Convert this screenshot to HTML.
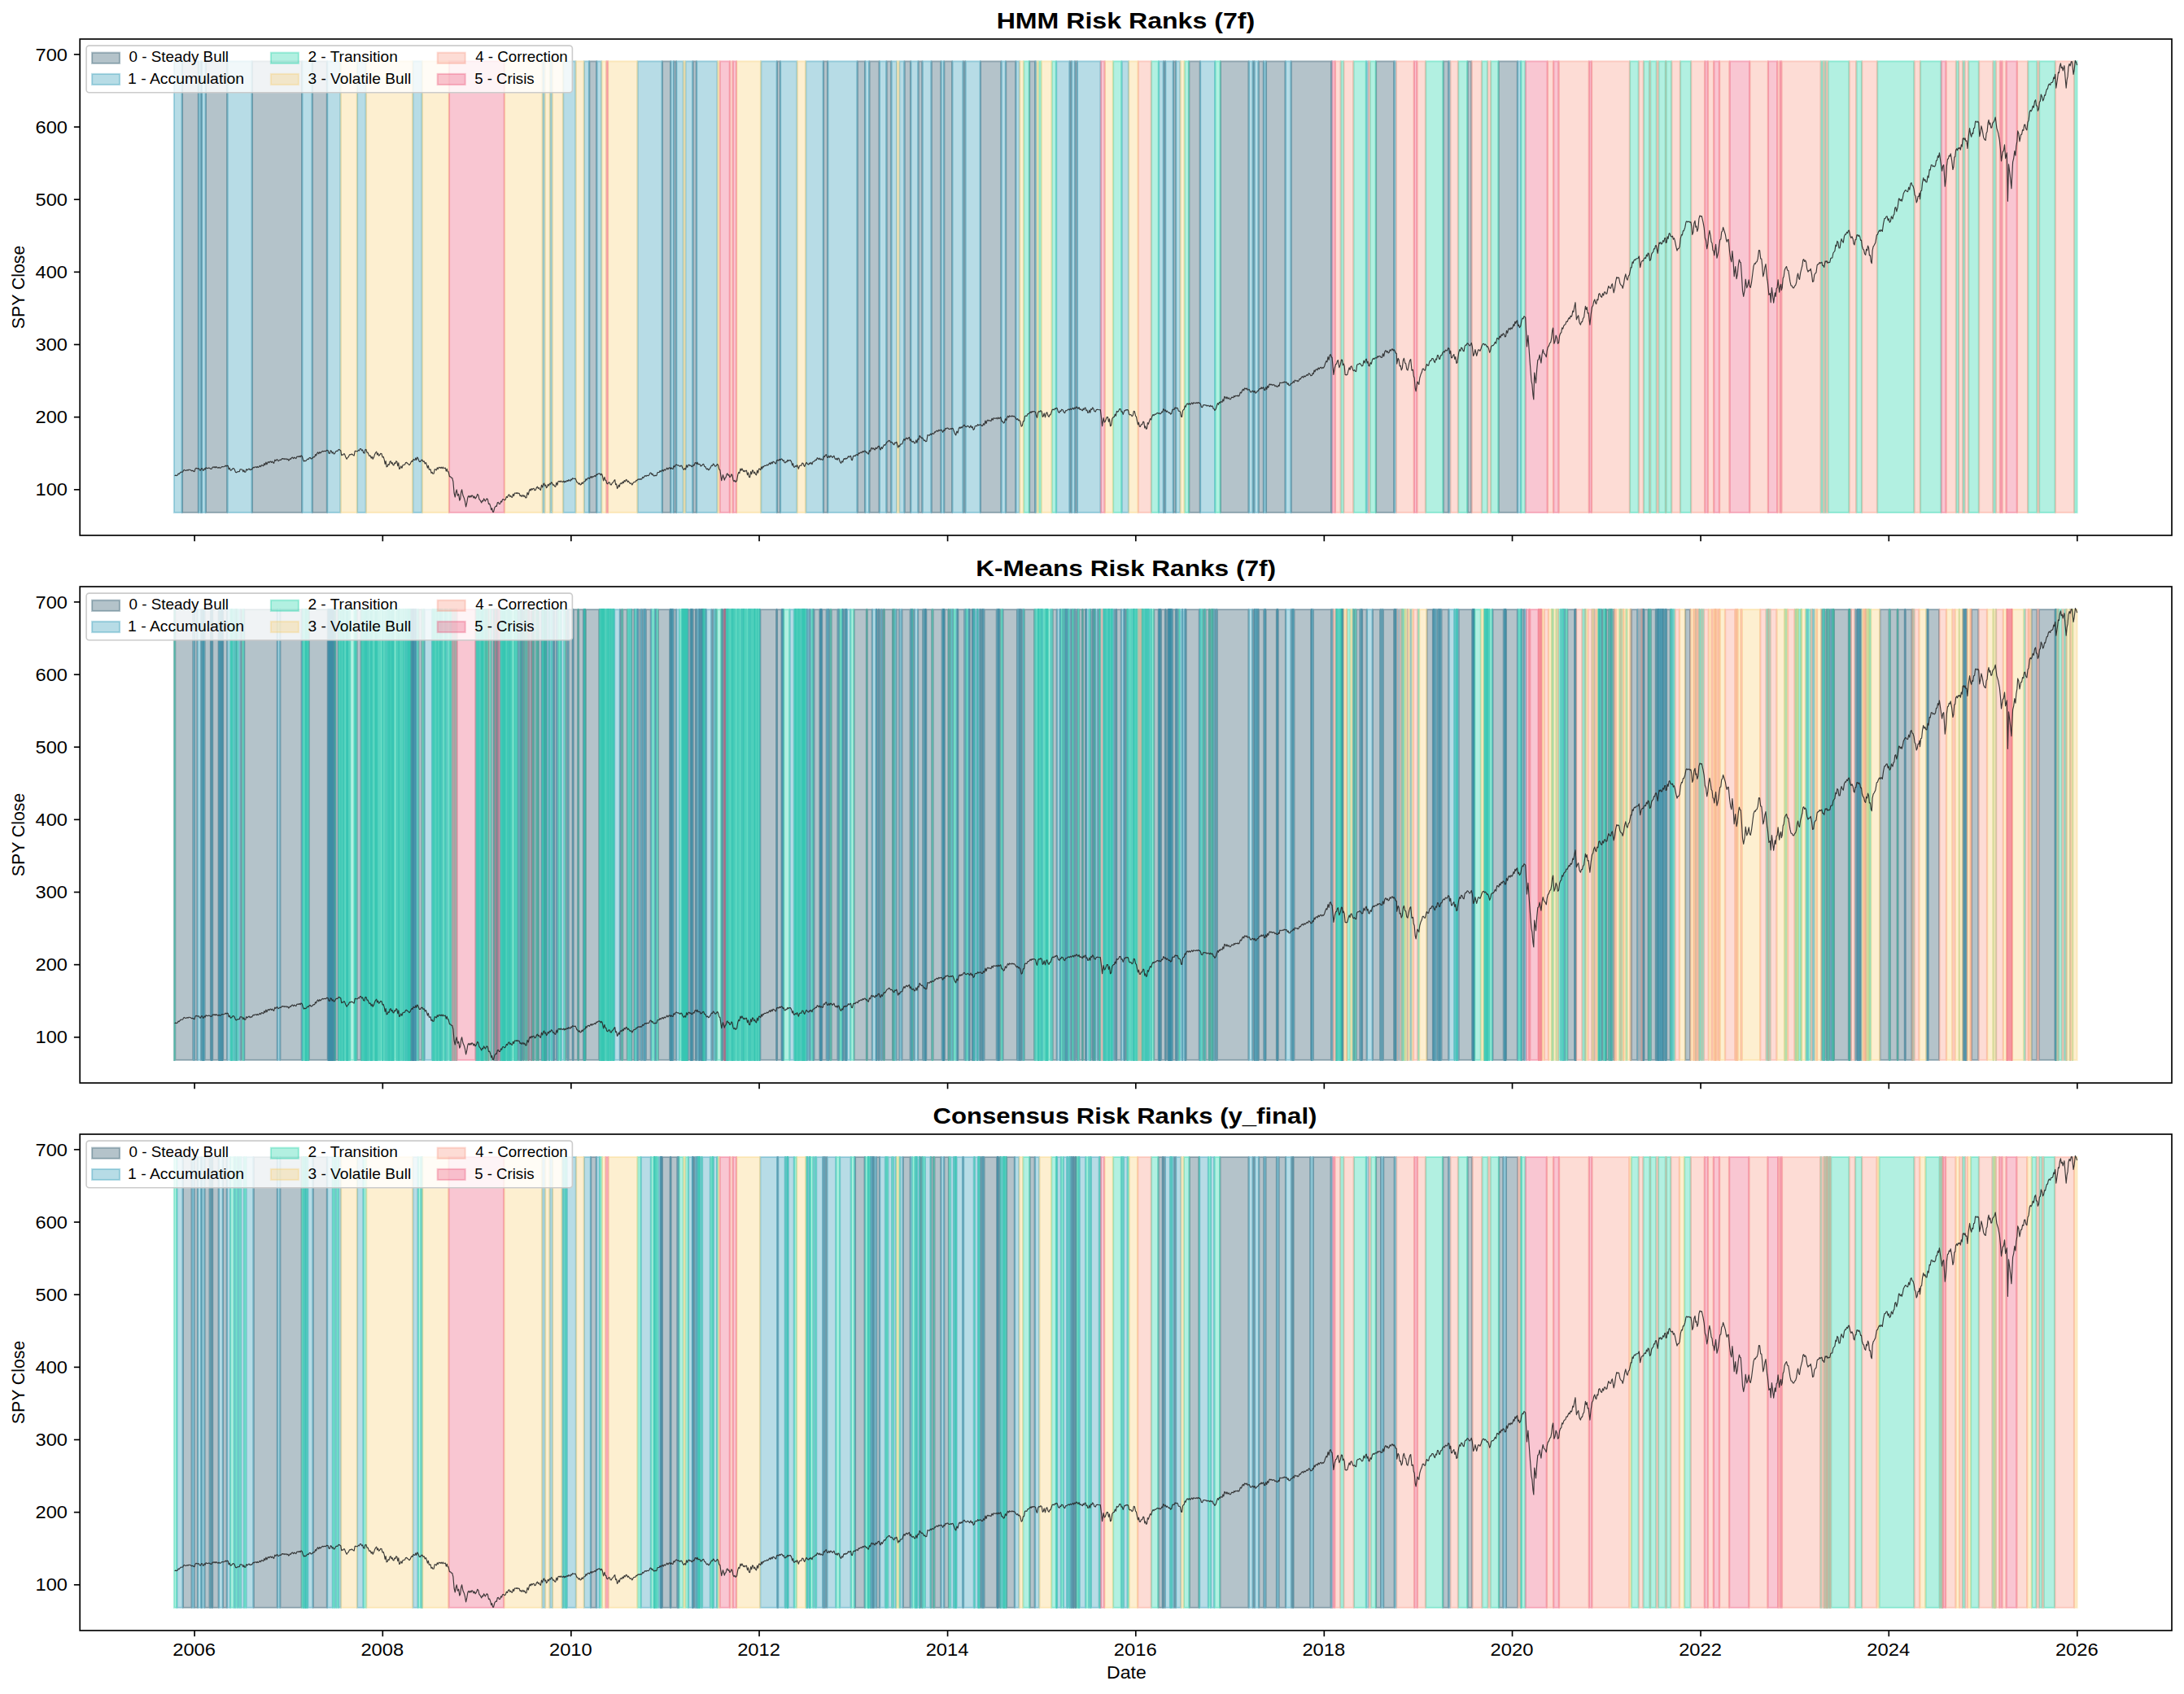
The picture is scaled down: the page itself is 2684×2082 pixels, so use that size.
<!DOCTYPE html><html><head><meta charset="utf-8"><style>html,body{margin:0;padding:0;background:#fff;width:2684px;height:2082px;overflow:hidden}svg{display:block}text{font-family:"Liberation Sans",sans-serif;fill:#000}.b0 rect{y:75.30px;height:554.70px}.b1 rect{y:749.00px;height:553.90px}.b2 rect{y:1422.00px;height:553.90px}.rS{fill:rgb(5,55,78);fill-opacity:0.300;stroke:rgb(5,55,78);stroke-opacity:0.300;stroke-width:2.08px}.rA{fill:rgb(15,138,172);fill-opacity:0.300;stroke:rgb(15,138,172);stroke-opacity:0.300;stroke-width:2.08px}.rT{fill:rgb(0,205,155);fill-opacity:0.300;stroke:rgb(0,205,155);stroke-opacity:0.300;stroke-width:2.08px}.rV{fill:rgb(248,202,98);fill-opacity:0.300;stroke:rgb(248,202,98);stroke-opacity:0.300;stroke-width:2.08px}.rR{fill:rgb(248,140,116);fill-opacity:0.300;stroke:rgb(248,140,116);stroke-opacity:0.300;stroke-width:2.08px}.rC{fill:rgb(235,65,105);fill-opacity:0.300;stroke:rgb(235,65,105);stroke-opacity:0.300;stroke-width:2.08px}</style></head><body>
<svg width="2684" height="2082" viewBox="0 0 2684 2082">
<rect width="2684" height="2082" fill="#fff"/>
<g class="b0">
<g class="rS">
<rect x="224.01" width="19.76"/><rect x="246.98" width="0.92"/><rect x="252.95" width="26.19"/><rect x="309.93" width="61.11"/><rect x="383.90" width="17.92"/><rect x="724.37" width="8.73"/><rect x="813.97" width="10.11"/><rect x="828.21" width="2.76"/><rect x="851.64" width="4.14"/><rect x="955.02" width="3.68"/><rect x="1012.00" width="5.05"/><rect x="1053.81" width="9.19"/><rect x="1068.51" width="11.95"/><rect x="1089.65" width="5.51"/><rect x="1111.70" width="7.35"/><rect x="1128.70" width="4.59"/><rect x="1144.79" width="11.49"/><rect x="1160.41" width="9.65"/><rect x="1183.84" width="2.30"/><rect x="1204.98" width="25.27"/><rect x="1236.22" width="11.95"/><rect x="1265.17" width="6.89"/><rect x="1314.79" width="1.84"/><rect x="1321.22" width="2.30"/><rect x="1430.12" width="1.84"/><rect x="1442.06" width="2.76"/><rect x="1461.36" width="13.32"/><rect x="1499.96" width="34.46"/><rect x="1539.93" width="1.38"/><rect x="1546.82" width="5.97"/><rect x="1556.01" width="23.43"/><rect x="1586.80" width="49.16"/><rect x="1691.09" width="22.05"/><rect x="1773.80" width="6.43"/><rect x="1803.66" width="4.59"/><rect x="1841.80" width="22.97"/>
</g>
<g class="rA">
<rect x="213.90" width="9.65"/><rect x="244.22" width="2.30"/><rect x="248.36" width="4.14"/><rect x="279.60" width="29.87"/><rect x="371.50" width="11.95"/><rect x="402.28" width="16.08"/><rect x="439.04" width="10.57"/><rect x="507.50" width="11.03"/><rect x="666.94" width="2.30"/><rect x="676.13" width="2.30"/><rect x="692.21" width="15.16"/><rect x="717.94" width="5.97"/><rect x="733.56" width="5.51"/><rect x="783.64" width="29.87"/><rect x="824.54" width="3.22"/><rect x="831.43" width="8.27"/><rect x="842.45" width="8.73"/><rect x="856.24" width="25.27"/><rect x="935.27" width="19.30"/><rect x="959.16" width="20.22"/><rect x="990.40" width="21.14"/><rect x="1017.51" width="35.84"/><rect x="1063.46" width="4.59"/><rect x="1080.92" width="8.27"/><rect x="1095.62" width="6.43"/><rect x="1105.27" width="5.97"/><rect x="1119.51" width="8.73"/><rect x="1133.76" width="10.57"/><rect x="1156.73" width="3.22"/><rect x="1170.52" width="12.87"/><rect x="1186.60" width="17.92"/><rect x="1230.71" width="5.05"/><rect x="1248.63" width="4.14"/><rect x="1272.52" width="1.38"/><rect x="1298.25" width="16.08"/><rect x="1317.09" width="3.68"/><rect x="1323.98" width="28.49"/><rect x="1378.66" width="8.27"/><rect x="1424.14" width="5.51"/><rect x="1432.41" width="9.19"/><rect x="1445.28" width="5.05"/><rect x="1475.14" width="17.92"/><rect x="1534.87" width="4.59"/><rect x="1541.77" width="4.59"/><rect x="1553.25" width="2.30"/><rect x="1579.90" width="6.43"/><rect x="1636.42" width="0.46"/><rect x="1679.15" width="2.30"/><rect x="1713.61" width="1.84"/><rect x="1780.69" width="1.38"/><rect x="1865.23" width="3.68"/>
</g>
<g class="rT">
<rect x="1258.27" width="6.43"/><rect x="1276.65" width="2.76"/><rect x="1292.73" width="5.05"/><rect x="1368.09" width="10.11"/><rect x="1414.95" width="8.73"/><rect x="1455.85" width="5.05"/><rect x="1493.52" width="5.97"/><rect x="1647.90" width="3.22"/><rect x="1663.53" width="15.16"/><rect x="1683.74" width="6.89"/><rect x="1752.20" width="21.14"/><rect x="1792.18" width="11.03"/><rect x="1821.12" width="6.89"/><rect x="1832.15" width="9.19"/><rect x="1869.37" width="5.05"/><rect x="2003.07" width="10.57"/><rect x="2020.07" width="6.89"/><rect x="2028.35" width="7.35"/><rect x="2038.45" width="8.27"/><rect x="2047.64" width="6.43"/><rect x="2065.10" width="12.87"/><rect x="2237.86" width="2.30"/><rect x="2242.46" width="1.38"/><rect x="2246.59" width="25.73"/><rect x="2281.51" width="6.43"/><rect x="2307.24" width="45.03"/><rect x="2360.08" width="25.27"/><rect x="2404.19" width="2.76"/><rect x="2412.46" width="1.84"/><rect x="2419.35" width="12.41"/><rect x="2449.68" width="2.76"/><rect x="2492.41" width="11.03"/><rect x="2506.19" width="19.30"/><rect x="2549.38" width="3.22"/>
</g>
<g class="rV">
<rect x="418.82" width="19.76"/><rect x="450.07" width="56.97"/><rect x="518.99" width="32.62"/><rect x="620.07" width="46.41"/><rect x="669.69" width="5.97"/><rect x="678.88" width="12.87"/><rect x="707.83" width="9.65"/><rect x="739.53" width="5.51"/><rect x="747.34" width="35.84"/><rect x="840.16" width="1.84"/><rect x="881.97" width="2.30"/><rect x="905.40" width="29.41"/><rect x="979.84" width="10.11"/><rect x="1102.51" width="2.30"/><rect x="1253.22" width="4.59"/><rect x="1274.36" width="1.84"/><rect x="1279.87" width="12.41"/><rect x="1357.98" width="9.65"/><rect x="1387.39" width="11.03"/><rect x="1450.79" width="4.59"/>
</g>
<g class="rR">
<rect x="897.13" width="3.22"/><rect x="1398.87" width="15.62"/><rect x="1641.01" width="6.43"/><rect x="1651.58" width="11.49"/><rect x="1681.91" width="1.38"/><rect x="1715.91" width="21.60"/><rect x="1741.64" width="10.11"/><rect x="1782.53" width="9.19"/><rect x="1808.72" width="11.95"/><rect x="1828.48" width="3.22"/><rect x="1901.99" width="6.89"/><rect x="1915.78" width="36.76"/><rect x="1956.21" width="46.41"/><rect x="2014.10" width="5.51"/><rect x="2027.43" width="0.46"/><rect x="2036.16" width="1.84"/><rect x="2047.18" width="0.01"/><rect x="2054.54" width="10.11"/><rect x="2078.43" width="16.54"/><rect x="2099.10" width="6.89"/><rect x="2113.35" width="11.95"/><rect x="2150.56" width="22.05"/><rect x="2184.56" width="2.76"/><rect x="2189.62" width="47.78"/><rect x="2240.62" width="1.38"/><rect x="2244.30" width="1.84"/><rect x="2272.78" width="8.27"/><rect x="2288.41" width="18.38"/><rect x="2352.73" width="6.89"/><rect x="2391.79" width="11.95"/><rect x="2407.41" width="4.59"/><rect x="2414.76" width="4.14"/><rect x="2432.22" width="17.00"/><rect x="2452.90" width="5.05"/><rect x="2460.71" width="4.59"/><rect x="2479.08" width="12.87"/><rect x="2503.90" width="1.84"/><rect x="2525.95" width="22.97"/>
</g>
<g class="rC">
<rect x="552.07" width="67.54"/><rect x="745.51" width="1.38"/><rect x="884.73" width="11.95"/><rect x="900.81" width="4.14"/><rect x="1352.93" width="4.59"/><rect x="1637.34" width="3.22"/><rect x="1737.96" width="3.22"/><rect x="1874.88" width="26.65"/><rect x="1909.34" width="5.97"/><rect x="1952.99" width="2.76"/><rect x="2095.43" width="3.22"/><rect x="2106.46" width="6.43"/><rect x="2125.75" width="24.35"/><rect x="2173.08" width="11.03"/><rect x="2187.78" width="1.38"/><rect x="2385.81" width="5.51"/><rect x="2458.41" width="1.84"/><rect x="2465.76" width="12.87"/>
</g>
</g>
<polyline points="214.6,584.8 215.8,584.1 217.0,584.6 218.2,584.0 219.1,582.1 220.1,582.7 221.0,581.5 222.3,580.1 223.7,580.2 224.6,580.0 225.6,577.9 226.5,577.4 227.8,578.4 229.2,578.1 230.1,577.6 231.1,578.2 232.0,577.2 232.9,577.2 234.7,578.1 235.8,578.8 236.8,578.3 237.9,579.3 239.0,579.6 240.0,576.1 241.1,575.3 242.2,575.9 243.4,575.8 244.4,575.8 245.3,577.8 246.4,578.1 247.5,575.8 248.4,575.6 249.4,578.1 250.3,578.1 251.2,575.8 252.2,577.1 253.1,574.6 254.0,575.3 255.2,575.6 256.4,575.0 257.6,575.3 258.8,576.2 259.9,576.5 261.0,574.5 262.2,573.8 263.1,574.7 264.0,573.7 265.0,574.8 265.9,573.6 266.8,574.4 268.0,575.2 269.2,574.3 270.4,575.3 271.3,575.0 272.3,573.8 273.2,573.5 274.5,573.8 275.9,573.5 277.0,572.1 278.0,573.2 279.1,572.1 280.2,572.5 281.2,576.8 282.2,575.2 283.3,578.1 284.6,577.6 286.0,575.8 287.1,575.5 288.3,577.2 289.5,580.4 290.6,580.8 292.0,579.7 293.3,579.5 294.2,579.6 295.2,576.7 296.1,576.7 297.9,577.2 298.8,579.7 299.8,577.9 300.7,580.2 301.8,580.1 302.9,576.5 304.1,578.0 305.2,576.5 306.2,576.1 307.3,577.7 308.3,576.7 309.4,577.2 311.2,574.4 312.3,574.8 313.3,573.9 314.4,574.0 315.3,574.6 316.2,573.4 317.2,574.5 318.1,574.0 319.2,572.3 320.4,573.7 321.5,571.6 322.6,572.1 323.7,572.7 324.7,569.7 325.8,571.3 326.9,568.1 327.9,570.8 329.0,568.5 329.9,567.5 330.9,568.7 331.8,567.2 332.7,567.1 333.6,568.5 334.6,567.2 335.5,568.5 336.6,569.4 337.8,565.1 338.9,566.5 340.0,564.8 340.9,564.7 341.9,566.6 342.8,566.2 344.0,565.1 345.2,565.5 346.4,563.9 347.3,563.6 348.2,564.1 349.2,563.7 350.1,564.6 351.0,563.9 351.9,563.8 352.8,564.9 353.8,564.1 354.7,566.1 355.6,565.3 356.5,563.9 357.5,564.3 358.4,562.5 359.5,562.0 360.6,563.6 361.8,562.1 362.9,563.0 363.8,563.6 364.8,561.2 365.7,561.1 366.8,561.5 367.9,560.5 369.0,561.7 370.1,559.9 371.2,560.7 372.4,564.7 373.5,567.1 374.6,566.2 375.6,566.6 376.7,565.7 377.9,564.0 379.1,564.6 380.3,562.5 381.2,562.4 382.2,563.9 383.4,563.7 384.6,562.1 385.8,561.6 386.7,561.6 387.6,558.6 388.6,559.8 389.5,557.5 390.6,555.8 391.7,557.7 392.8,555.5 393.9,556.9 395.0,555.6 396.2,554.3 397.4,555.0 398.6,554.3 400.0,554.7 401.8,553.3 403.0,553.5 404.1,557.0 405.2,557.4 406.2,553.7 407.3,554.2 408.2,557.0 409.2,555.7 410.1,557.9 411.3,557.6 412.5,554.9 413.7,554.2 414.8,554.5 415.8,552.7 416.9,552.4 417.9,553.4 418.8,553.8 419.7,559.7 420.6,558.8 421.5,559.2 422.5,557.7 423.4,557.9 424.8,561.7 426.1,564.3 427.2,562.2 428.2,561.7 429.3,559.3 430.2,558.5 431.2,559.0 432.1,557.9 433.2,558.5 434.3,559.7 435.2,560.0 436.2,554.4 437.1,554.2 438.2,554.7 439.4,554.7 440.4,553.2 441.4,553.9 442.5,551.5 443.5,551.5 444.6,553.8 445.6,552.9 446.7,556.5 447.8,557.1 448.8,552.7 449.9,552.4 451.0,556.1 452.0,556.0 453.1,558.8 454.1,560.6 455.1,559.9 456.2,563.1 457.2,561.2 458.2,564.3 459.3,562.3 460.4,558.8 461.5,556.5 462.7,555.1 463.6,558.9 464.6,557.1 465.5,560.2 466.6,559.3 467.8,557.4 468.9,557.5 470.1,562.0 471.2,561.4 472.3,565.2 473.2,570.3 474.1,566.6 475.1,573.8 476.0,573.5 477.0,570.7 478.1,571.4 479.1,567.4 480.1,566.6 481.0,569.8 482.0,568.4 482.9,571.2 483.9,572.0 484.9,568.9 485.9,569.7 486.9,566.7 487.9,567.5 488.8,572.7 489.8,568.9 490.7,576.4 491.6,575.8 492.8,572.9 493.9,575.2 495.1,571.6 496.2,571.2 497.4,571.2 498.6,568.6 499.8,568.4 500.9,569.8 501.9,570.2 503.0,571.6 504.1,570.4 505.3,567.5 506.2,566.3 507.1,567.4 508.1,564.4 509.0,565.2 509.9,565.5 510.8,562.9 511.8,565.3 512.7,562.0 513.6,562.9 515.4,567.5 516.6,567.4 517.8,565.4 519.0,565.2 520.1,567.5 521.2,566.8 522.3,570.0 523.4,568.5 524.5,571.6 525.4,575.1 526.4,572.3 527.3,577.1 528.2,577.1 529.1,576.8 530.0,581.5 531.0,580.3 531.9,582.2 533.1,582.1 534.3,576.7 535.5,577.1 536.4,577.8 537.3,574.8 538.3,576.4 539.2,574.4 540.1,574.4 541.2,575.4 542.2,574.2 543.3,575.7 544.4,574.0 545.4,575.7 546.5,575.3 547.4,575.1 548.3,579.1 549.3,576.4 550.2,579.7 551.1,579.9 552.5,585.8 553.6,585.9 554.6,587.1 555.7,587.2 556.9,591.9 558.1,606.0 559.3,611.0 560.2,605.3 561.2,601.8 562.4,609.2 563.6,607.2 564.8,615.1 565.7,613.2 566.7,604.6 567.6,601.8 569.0,609.1 570.3,611.9 571.5,616.3 572.6,622.9 573.8,617.7 574.9,611.0 575.9,609.4 576.9,611.3 577.9,609.3 578.9,611.0 579.9,608.8 580.9,609.2 582.0,612.0 583.0,610.0 584.1,612.8 585.5,610.9 586.8,607.3 587.9,608.6 588.9,613.5 590.0,614.7 591.8,617.9 592.7,615.3 593.7,616.0 594.6,612.8 596.4,616.0 598.2,612.8 599.4,613.8 600.5,619.5 601.6,619.0 602.8,622.5 603.7,626.7 604.6,624.6 605.6,629.1 606.5,629.3 607.9,623.8 609.2,622.0 610.3,622.4 611.3,617.8 612.4,617.4 613.5,619.5 614.7,619.2 615.6,616.0 616.6,617.0 617.5,613.8 618.9,613.6 620.2,614.7 621.3,613.9 622.4,610.4 623.5,611.5 624.6,608.6 625.7,607.8 626.6,610.3 627.6,609.4 628.5,611.0 629.5,611.3 630.5,607.3 631.5,609.4 632.5,606.0 633.5,606.0 634.4,606.5 635.4,605.5 636.3,606.7 637.2,606.0 638.2,606.5 639.2,609.6 640.3,608.6 641.3,610.5 642.7,608.3 643.8,610.3 644.8,609.2 645.9,611.9 647.0,611.7 648.1,605.4 649.3,608.0 650.4,603.2 651.3,601.2 652.2,603.0 653.2,600.5 654.1,602.0 655.0,600.5 656.1,600.3 657.1,602.7 658.2,602.3 659.4,599.2 660.5,598.2 661.4,600.3 662.4,599.3 663.3,601.4 664.4,602.3 665.5,596.2 666.7,598.9 667.8,595.0 668.7,594.0 669.6,597.2 670.6,596.0 671.5,599.6 672.4,598.6 673.4,595.3 674.4,597.0 675.5,594.3 676.5,595.2 677.5,592.7 678.5,593.4 679.5,596.1 680.6,595.9 681.6,597.7 682.7,598.3 683.8,593.0 684.9,596.2 686.0,591.7 687.1,591.3 688.2,592.3 689.4,591.0 690.5,592.3 691.6,592.2 692.5,591.1 693.4,592.9 694.4,591.3 695.3,592.5 696.2,591.3 697.1,590.5 698.0,591.5 699.0,589.6 699.9,590.4 700.8,591.2 701.7,589.0 702.7,589.8 703.6,587.7 704.5,588.1 705.9,588.5 707.2,588.1 709.0,592.7 710.0,592.9 711.1,595.1 712.2,593.8 713.2,595.9 714.2,595.5 715.2,593.0 716.2,594.5 717.2,592.2 718.2,591.8 719.1,591.7 720.0,588.7 721.0,590.1 721.9,588.1 723.1,587.3 724.3,588.3 725.5,586.7 726.4,585.5 727.3,587.3 728.3,585.6 729.2,586.1 730.1,585.4 731.0,584.5 731.9,585.6 732.9,583.1 733.8,583.6 734.7,582.6 736.0,581.9 737.4,582.2 738.3,584.0 739.3,582.3 740.2,584.0 741.6,590.9 742.9,586.3 743.8,590.1 744.8,590.5 745.7,594.1 746.9,594.8 748.1,592.7 749.3,593.1 750.2,595.7 751.2,595.9 752.4,593.4 753.6,592.8 754.8,590.4 755.7,589.7 756.6,595.6 757.6,594.8 758.5,600.4 759.4,599.1 760.3,596.1 761.2,598.3 762.2,594.4 763.1,593.6 764.1,594.7 765.2,592.1 766.2,593.7 767.3,590.5 768.3,591.9 769.4,589.4 770.4,590.0 771.3,592.4 772.3,591.2 773.2,592.7 774.4,594.3 775.6,593.8 776.8,595.9 778.6,592.7 780.0,592.4 780.9,592.3 781.9,590.3 782.8,590.6 783.7,589.2 784.7,588.9 785.7,589.4 786.7,588.5 787.7,589.3 788.7,588.8 789.8,586.3 790.8,587.3 791.9,585.5 793.0,584.5 794.1,585.4 795.2,584.2 796.3,584.7 797.4,584.2 799.2,581.0 800.1,581.2 801.0,583.2 802.0,582.3 802.9,584.6 803.9,585.1 805.0,584.1 806.0,584.8 807.0,584.2 808.1,580.6 809.3,580.5 810.2,580.4 811.1,578.5 812.1,579.9 813.0,578.7 814.1,577.5 815.2,579.1 816.3,576.9 817.4,578.0 818.5,576.8 819.7,575.2 820.9,576.9 822.1,575.0 823.0,574.7 824.0,576.4 824.9,574.9 825.8,575.9 826.9,576.5 828.0,572.7 829.1,574.0 830.2,571.4 831.3,570.9 832.5,571.9 833.7,571.8 834.9,572.7 835.8,573.3 836.8,572.1 837.7,572.3 839.0,575.5 840.4,577.3 841.5,575.5 842.6,577.1 843.7,571.6 844.8,574.4 845.9,571.4 846.9,571.2 847.9,572.6 849.0,571.9 850.0,573.6 851.0,573.2 852.0,571.4 853.0,572.1 854.1,568.9 855.1,568.6 856.0,570.3 857.0,568.2 857.9,570.8 858.8,570.4 860.0,570.5 861.2,573.0 862.4,572.3 863.5,570.8 864.7,570.4 865.8,573.4 866.8,573.6 867.9,575.9 868.8,576.9 869.8,575.9 870.7,577.7 871.6,577.3 873.4,574.1 874.5,572.0 875.5,572.5 876.6,570.0 877.8,571.3 878.9,573.2 880.2,572.5 881.6,570.4 882.7,572.1 883.8,576.8 884.9,577.8 886.7,590.6 888.5,583.7 890.3,590.1 891.2,587.3 892.1,586.7 893.1,582.6 894.0,581.9 894.9,584.2 895.9,583.6 896.8,586.5 897.9,585.8 899.0,582.8 900.0,584.1 900.9,589.7 902.0,591.7 903.0,590.3 904.1,592.4 905.5,590.9 906.8,583.3 907.8,580.4 908.8,581.7 909.9,576.0 910.9,578.3 911.9,575.9 913.7,579.6 914.6,578.3 915.5,579.8 916.5,578.3 917.4,578.2 918.5,583.7 919.5,580.9 920.6,586.5 921.6,586.6 922.7,579.6 923.7,582.7 924.7,577.8 925.6,578.4 926.5,581.7 927.5,580.2 928.4,582.8 929.5,583.8 930.6,578.1 931.6,581.2 932.7,576.0 933.8,576.4 934.7,577.6 935.7,573.8 936.6,576.1 937.5,573.3 938.4,573.9 939.4,572.3 940.3,572.3 941.4,572.5 942.5,571.0 943.7,572.0 944.8,570.4 945.9,568.9 946.9,570.6 948.0,568.0 949.1,569.8 950.1,567.2 951.2,567.7 952.4,569.1 953.5,570.0 954.6,565.9 955.8,565.4 956.9,566.1 958.0,564.4 959.1,565.5 960.2,563.9 961.3,564.5 962.2,566.4 963.2,565.7 964.1,568.6 965.1,568.8 966.1,567.2 967.0,567.8 968.0,565.3 969.0,566.7 970.0,565.6 971.4,565.6 972.7,567.9 973.6,572.0 974.5,569.6 975.5,574.0 976.4,574.3 977.5,572.5 978.5,573.7 979.6,571.6 981.4,576.2 982.5,572.5 983.7,572.0 984.8,572.2 985.8,569.1 986.9,569.3 987.8,571.9 988.8,573.4 990.0,570.2 991.1,568.4 992.5,570.4 993.8,571.1 994.7,569.0 995.7,570.0 996.6,568.4 997.9,570.7 999.0,567.6 1000.2,567.0 1001.2,566.6 1002.2,565.1 1003.3,565.5 1004.3,562.7 1005.3,563.3 1006.3,564.7 1007.3,563.1 1008.3,565.0 1009.3,564.0 1010.3,565.2 1011.3,565.1 1012.3,560.8 1013.4,561.4 1014.4,559.2 1015.5,558.7 1016.5,561.9 1017.6,562.4 1018.7,560.2 1019.7,562.2 1020.8,560.1 1022.0,560.9 1023.1,562.4 1024.9,560.1 1026.1,563.6 1027.2,564.7 1028.1,563.3 1029.1,565.2 1030.0,563.0 1030.9,563.3 1032.2,567.3 1033.6,569.3 1034.7,566.8 1035.7,568.0 1036.8,564.2 1037.7,563.5 1038.6,564.5 1039.6,563.1 1040.5,563.9 1041.4,562.9 1042.5,560.7 1043.5,561.8 1044.6,560.6 1045.5,560.4 1046.5,565.3 1047.4,565.6 1048.6,560.7 1049.7,560.1 1050.9,560.6 1052.1,558.8 1053.3,558.8 1054.2,559.6 1055.2,556.8 1056.1,557.4 1057.0,556.5 1058.1,555.8 1059.1,556.6 1060.2,554.5 1061.3,555.6 1062.3,554.1 1063.4,554.2 1064.3,556.1 1065.3,555.6 1066.2,557.4 1067.3,558.1 1068.5,553.7 1069.6,554.7 1070.7,551.0 1071.6,550.3 1072.6,552.0 1073.5,550.9 1074.4,552.3 1075.3,552.9 1076.2,550.2 1077.2,551.5 1078.1,550.5 1079.2,548.6 1080.3,548.2 1081.2,551.6 1082.2,552.8 1083.3,549.5 1084.3,551.4 1085.4,548.7 1086.6,546.6 1087.8,547.2 1089.0,545.0 1090.1,543.0 1091.1,543.0 1092.2,541.4 1093.3,541.6 1094.4,543.7 1095.5,543.2 1096.6,543.9 1097.7,545.9 1098.8,546.7 1099.8,543.9 1100.9,544.5 1101.9,543.2 1103.7,550.1 1104.6,547.8 1105.6,548.7 1106.5,546.0 1107.4,545.9 1108.8,545.6 1110.1,541.4 1111.0,539.6 1112.0,541.3 1112.9,539.5 1114.1,538.2 1115.3,539.7 1116.5,538.2 1117.4,537.4 1118.3,541.5 1119.3,539.8 1120.2,542.3 1121.3,543.2 1122.5,542.3 1123.7,544.8 1124.8,544.6 1125.9,540.9 1126.9,544.1 1128.0,539.4 1129.1,540.1 1130.1,535.3 1131.2,536.8 1132.4,538.4 1133.6,538.0 1134.8,540.0 1135.7,541.6 1136.7,541.1 1137.6,542.7 1138.8,542.5 1140.0,534.6 1141.2,534.9 1142.3,535.1 1143.4,533.2 1144.5,534.4 1145.6,532.6 1146.7,533.1 1147.6,533.2 1148.6,530.9 1149.5,531.3 1150.4,529.9 1151.5,529.2 1152.6,530.4 1153.7,528.3 1154.8,529.2 1155.9,528.5 1157.2,528.4 1158.6,531.3 1160.0,528.4 1160.9,529.3 1161.8,526.4 1162.8,527.1 1163.7,526.1 1164.9,526.1 1166.1,527.4 1167.3,527.5 1168.2,526.7 1169.2,527.3 1170.1,526.3 1171.0,526.5 1172.8,531.1 1173.8,533.7 1174.7,534.8 1175.9,530.0 1177.1,532.1 1178.3,526.5 1179.2,525.1 1180.1,526.5 1181.1,524.7 1182.0,525.9 1182.9,524.7 1184.1,522.8 1185.2,522.4 1186.3,524.2 1187.5,524.7 1189.3,523.3 1190.4,524.1 1191.6,525.6 1193.0,522.9 1194.1,525.7 1195.1,524.3 1196.2,528.4 1197.3,527.4 1198.3,523.7 1199.4,523.3 1200.6,523.8 1201.7,521.6 1202.8,522.8 1204.0,522.0 1205.2,521.9 1206.4,523.3 1207.6,523.3 1208.7,520.7 1209.8,522.2 1210.9,517.0 1212.0,520.5 1213.1,516.9 1214.0,516.2 1214.9,517.1 1215.9,516.7 1216.8,516.9 1217.9,517.6 1219.0,514.4 1220.1,516.2 1221.2,513.7 1222.3,514.2 1223.4,514.3 1224.4,513.6 1225.5,514.8 1226.6,513.1 1227.6,514.6 1228.7,513.7 1229.8,512.8 1231.0,517.9 1232.2,517.8 1233.3,520.1 1234.4,519.2 1235.5,514.7 1236.7,516.7 1237.8,512.8 1238.7,511.3 1239.7,513.0 1240.6,510.9 1241.5,511.4 1242.7,512.0 1243.8,510.9 1244.9,511.9 1246.1,511.4 1247.2,512.4 1248.4,514.2 1249.4,515.7 1250.5,514.6 1251.5,516.8 1252.5,516.0 1253.8,517.9 1255.2,524.2 1256.3,523.1 1257.4,517.9 1258.5,517.7 1259.6,511.2 1260.7,511.0 1261.8,511.5 1263.0,508.6 1264.2,508.7 1265.3,507.3 1266.2,506.1 1267.1,507.4 1268.1,505.6 1269.0,506.4 1269.9,505.5 1271.7,505.9 1272.6,506.4 1273.6,511.4 1274.5,513.3 1275.8,506.8 1276.9,505.4 1277.9,506.1 1279.0,504.6 1280.2,505.6 1281.3,512.3 1282.2,511.5 1283.2,507.8 1284.5,512.8 1285.7,507.6 1286.8,506.8 1287.9,510.9 1289.1,512.3 1290.0,509.8 1291.0,509.8 1291.9,507.3 1293.2,503.4 1294.6,503.2 1295.5,503.8 1296.4,502.1 1297.4,502.6 1298.3,501.4 1299.2,501.8 1300.6,506.3 1301.9,507.3 1302.8,504.9 1303.8,505.4 1304.7,503.2 1306.1,503.7 1307.4,506.8 1308.6,507.6 1309.7,504.6 1310.8,504.8 1312.0,503.6 1313.1,502.9 1314.2,503.8 1315.3,502.3 1316.4,503.3 1317.5,502.7 1318.6,501.3 1319.6,503.1 1320.7,501.0 1321.8,502.0 1322.8,499.9 1323.9,500.9 1325.0,502.3 1326.1,500.7 1327.2,503.5 1328.3,502.8 1329.4,504.1 1330.3,504.7 1331.2,502.1 1332.2,503.6 1333.1,501.4 1334.0,501.1 1334.9,504.6 1335.9,504.0 1336.8,507.4 1337.7,507.3 1338.7,504.1 1339.7,507.2 1340.7,502.6 1341.7,503.5 1342.7,500.9 1343.8,502.4 1345.0,505.5 1346.2,506.1 1347.4,503.5 1348.6,503.2 1350.0,503.5 1351.2,503.7 1352.3,503.5 1353.4,512.7 1354.6,523.6 1356.0,513.6 1357.3,519.0 1358.2,518.1 1359.2,515.4 1360.3,512.5 1361.4,512.6 1362.5,518.3 1363.5,514.9 1364.5,523.7 1365.6,522.7 1366.9,514.3 1368.3,512.6 1369.3,512.5 1370.3,509.1 1371.4,511.2 1372.4,505.4 1373.4,506.2 1374.6,505.4 1375.8,502.5 1377.0,502.6 1378.1,506.2 1379.1,505.8 1380.2,509.4 1382.0,504.4 1382.9,504.7 1383.8,503.6 1384.8,503.9 1385.7,503.5 1386.6,504.5 1387.6,509.0 1388.5,509.9 1389.8,509.5 1391.2,511.7 1392.3,510.5 1393.3,505.4 1394.4,505.8 1395.5,511.2 1396.5,512.3 1397.6,518.1 1398.5,521.9 1399.4,519.1 1400.4,524.3 1401.3,524.5 1402.5,521.7 1403.7,521.7 1404.9,518.1 1405.8,518.7 1406.8,525.9 1407.7,523.8 1408.6,527.3 1409.5,526.7 1410.4,519.6 1411.4,521.2 1412.3,518.1 1413.5,514.6 1414.7,516.0 1415.9,511.7 1417.0,509.5 1418.1,510.7 1419.2,509.1 1420.3,509.3 1421.4,508.1 1422.5,507.4 1423.6,508.4 1424.7,507.5 1425.8,508.8 1426.9,508.1 1427.8,506.0 1428.8,506.7 1429.7,502.6 1430.6,503.5 1431.5,505.1 1432.4,503.9 1433.4,506.3 1434.3,505.0 1435.2,506.2 1436.3,507.4 1437.5,507.1 1438.6,509.1 1439.7,508.5 1440.8,503.6 1442.0,503.0 1443.0,503.5 1444.1,500.9 1445.2,501.9 1446.2,501.2 1447.3,501.8 1448.3,505.1 1449.4,505.3 1450.5,506.1 1451.6,512.2 1452.5,512.4 1453.5,504.8 1454.4,503.5 1455.3,502.9 1456.2,498.9 1457.2,500.2 1458.1,497.1 1459.2,495.9 1460.3,497.1 1461.4,495.7 1462.5,497.2 1463.6,496.2 1464.7,495.0 1465.8,496.6 1467.0,494.7 1468.1,495.2 1469.2,495.6 1470.2,494.8 1471.3,495.6 1472.4,494.5 1473.4,495.4 1474.5,495.2 1475.5,497.0 1476.4,500.3 1477.6,500.6 1478.8,497.8 1480.0,497.5 1481.1,498.1 1482.2,497.8 1483.3,499.1 1484.4,498.1 1485.5,498.9 1486.4,499.7 1487.3,498.2 1488.3,499.7 1489.2,498.9 1490.1,499.3 1491.1,502.3 1492.0,502.4 1492.9,504.4 1494.2,502.8 1495.6,498.0 1496.5,495.5 1497.4,497.3 1498.4,494.4 1499.3,495.4 1500.2,493.4 1502.0,494.3 1502.9,490.9 1503.8,493.0 1504.8,487.4 1505.7,487.9 1506.8,489.9 1507.9,487.9 1509.0,490.1 1510.1,488.8 1511.2,490.7 1512.4,490.6 1513.6,488.2 1514.8,488.4 1515.7,488.7 1516.6,486.6 1517.6,487.7 1518.5,486.3 1519.4,486.5 1520.3,486.8 1521.2,486.0 1522.2,487.0 1523.1,486.1 1524.3,482.2 1525.5,483.0 1526.7,479.7 1527.6,478.4 1528.6,480.0 1529.5,477.1 1530.4,477.4 1531.3,478.2 1532.2,477.1 1533.2,479.3 1534.1,478.8 1535.4,478.7 1536.8,482.0 1537.9,481.9 1538.9,480.4 1540.0,480.6 1541.0,482.2 1542.0,480.4 1543.1,483.2 1544.1,482.4 1545.2,480.6 1546.2,480.5 1547.3,478.3 1548.2,477.6 1549.1,478.0 1550.1,475.9 1551.0,477.7 1551.9,476.5 1552.8,476.0 1553.8,479.5 1554.7,479.7 1555.7,475.9 1556.7,478.5 1557.7,474.4 1558.7,476.4 1559.7,472.8 1560.7,472.0 1561.7,473.0 1562.7,472.3 1563.7,473.4 1564.7,472.8 1565.8,472.8 1566.9,474.7 1568.0,473.9 1569.1,475.5 1570.2,475.5 1571.1,473.4 1572.1,474.5 1573.0,470.2 1573.9,470.5 1575.0,470.7 1576.0,470.0 1577.1,470.5 1578.2,469.1 1579.2,470.1 1580.3,469.6 1581.2,469.7 1582.2,472.4 1583.1,471.0 1584.0,473.7 1585.2,473.8 1586.4,471.5 1587.6,471.0 1588.5,470.8 1589.4,468.8 1590.4,470.2 1591.3,467.2 1592.2,467.8 1593.1,468.1 1594.1,467.7 1595.0,468.8 1595.9,468.2 1597.1,465.6 1598.3,466.0 1599.5,463.6 1600.6,462.7 1601.7,464.1 1602.8,461.9 1603.9,463.0 1605.0,461.8 1606.2,460.5 1607.3,461.4 1608.4,458.8 1609.6,459.5 1610.9,461.8 1612.3,461.4 1613.2,458.7 1614.1,459.6 1615.1,455.1 1616.0,456.9 1616.9,454.5 1618.0,453.6 1619.1,454.8 1620.2,452.0 1621.3,453.6 1622.4,451.7 1623.4,451.3 1624.5,452.8 1625.5,451.5 1626.5,452.2 1627.7,450.0 1628.8,446.2 1629.9,443.7 1630.9,444.9 1632.0,438.5 1633.1,442.4 1634.1,436.5 1635.2,435.7 1636.2,438.8 1637.1,439.4 1638.9,460.4 1640.2,452.3 1641.6,447.6 1642.5,447.3 1643.5,443.6 1644.4,442.6 1645.8,451.7 1647.2,448.4 1648.5,442.1 1649.4,442.2 1650.3,448.8 1651.3,447.1 1652.2,449.9 1653.1,460.4 1654.4,460.9 1655.8,460.4 1657.2,454.9 1658.1,451.8 1659.1,454.5 1660.0,450.4 1660.9,449.9 1662.7,454.9 1663.6,455.7 1664.6,454.7 1665.5,456.3 1666.6,456.6 1667.6,448.6 1668.7,447.6 1669.8,447.7 1670.8,446.5 1671.9,447.2 1673.7,449.9 1674.8,449.5 1676.0,443.2 1677.2,446.1 1678.3,442.1 1679.2,441.1 1680.1,446.2 1681.1,444.3 1682.0,449.5 1682.9,449.9 1684.1,445.7 1685.3,447.3 1686.5,442.1 1687.7,440.3 1688.8,441.5 1689.9,439.8 1691.1,439.8 1692.0,440.0 1692.9,437.8 1693.9,438.8 1694.8,437.5 1696.0,437.7 1697.2,439.3 1698.4,439.4 1699.6,434.7 1700.7,438.0 1701.8,432.1 1703.0,430.7 1704.1,432.9 1705.1,431.5 1706.2,433.9 1707.2,433.2 1708.2,429.8 1709.3,431.1 1710.3,429.3 1711.2,428.9 1712.2,431.0 1713.1,429.7 1714.0,431.1 1715.2,433.8 1716.3,434.8 1716.7,447.2 1718.1,440.3 1719.1,442.1 1720.2,449.9 1721.2,449.4 1722.2,454.9 1723.3,452.6 1724.3,443.2 1725.4,440.3 1726.6,446.0 1727.7,447.0 1728.8,453.9 1730.0,455.2 1731.8,446.1 1732.8,442.6 1733.7,441.5 1735.0,455.2 1736.4,454.3 1737.3,462.3 1738.2,464.8 1739.2,477.1 1740.1,480.9 1741.9,469.0 1743.7,472.6 1744.8,464.5 1746.0,460.3 1747.2,457.8 1748.3,453.4 1749.4,453.2 1750.4,455.0 1751.5,455.2 1752.5,450.5 1753.4,447.5 1754.5,449.1 1755.6,449.3 1756.5,445.6 1757.5,443.3 1758.7,443.3 1759.9,440.6 1761.1,440.6 1762.2,443.6 1763.4,445.6 1764.4,441.1 1765.5,442.1 1766.5,436.5 1767.5,436.9 1768.5,440.9 1769.4,441.5 1770.6,436.9 1771.8,436.8 1773.0,433.3 1774.2,431.9 1775.3,432.9 1776.4,430.2 1777.6,431.0 1778.7,430.6 1779.7,427.7 1780.8,428.2 1781.7,434.6 1782.7,431.2 1783.6,439.8 1784.5,439.7 1785.7,436.9 1786.8,435.5 1787.8,441.5 1788.8,438.5 1789.9,446.5 1790.9,445.6 1792.7,433.3 1793.7,429.7 1794.8,431.3 1795.8,427.2 1796.8,427.8 1798.2,431.4 1799.1,431.7 1800.1,425.8 1801.0,424.1 1802.1,424.1 1803.1,421.9 1804.2,422.3 1806.0,425.0 1807.2,423.8 1808.3,421.4 1809.4,426.2 1810.6,437.4 1811.8,434.8 1812.9,429.6 1814.7,437.4 1816.5,430.1 1817.7,429.8 1818.8,431.4 1819.9,429.0 1821.1,425.0 1822.2,422.7 1823.4,422.3 1824.3,424.1 1825.3,423.0 1826.2,424.1 1827.3,426.3 1828.3,425.7 1829.4,428.2 1830.7,433.3 1831.7,430.9 1832.6,425.9 1833.8,424.6 1835.0,424.6 1836.2,423.2 1837.3,420.4 1838.5,422.2 1839.7,415.6 1840.8,415.9 1841.9,417.2 1842.9,413.1 1844.0,415.0 1845.1,411.2 1846.1,412.4 1847.2,409.9 1848.3,410.6 1849.5,414.0 1850.5,413.4 1851.5,406.4 1852.6,409.3 1853.6,404.9 1854.7,403.3 1855.8,405.2 1856.9,402.8 1858.0,404.2 1859.1,402.1 1860.0,398.6 1860.9,400.6 1861.9,395.3 1862.8,397.4 1863.7,394.8 1864.6,393.8 1865.6,400.7 1866.5,399.2 1867.4,402.6 1868.8,400.6 1870.1,393.0 1871.0,391.1 1871.9,391.8 1872.9,388.8 1873.8,389.3 1874.7,390.2 1876.5,425.9 1877.9,412.2 1879.1,429.5 1880.2,445.2 1882.0,468.1 1882.9,472.7 1883.9,484.8 1884.8,491.0 1885.7,458.0 1887.5,470.8 1888.7,454.1 1889.8,442.4 1890.9,441.8 1892.1,436.0 1893.9,446.1 1895.1,435.5 1896.2,429.6 1897.3,434.1 1898.5,435.1 1900.3,438.8 1901.2,431.2 1902.2,426.8 1903.4,425.2 1904.6,421.9 1905.8,420.4 1906.7,415.7 1907.7,406.4 1908.6,403.0 1909.9,422.3 1911.1,419.2 1912.2,412.2 1913.3,415.1 1914.5,422.3 1915.6,421.2 1916.6,412.7 1917.7,409.5 1918.7,408.8 1919.7,402.9 1920.7,404.1 1921.7,400.6 1922.7,399.2 1923.8,398.8 1925.0,395.0 1926.2,395.4 1927.3,392.3 1928.2,390.6 1929.1,391.9 1930.1,388.1 1931.0,389.4 1931.9,387.7 1932.8,382.1 1933.8,383.3 1934.7,378.1 1936.0,371.7 1937.4,392.8 1938.6,389.6 1939.7,387.7 1941.1,396.8 1942.4,399.2 1943.5,395.6 1944.5,395.7 1945.5,391.4 1946.6,390.0 1948.4,376.3 1949.3,380.5 1950.2,377.6 1951.2,385.0 1952.1,384.5 1953.9,399.2 1955.2,386.4 1956.6,377.2 1957.7,375.5 1958.7,370.4 1959.8,368.1 1960.8,372.5 1961.7,373.6 1962.7,368.1 1963.8,368.8 1964.8,361.4 1965.8,360.7 1967.2,364.2 1968.5,365.3 1969.6,360.7 1970.6,363.1 1971.7,358.9 1972.8,359.0 1973.8,361.3 1974.9,360.7 1975.8,355.4 1976.8,351.6 1978.2,353.9 1979.5,354.3 1980.5,350.3 1981.4,348.8 1983.2,359.8 1984.4,354.8 1985.6,346.1 1986.8,340.6 1987.7,341.8 1988.7,341.0 1989.6,341.5 1990.9,348.3 1992.3,350.7 1993.2,350.8 1994.2,354.3 1995.4,349.6 1996.6,341.4 1997.8,336.9 1998.9,342.5 2000.1,344.2 2001.2,339.4 2002.4,337.8 2004.2,328.7 2005.1,328.9 2006.1,321.9 2007.0,323.5 2007.9,320.4 2008.8,319.0 2009.8,319.7 2010.7,318.0 2011.6,317.7 2012.9,317.7 2014.3,314.9 2015.7,328.7 2017.1,322.0 2018.4,320.4 2019.5,320.6 2020.5,317.6 2021.6,316.8 2022.5,317.7 2023.4,313.0 2024.4,315.0 2025.3,311.0 2026.2,311.7 2027.6,320.4 2028.7,319.0 2029.7,312.4 2030.8,310.4 2031.7,309.6 2032.6,305.7 2033.6,305.9 2034.5,301.9 2035.4,301.7 2037.2,311.3 2039.0,298.0 2039.9,299.3 2040.8,297.8 2041.8,300.1 2042.7,299.4 2043.7,295.6 2044.8,297.1 2045.8,292.5 2046.8,292.5 2047.3,298.5 2048.2,298.0 2049.1,290.8 2050.1,293.5 2051.0,287.5 2051.9,286.6 2053.2,290.3 2054.6,291.1 2055.5,290.2 2056.4,294.2 2057.4,292.7 2058.3,295.7 2059.7,302.6 2061.0,308.1 2062.1,305.5 2063.1,305.6 2064.2,303.0 2065.3,292.9 2066.5,288.4 2067.4,288.9 2068.4,283.7 2069.3,283.8 2070.7,279.9 2072.0,272.8 2072.9,271.8 2073.9,273.0 2074.8,272.4 2075.8,272.2 2076.9,273.5 2077.9,272.8 2078.9,278.1 2079.8,288.4 2080.9,285.4 2081.9,274.5 2083.0,271.4 2083.9,279.1 2084.9,278.0 2085.8,284.3 2086.9,280.9 2087.9,268.8 2089.0,265.0 2090.2,266.1 2091.3,265.5 2093.1,273.7 2094.2,279.8 2095.4,292.5 2096.5,295.5 2097.7,305.8 2098.8,299.9 2099.8,289.6 2100.9,283.4 2102.2,290.2 2103.1,297.4 2104.0,298.8 2105.0,307.7 2105.9,308.1 2106.8,314.0 2108.6,300.3 2110.0,317.1 2110.9,313.6 2111.9,308.6 2112.9,300.5 2113.8,294.4 2114.8,293.9 2115.7,285.2 2116.7,284.2 2117.6,279.3 2119.4,285.0 2120.4,288.3 2121.3,294.0 2122.3,297.3 2123.2,294.6 2124.2,294.4 2125.6,309.5 2126.8,318.1 2127.9,321.8 2128.9,308.6 2130.1,321.5 2131.2,339.8 2132.7,327.5 2134.1,342.6 2135.2,337.5 2136.3,326.0 2137.4,319.0 2138.4,322.2 2139.3,322.8 2140.4,338.3 2141.5,357.3 2142.7,364.4 2144.1,356.7 2145.2,343.2 2146.7,353.8 2147.9,350.6 2149.2,343.8 2150.2,351.6 2151.3,353.5 2152.4,348.0 2153.9,336.0 2155.1,326.9 2156.3,323.7 2157.2,324.3 2158.2,322.1 2159.1,321.8 2160.3,317.8 2161.5,307.6 2162.6,307.8 2163.7,317.9 2164.8,318.0 2165.8,327.9 2166.7,339.8 2167.8,336.0 2168.9,328.7 2170.0,324.6 2171.7,343.2 2172.3,346.4 2173.9,362.4 2175.4,360.5 2176.2,371.7 2177.4,353.5 2178.6,363.6 2179.7,372.1 2181.3,359.9 2182.2,364.4 2183.2,354.5 2184.1,353.6 2185.1,343.8 2186.7,359.2 2187.7,351.8 2188.7,349.3 2189.3,356.7 2190.2,353.6 2191.2,342.0 2192.2,339.8 2193.1,332.2 2194.3,329.3 2195.5,327.5 2196.6,332.2 2197.7,332.2 2198.8,338.8 2199.9,346.2 2201.1,351.1 2202.2,351.3 2203.3,353.8 2204.4,353.9 2205.6,351.6 2206.8,350.1 2207.7,346.8 2208.7,339.2 2209.6,336.0 2210.6,342.0 2211.5,343.5 2212.7,335.2 2213.9,330.3 2214.9,326.5 2215.8,319.5 2216.7,318.7 2217.7,321.5 2218.6,320.0 2219.5,321.8 2220.7,330.4 2221.9,334.1 2223.0,332.4 2224.1,332.6 2225.2,330.3 2226.4,336.4 2227.6,346.4 2228.7,345.8 2229.8,337.8 2230.9,336.0 2232.0,334.9 2233.1,326.2 2234.2,324.6 2235.1,324.6 2236.1,322.5 2237.1,323.6 2238.0,322.8 2238.9,322.2 2239.8,326.4 2240.8,326.5 2241.7,328.4 2243.1,320.9 2244.1,321.8 2245.0,320.6 2246.0,323.3 2246.9,322.1 2247.9,322.8 2248.8,322.3 2249.8,317.6 2250.7,317.1 2251.8,317.0 2252.9,311.0 2254.0,309.5 2254.9,308.3 2255.9,301.2 2256.9,302.6 2257.8,296.3 2258.9,297.8 2260.0,305.0 2261.1,304.8 2262.1,297.7 2263.0,293.5 2264.2,296.6 2265.3,298.2 2266.5,290.3 2267.7,287.8 2268.6,288.1 2269.6,285.3 2270.5,286.5 2271.5,283.5 2272.4,283.1 2273.8,289.7 2274.9,292.5 2276.0,290.8 2277.1,293.5 2278.1,299.7 2279.0,301.0 2280.0,294.5 2280.9,294.6 2281.9,288.8 2282.8,288.6 2283.8,290.4 2284.7,289.0 2285.6,290.7 2286.6,295.4 2287.5,295.1 2288.4,302.8 2289.4,305.8 2290.5,307.2 2291.6,312.0 2292.7,313.3 2293.6,306.3 2294.6,307.9 2295.5,302.0 2296.5,304.6 2297.4,313.9 2298.4,313.7 2299.3,321.4 2300.3,323.7 2301.1,307.9 2302.1,303.1 2303.2,301.5 2304.8,298.3 2306.4,288.7 2307.4,288.3 2308.5,285.0 2309.6,282.9 2310.6,284.4 2311.7,282.4 2313.3,284.5 2314.6,274.9 2315.9,268.6 2317.0,268.4 2318.0,266.3 2319.1,265.9 2320.2,270.9 2321.2,268.7 2322.3,273.3 2323.4,271.9 2324.4,265.9 2326.0,269.1 2326.9,264.3 2327.8,263.8 2328.8,255.4 2329.7,254.7 2330.8,260.0 2332.2,254.4 2333.5,244.1 2334.4,244.4 2335.3,246.7 2336.3,245.0 2337.2,247.3 2338.2,243.9 2339.3,237.7 2340.7,234.9 2342.0,233.5 2343.3,235.2 2344.6,235.6 2345.7,230.2 2346.8,233.1 2347.8,226.1 2348.9,224.5 2350.0,228.1 2351.0,228.6 2352.1,232.4 2353.1,239.5 2354.2,241.2 2355.2,248.9 2356.1,247.1 2357.1,241.4 2358.1,241.4 2359.0,237.2 2359.5,244.6 2360.6,234.7 2361.6,234.3 2362.6,224.1 2363.7,218.6 2364.8,222.1 2365.8,220.6 2366.9,223.7 2368.0,223.9 2369.1,216.2 2370.1,218.3 2371.2,208.4 2372.2,208.9 2373.3,202.7 2374.4,202.7 2375.4,204.7 2376.5,203.9 2377.6,204.8 2378.6,203.2 2379.5,197.3 2380.5,197.1 2381.5,191.6 2382.4,193.5 2383.4,187.8 2385.0,199.5 2386.6,210.1 2387.6,204.2 2388.7,202.7 2390.3,229.2 2391.4,220.0 2392.4,204.1 2393.5,195.2 2394.4,195.1 2395.3,191.2 2396.3,192.2 2397.2,188.9 2398.6,196.9 2399.9,208.5 2400.8,205.3 2401.8,193.3 2402.7,192.5 2403.6,184.6 2404.6,182.8 2405.5,184.7 2406.5,181.8 2407.4,182.7 2408.4,181.4 2409.4,184.1 2410.3,177.8 2411.2,180.1 2412.2,170.4 2413.1,169.7 2414.1,171.8 2415.0,169.8 2415.9,173.4 2416.9,172.9 2417.9,182.5 2419.2,167.5 2420.6,157.5 2421.6,164.8 2422.7,168.2 2423.7,163.4 2424.7,164.3 2425.6,157.6 2426.6,157.3 2427.6,149.3 2428.6,149.0 2429.6,150.5 2430.7,149.2 2431.7,150.6 2432.8,167.6 2433.9,162.7 2434.9,154.9 2436.2,159.9 2437.6,168.7 2438.9,171.6 2440.2,172.4 2441.1,163.7 2442.1,161.7 2443.1,151.1 2444.0,147.4 2444.9,153.1 2445.8,151.0 2446.8,157.1 2447.7,157.0 2448.8,151.3 2449.8,150.1 2451.0,148.4 2452.2,144.1 2453.9,157.6 2455.6,163.2 2457.3,172.1 2458.4,182.9 2459.5,197.9 2461.2,186.7 2462.3,185.5 2463.5,177.8 2464.6,194.6 2466.3,187.8 2467.4,247.3 2468.5,201.9 2469.6,210.3 2470.8,220.1 2471.9,231.6 2473.6,199.1 2474.7,194.6 2475.8,185.6 2476.9,191.2 2477.8,179.9 2478.8,173.9 2479.7,160.9 2480.8,164.0 2482.0,173.8 2483.6,165.4 2484.6,165.1 2485.6,159.5 2486.7,160.3 2487.7,153.3 2488.7,153.1 2489.8,158.5 2490.9,159.8 2492.0,150.2 2493.2,147.4 2494.3,137.4 2495.2,135.4 2496.2,136.8 2497.1,135.1 2498.2,130.2 2499.3,132.3 2500.5,124.6 2501.6,122.8 2502.5,129.9 2503.5,130.0 2504.4,136.3 2505.4,134.1 2506.4,125.2 2507.3,124.6 2508.3,116.1 2509.4,118.6 2510.6,123.9 2511.6,122.0 2512.6,116.8 2513.5,117.3 2514.5,112.7 2515.4,109.5 2516.4,109.1 2517.3,104.9 2518.4,103.1 2519.6,104.5 2520.7,101.5 2521.8,101.5 2522.8,100.4 2523.8,95.1 2524.7,96.7 2525.7,91.4 2526.8,108.2 2528.5,97.0 2529.5,88.9 2530.4,89.6 2531.4,81.4 2532.4,77.9 2533.3,83.7 2534.3,82.2 2535.2,86.9 2536.9,80.7 2538.1,95.7 2539.2,108.2 2540.1,98.5 2541.1,93.9 2542.0,82.4 2543.1,78.5 2544.2,80.9 2545.3,75.8 2546.4,75.7 2548.1,91.4 2549.2,85.3 2550.4,74.6 2551.5,76.5 2552.6,80.2" fill="none" stroke="#262626" stroke-opacity="0.9" stroke-width="1.15" stroke-linejoin="round"/>
<rect x="106.10" y="56.10" width="597.30" height="57.60" rx="3.5" ry="3.5" fill="#fff" fill-opacity="0.8" stroke="#ccc" stroke-width="1.6"/>
<rect class="rS" x="113.10" y="64.70" width="34" height="13.2"/>
<text x="158.60" y="76.10" font-size="18.2" textLength="122.4" lengthAdjust="spacingAndGlyphs">0 - Steady Bull</text>
<rect class="rA" x="113.10" y="90.90" width="34" height="13.2"/>
<text x="157.00" y="102.80" font-size="18.2" textLength="143.1" lengthAdjust="spacingAndGlyphs">1 - Accumulation</text>
<rect class="rT" x="332.90" y="64.70" width="34" height="13.2"/>
<text x="378.40" y="76.10" font-size="18.2" textLength="110.4" lengthAdjust="spacingAndGlyphs">2 - Transition</text>
<rect class="rV" x="332.90" y="90.90" width="34" height="13.2"/>
<text x="378.40" y="102.80" font-size="18.2" textLength="126.8" lengthAdjust="spacingAndGlyphs">3 - Volatile Bull</text>
<rect class="rR" x="537.70" y="64.70" width="34" height="13.2"/>
<text x="584.20" y="76.10" font-size="18.2" textLength="113.6" lengthAdjust="spacingAndGlyphs">4 - Correction</text>
<rect class="rC" x="537.70" y="90.90" width="34" height="13.2"/>
<text x="583.20" y="102.80" font-size="18.2" textLength="73.4" lengthAdjust="spacingAndGlyphs">5 - Crisis</text>
<rect x="98.20" y="48.00" width="2570.80" height="610.00" fill="none" stroke="#000" stroke-width="1.67"/>
<line x1="90.90" y1="601.80" x2="98.20" y2="601.80" stroke="#000" stroke-width="1.67"/>
<text x="82.9" y="609.40" font-size="21.8" text-anchor="end" textLength="39.4" lengthAdjust="spacingAndGlyphs">100</text>
<line x1="90.90" y1="512.65" x2="98.20" y2="512.65" stroke="#000" stroke-width="1.67"/>
<text x="82.9" y="520.25" font-size="21.8" text-anchor="end" textLength="39.4" lengthAdjust="spacingAndGlyphs">200</text>
<line x1="90.90" y1="423.50" x2="98.20" y2="423.50" stroke="#000" stroke-width="1.67"/>
<text x="82.9" y="431.10" font-size="21.8" text-anchor="end" textLength="39.4" lengthAdjust="spacingAndGlyphs">300</text>
<line x1="90.90" y1="334.35" x2="98.20" y2="334.35" stroke="#000" stroke-width="1.67"/>
<text x="82.9" y="341.95" font-size="21.8" text-anchor="end" textLength="39.4" lengthAdjust="spacingAndGlyphs">400</text>
<line x1="90.90" y1="245.20" x2="98.20" y2="245.20" stroke="#000" stroke-width="1.67"/>
<text x="82.9" y="252.80" font-size="21.8" text-anchor="end" textLength="39.4" lengthAdjust="spacingAndGlyphs">500</text>
<line x1="90.90" y1="156.05" x2="98.20" y2="156.05" stroke="#000" stroke-width="1.67"/>
<text x="82.9" y="163.65" font-size="21.8" text-anchor="end" textLength="39.4" lengthAdjust="spacingAndGlyphs">600</text>
<line x1="90.90" y1="66.90" x2="98.20" y2="66.90" stroke="#000" stroke-width="1.67"/>
<text x="82.9" y="74.50" font-size="21.8" text-anchor="end" textLength="39.4" lengthAdjust="spacingAndGlyphs">700</text>
<line x1="239.10" y1="658.00" x2="239.10" y2="665.30" stroke="#000" stroke-width="1.67"/>
<line x1="470.31" y1="658.00" x2="470.31" y2="665.30" stroke="#000" stroke-width="1.67"/>
<line x1="701.84" y1="658.00" x2="701.84" y2="665.30" stroke="#000" stroke-width="1.67"/>
<line x1="933.05" y1="658.00" x2="933.05" y2="665.30" stroke="#000" stroke-width="1.67"/>
<line x1="1164.58" y1="658.00" x2="1164.58" y2="665.30" stroke="#000" stroke-width="1.67"/>
<line x1="1395.79" y1="658.00" x2="1395.79" y2="665.30" stroke="#000" stroke-width="1.67"/>
<line x1="1627.32" y1="658.00" x2="1627.32" y2="665.30" stroke="#000" stroke-width="1.67"/>
<line x1="1858.53" y1="658.00" x2="1858.53" y2="665.30" stroke="#000" stroke-width="1.67"/>
<line x1="2090.06" y1="658.00" x2="2090.06" y2="665.30" stroke="#000" stroke-width="1.67"/>
<line x1="2321.27" y1="658.00" x2="2321.27" y2="665.30" stroke="#000" stroke-width="1.67"/>
<line x1="2552.80" y1="658.00" x2="2552.80" y2="665.30" stroke="#000" stroke-width="1.67"/>
<text transform="translate(29.9,353.00) rotate(-90)" font-size="21.3" text-anchor="middle" textLength="102.4" lengthAdjust="spacingAndGlyphs">SPY Close</text>
<text x="1383.40" y="35.30" font-size="28" font-weight="bold" text-anchor="middle" textLength="317.5" lengthAdjust="spacingAndGlyphs">HMM Risk Ranks (7f)</text>
<g class="b1">
<g class="rS">
<rect x="213.90" width="0.01"/><rect x="215.28" width="22.05"/><rect x="239.17" width="3.22"/><rect x="246.98" width="0.92"/><rect x="249.28" width="0.01"/><rect x="250.20" width="0.01"/><rect x="251.58" width="7.35"/><rect x="259.85" width="0.46"/><rect x="261.23" width="7.35"/><rect x="269.50" width="0.01"/><rect x="270.87" width="0.01"/><rect x="271.79" width="0.46"/><rect x="273.17" width="0.01"/><rect x="274.09" width="5.05"/><rect x="290.17" width="0.46"/><rect x="295.69" width="1.84"/><rect x="300.28" width="40.43"/><rect x="344.39" width="26.19"/><rect x="379.77" width="22.97"/><rect x="403.66" width="0.01"/><rect x="404.58" width="0.01"/><rect x="405.50" width="0.01"/><rect x="406.42" width="0.01"/><rect x="407.34" width="0.01"/><rect x="408.26" width="0.01"/><rect x="409.17" width="0.01"/><rect x="410.09" width="0.46"/><rect x="411.47" width="0.01"/><rect x="412.39" width="3.22"/><rect x="438.58" width="5.05"/><rect x="504.74" width="0.01"/><rect x="505.66" width="0.46"/><rect x="507.04" width="0.01"/><rect x="507.96" width="0.01"/><rect x="508.88" width="0.01"/><rect x="510.26" width="0.01"/><rect x="511.18" width="0.01"/><rect x="514.39" width="4.14"/><rect x="520.83" width="0.46"/><rect x="596.18" width="0.46"/><rect x="598.02" width="0.01"/><rect x="599.85" width="0.01"/><rect x="603.53" width="3.22"/><rect x="607.67" width="0.46"/><rect x="609.50" width="0.01"/><rect x="610.42" width="0.46"/><rect x="611.80" width="0.92"/><rect x="636.15" width="0.92"/><rect x="638.91" width="0.46"/><rect x="640.29" width="0.46"/><rect x="641.67" width="1.38"/><rect x="643.96" width="1.84"/><rect x="647.18" width="1.38"/><rect x="649.94" width="2.76"/><rect x="654.07" width="0.92"/><rect x="655.91" width="2.76"/><rect x="660.04" width="0.92"/><rect x="661.88" width="3.68"/><rect x="668.32" width="0.01"/><rect x="669.23" width="0.01"/><rect x="670.61" width="0.01"/><rect x="671.53" width="0.46"/><rect x="674.75" width="0.01"/><rect x="679.80" width="0.46"/><rect x="681.18" width="2.76"/><rect x="685.78" width="0.01"/><rect x="694.96" width="2.30"/><rect x="698.64" width="5.05"/><rect x="704.61" width="5.51"/><rect x="711.05" width="5.97"/><rect x="718.86" width="0.01"/><rect x="719.78" width="16.54"/><rect x="762.05" width="1.84"/><rect x="765.26" width="5.51"/><rect x="776.29" width="3.22"/><rect x="783.18" width="0.01"/><rect x="784.56" width="2.76"/><rect x="789.16" width="1.38"/><rect x="792.37" width="0.01"/><rect x="793.75" width="5.97"/><rect x="805.24" width="0.92"/><rect x="808.91" width="14.24"/><rect x="824.08" width="0.01"/><rect x="824.99" width="0.46"/><rect x="826.37" width="0.01"/><rect x="827.75" width="3.22"/><rect x="845.67" width="2.76"/><rect x="849.35" width="0.01"/><rect x="850.27" width="0.46"/><rect x="851.64" width="3.22"/><rect x="855.78" width="0.92"/><rect x="859.00" width="0.01"/><rect x="859.91" width="0.92"/><rect x="861.75" width="0.46"/><rect x="863.13" width="0.01"/><rect x="864.51" width="0.01"/><rect x="867.27" width="0.46"/><rect x="874.62" width="1.84"/><rect x="879.67" width="0.92"/><rect x="886.56" width="0.46"/><rect x="887.94" width="1.84"/><rect x="890.70" width="0.01"/><rect x="891.62" width="0.01"/><rect x="934.35" width="19.76"/><rect x="955.02" width="5.51"/><rect x="961.46" width="0.01"/><rect x="962.84" width="0.01"/><rect x="991.78" width="0.01"/><rect x="994.54" width="0.92"/><rect x="999.13" width="0.01"/><rect x="1000.51" width="6.89"/><rect x="1008.32" width="0.01"/><rect x="1009.24" width="0.01"/><rect x="1010.16" width="5.51"/><rect x="1017.51" width="0.01"/><rect x="1018.89" width="1.38"/><rect x="1021.65" width="7.81"/><rect x="1030.84" width="0.92"/><rect x="1035.43" width="0.01"/><rect x="1036.35" width="1.38"/><rect x="1039.11" width="0.46"/><rect x="1040.49" width="0.01"/><rect x="1049.68" width="15.16"/><rect x="1065.76" width="5.97"/><rect x="1076.78" width="0.01"/><rect x="1077.70" width="1.84"/><rect x="1080.46" width="1.84"/><rect x="1084.14" width="1.84"/><rect x="1086.89" width="10.11"/><rect x="1097.92" width="0.92"/><rect x="1101.60" width="3.68"/><rect x="1108.49" width="10.11"/><rect x="1119.97" width="0.46"/><rect x="1121.81" width="1.84"/><rect x="1128.24" width="5.97"/><rect x="1135.60" width="0.92"/><rect x="1137.43" width="0.01"/><rect x="1138.35" width="6.89"/><rect x="1146.62" width="11.03"/><rect x="1159.03" width="0.01"/><rect x="1159.95" width="0.01"/><rect x="1160.87" width="4.59"/><rect x="1166.38" width="1.84"/><rect x="1170.98" width="0.46"/><rect x="1176.03" width="0.46"/><rect x="1177.41" width="7.81"/><rect x="1187.06" width="0.01"/><rect x="1190.73" width="0.01"/><rect x="1191.65" width="3.22"/><rect x="1195.79" width="0.01"/><rect x="1197.62" width="0.01"/><rect x="1200.84" width="0.01"/><rect x="1203.60" width="0.92"/><rect x="1205.44" width="1.38"/><rect x="1207.73" width="0.46"/><rect x="1209.57" width="15.16"/><rect x="1226.11" width="0.46"/><rect x="1227.49" width="0.01"/><rect x="1228.41" width="1.38"/><rect x="1232.54" width="17.46"/><rect x="1251.84" width="0.46"/><rect x="1253.22" width="0.92"/><rect x="1255.06" width="1.38"/><rect x="1258.73" width="12.41"/><rect x="1293.65" width="5.05"/><rect x="1302.84" width="0.01"/><rect x="1306.06" width="0.01"/><rect x="1308.36" width="0.46"/><rect x="1310.19" width="0.01"/><rect x="1311.57" width="0.46"/><rect x="1315.71" width="1.38"/><rect x="1319.38" width="0.92"/><rect x="1321.68" width="2.30"/><rect x="1326.28" width="3.68"/><rect x="1330.87" width="3.22"/><rect x="1335.01" width="0.01"/><rect x="1340.52" width="2.30"/><rect x="1343.74" width="0.92"/><rect x="1345.57" width="0.46"/><rect x="1349.25" width="1.38"/><rect x="1369.47" width="1.84"/><rect x="1372.22" width="5.51"/><rect x="1381.41" width="0.46"/><rect x="1382.79" width="1.84"/><rect x="1418.17" width="5.51"/><rect x="1424.60" width="0.01"/><rect x="1425.52" width="0.46"/><rect x="1426.90" width="5.05"/><rect x="1432.87" width="2.30"/><rect x="1436.09" width="0.01"/><rect x="1437.01" width="0.01"/><rect x="1437.93" width="0.01"/><rect x="1438.85" width="0.01"/><rect x="1439.76" width="0.01"/><rect x="1441.14" width="3.68"/><rect x="1445.74" width="0.46"/><rect x="1447.58" width="0.92"/><rect x="1453.09" width="0.01"/><rect x="1456.31" width="0.46"/><rect x="1457.68" width="16.08"/><rect x="1478.36" width="1.38"/><rect x="1481.58" width="4.14"/><rect x="1486.63" width="1.38"/><rect x="1489.39" width="0.46"/><rect x="1490.77" width="0.46"/><rect x="1493.06" width="1.38"/><rect x="1495.82" width="38.60"/><rect x="1539.47" width="1.84"/><rect x="1542.23" width="0.01"/><rect x="1544.06" width="0.01"/><rect x="1545.44" width="0.46"/><rect x="1546.82" width="6.43"/><rect x="1554.63" width="0.01"/><rect x="1555.55" width="13.32"/><rect x="1569.79" width="0.01"/><rect x="1570.71" width="9.19"/><rect x="1586.80" width="0.92"/><rect x="1589.09" width="0.01"/><rect x="1590.47" width="20.68"/><rect x="1612.07" width="0.01"/><rect x="1613.90" width="22.05"/><rect x="1637.80" width="0.46"/><rect x="1648.82" width="0.01"/><rect x="1649.74" width="0.01"/><rect x="1650.66" width="0.46"/><rect x="1663.53" width="1.38"/><rect x="1666.74" width="4.59"/><rect x="1672.72" width="0.46"/><rect x="1674.09" width="5.51"/><rect x="1686.96" width="9.19"/><rect x="1697.53" width="0.92"/><rect x="1699.82" width="13.32"/><rect x="1714.07" width="0.46"/><rect x="1715.45" width="0.46"/><rect x="1753.58" width="7.35"/><rect x="1761.85" width="0.01"/><rect x="1763.23" width="0.46"/><rect x="1765.53" width="1.38"/><rect x="1768.29" width="0.46"/><rect x="1769.66" width="0.46"/><rect x="1771.50" width="8.73"/><rect x="1792.64" width="16.54"/><rect x="1810.10" width="0.01"/><rect x="1811.02" width="0.01"/><rect x="1811.94" width="0.01"/><rect x="1834.45" width="13.32"/><rect x="1849.15" width="0.01"/><rect x="1850.07" width="0.01"/><rect x="1850.99" width="13.78"/><rect x="1870.29" width="2.76"/><rect x="1923.13" width="0.46"/><rect x="1926.34" width="8.73"/><rect x="1935.99" width="0.01"/><rect x="1936.91" width="0.01"/><rect x="1965.40" width="0.01"/><rect x="1968.15" width="1.84"/><rect x="1973.21" width="0.01"/><rect x="1974.13" width="2.76"/><rect x="1978.26" width="0.46"/><rect x="1980.10" width="0.01"/><rect x="1981.48" width="2.30"/><rect x="2004.91" width="7.35"/><rect x="2018.70" width="0.01"/><rect x="2019.62" width="0.01"/><rect x="2020.53" width="5.05"/><rect x="2026.51" width="0.92"/><rect x="2028.80" width="5.97"/><rect x="2035.70" width="0.92"/><rect x="2037.53" width="0.01"/><rect x="2038.45" width="0.01"/><rect x="2039.83" width="0.01"/><rect x="2041.21" width="0.01"/><rect x="2042.59" width="0.01"/><rect x="2043.51" width="0.46"/><rect x="2044.89" width="0.92"/><rect x="2047.18" width="0.01"/><rect x="2048.10" width="4.59"/><rect x="2071.08" width="5.97"/><rect x="2238.32" width="1.38"/><rect x="2242.46" width="2.30"/><rect x="2245.67" width="0.92"/><rect x="2247.97" width="1.38"/><rect x="2251.19" width="0.46"/><rect x="2253.03" width="0.01"/><rect x="2253.94" width="17.92"/><rect x="2272.78" width="0.01"/><rect x="2273.70" width="0.92"/><rect x="2280.59" width="1.84"/><rect x="2283.35" width="0.01"/><rect x="2284.73" width="0.46"/><rect x="2286.11" width="0.92"/><rect x="2310.46" width="11.03"/><rect x="2322.87" width="8.73"/><rect x="2332.51" width="8.27"/><rect x="2341.70" width="7.81"/><rect x="2367.89" width="0.92"/><rect x="2369.73" width="13.32"/><rect x="2412.00" width="0.92"/><rect x="2413.84" width="0.92"/><rect x="2415.68" width="0.01"/><rect x="2417.06" width="0.01"/><rect x="2423.03" width="8.27"/><rect x="2496.54" width="6.89"/><rect x="2505.73" width="19.76"/><rect x="2526.41" width="0.01"/>
</g>
<g class="rA">
<rect x="237.79" width="0.92"/><rect x="242.85" width="3.68"/><rect x="248.36" width="0.46"/><rect x="249.74" width="0.01"/><rect x="250.66" width="0.46"/><rect x="259.39" width="0.01"/><rect x="260.77" width="0.01"/><rect x="269.04" width="0.01"/><rect x="269.96" width="0.46"/><rect x="271.33" width="0.01"/><rect x="272.71" width="0.01"/><rect x="273.63" width="0.01"/><rect x="279.60" width="3.22"/><rect x="284.20" width="0.01"/><rect x="285.12" width="0.01"/><rect x="286.50" width="0.92"/><rect x="288.33" width="0.92"/><rect x="291.09" width="0.01"/><rect x="292.93" width="2.30"/><rect x="299.82" width="0.01"/><rect x="341.17" width="2.76"/><rect x="371.04" width="0.46"/><rect x="372.42" width="0.01"/><rect x="374.71" width="0.01"/><rect x="375.63" width="0.01"/><rect x="376.55" width="0.01"/><rect x="377.47" width="0.01"/><rect x="378.85" width="0.01"/><rect x="403.20" width="0.01"/><rect x="404.12" width="0.01"/><rect x="405.04" width="0.01"/><rect x="405.96" width="0.01"/><rect x="406.88" width="0.01"/><rect x="407.80" width="0.01"/><rect x="408.72" width="0.01"/><rect x="409.63" width="0.01"/><rect x="411.01" width="0.01"/><rect x="416.53" width="0.01"/><rect x="418.36" width="0.01"/><rect x="419.28" width="0.01"/><rect x="420.66" width="0.01"/><rect x="422.04" width="0.01"/><rect x="422.96" width="0.01"/><rect x="425.26" width="0.01"/><rect x="426.17" width="0.01"/><rect x="427.09" width="0.01"/><rect x="428.01" width="0.01"/><rect x="429.85" width="0.01"/><rect x="435.82" width="0.01"/><rect x="437.20" width="0.01"/><rect x="444.55" width="0.01"/><rect x="445.93" width="0.01"/><rect x="447.31" width="0.01"/><rect x="448.23" width="0.01"/><rect x="449.15" width="0.01"/><rect x="450.07" width="0.01"/><rect x="450.99" width="0.01"/><rect x="451.91" width="0.46"/><rect x="453.28" width="0.01"/><rect x="455.12" width="0.01"/><rect x="456.04" width="0.01"/><rect x="456.96" width="0.01"/><rect x="458.34" width="0.01"/><rect x="460.64" width="0.01"/><rect x="461.55" width="0.01"/><rect x="462.47" width="0.01"/><rect x="463.39" width="0.01"/><rect x="464.77" width="0.01"/><rect x="467.07" width="0.01"/><rect x="469.82" width="0.01"/><rect x="470.74" width="0.01"/><rect x="473.04" width="0.01"/><rect x="474.42" width="0.46"/><rect x="475.80" width="0.01"/><rect x="477.18" width="0.01"/><rect x="478.09" width="0.01"/><rect x="479.01" width="0.01"/><rect x="480.39" width="0.01"/><rect x="481.31" width="0.01"/><rect x="482.23" width="0.01"/><rect x="483.15" width="0.01"/><rect x="484.07" width="0.01"/><rect x="487.28" width="0.01"/><rect x="488.66" width="0.01"/><rect x="490.04" width="0.01"/><rect x="490.96" width="0.01"/><rect x="492.80" width="0.01"/><rect x="494.64" width="0.01"/><rect x="496.01" width="0.01"/><rect x="497.39" width="0.46"/><rect x="498.77" width="0.01"/><rect x="499.69" width="0.46"/><rect x="501.07" width="0.01"/><rect x="501.99" width="0.01"/><rect x="502.91" width="0.01"/><rect x="503.83" width="0.01"/><rect x="505.20" width="0.01"/><rect x="506.58" width="0.01"/><rect x="507.50" width="0.01"/><rect x="508.42" width="0.01"/><rect x="509.34" width="0.46"/><rect x="510.72" width="0.01"/><rect x="511.64" width="0.92"/><rect x="521.74" width="9.19"/><rect x="531.85" width="0.01"/><rect x="533.23" width="0.01"/><rect x="534.15" width="0.01"/><rect x="535.99" width="0.01"/><rect x="537.37" width="0.01"/><rect x="538.29" width="0.01"/><rect x="540.12" width="0.01"/><rect x="541.04" width="0.01"/><rect x="541.96" width="0.46"/><rect x="543.34" width="0.46"/><rect x="546.56" width="0.01"/><rect x="547.47" width="0.46"/><rect x="549.31" width="0.92"/><rect x="552.99" width="0.01"/><rect x="554.37" width="0.01"/><rect x="585.15" width="0.01"/><rect x="586.53" width="0.01"/><rect x="587.45" width="0.46"/><rect x="588.83" width="0.01"/><rect x="590.21" width="0.46"/><rect x="591.58" width="0.01"/><rect x="592.50" width="0.01"/><rect x="593.42" width="0.01"/><rect x="594.34" width="0.01"/><rect x="614.56" width="0.01"/><rect x="615.48" width="0.01"/><rect x="616.85" width="0.01"/><rect x="617.77" width="0.01"/><rect x="618.69" width="0.01"/><rect x="619.61" width="0.01"/><rect x="620.53" width="0.01"/><rect x="621.45" width="0.01"/><rect x="623.29" width="0.01"/><rect x="624.21" width="0.01"/><rect x="625.13" width="0.46"/><rect x="626.50" width="0.01"/><rect x="627.42" width="0.01"/><rect x="628.80" width="0.01"/><rect x="632.02" width="0.01"/><rect x="633.40" width="0.01"/><rect x="634.77" width="0.01"/><rect x="637.53" width="0.92"/><rect x="641.21" width="0.01"/><rect x="666.02" width="0.01"/><rect x="666.94" width="0.01"/><rect x="668.77" width="0.01"/><rect x="670.15" width="0.01"/><rect x="672.45" width="1.84"/><rect x="675.67" width="1.84"/><rect x="678.42" width="0.92"/><rect x="680.72" width="0.01"/><rect x="684.40" width="0.92"/><rect x="688.53" width="0.46"/><rect x="689.91" width="3.22"/><rect x="697.72" width="0.46"/><rect x="704.15" width="0.01"/><rect x="717.48" width="0.01"/><rect x="718.40" width="0.01"/><rect x="737.24" width="0.01"/><rect x="738.61" width="0.01"/><rect x="739.53" width="0.01"/><rect x="740.45" width="0.01"/><rect x="741.37" width="0.01"/><rect x="742.29" width="0.01"/><rect x="743.21" width="0.01"/><rect x="745.05" width="0.01"/><rect x="746.43" width="0.01"/><rect x="747.34" width="0.01"/><rect x="748.26" width="0.01"/><rect x="749.64" width="0.01"/><rect x="750.56" width="0.01"/><rect x="751.94" width="0.01"/><rect x="753.32" width="0.01"/><rect x="754.24" width="0.01"/><rect x="755.16" width="6.43"/><rect x="772.61" width="0.46"/><rect x="774.45" width="0.92"/><rect x="779.97" width="0.01"/><rect x="781.80" width="0.92"/><rect x="783.64" width="0.46"/><rect x="787.78" width="0.92"/><rect x="790.99" width="0.92"/><rect x="792.83" width="0.46"/><rect x="800.18" width="0.92"/><rect x="804.32" width="0.46"/><rect x="806.62" width="0.01"/><rect x="823.62" width="0.01"/><rect x="824.54" width="0.01"/><rect x="825.91" width="0.01"/><rect x="826.83" width="0.46"/><rect x="831.43" width="3.22"/><rect x="837.86" width="0.01"/><rect x="838.78" width="0.01"/><rect x="839.70" width="0.01"/><rect x="840.62" width="0.01"/><rect x="841.54" width="0.01"/><rect x="842.45" width="0.01"/><rect x="843.37" width="0.01"/><rect x="844.29" width="0.01"/><rect x="845.21" width="0.01"/><rect x="848.89" width="0.01"/><rect x="849.81" width="0.01"/><rect x="851.18" width="0.01"/><rect x="855.32" width="0.01"/><rect x="857.16" width="1.38"/><rect x="859.45" width="0.01"/><rect x="861.29" width="0.01"/><rect x="862.67" width="0.01"/><rect x="863.59" width="0.01"/><rect x="865.43" width="0.46"/><rect x="866.81" width="0.01"/><rect x="868.18" width="5.97"/><rect x="876.91" width="1.84"/><rect x="887.48" width="0.01"/><rect x="892.08" width="0.01"/><rect x="893.46" width="0.01"/><rect x="894.37" width="0.01"/><rect x="895.29" width="0.01"/><rect x="897.13" width="0.01"/><rect x="898.97" width="0.01"/><rect x="899.89" width="0.01"/><rect x="900.81" width="0.01"/><rect x="902.19" width="0.01"/><rect x="903.56" width="0.01"/><rect x="905.86" width="0.01"/><rect x="907.24" width="0.01"/><rect x="908.62" width="0.01"/><rect x="910.92" width="0.01"/><rect x="911.83" width="0.46"/><rect x="913.21" width="0.01"/><rect x="914.13" width="0.01"/><rect x="915.51" width="0.01"/><rect x="917.35" width="0.01"/><rect x="919.65" width="0.01"/><rect x="920.56" width="0.46"/><rect x="921.94" width="0.01"/><rect x="923.32" width="0.01"/><rect x="924.70" width="0.01"/><rect x="926.54" width="0.01"/><rect x="927.46" width="0.01"/><rect x="928.38" width="0.01"/><rect x="930.21" width="0.01"/><rect x="931.13" width="0.01"/><rect x="932.97" width="0.01"/><rect x="933.89" width="0.01"/><rect x="954.56" width="0.01"/><rect x="961.00" width="0.01"/><rect x="961.92" width="0.46"/><rect x="970.65" width="5.05"/><rect x="977.08" width="0.01"/><rect x="978.00" width="0.01"/><rect x="979.38" width="0.01"/><rect x="980.75" width="0.01"/><rect x="981.67" width="0.01"/><rect x="983.05" width="0.01"/><rect x="984.43" width="0.46"/><rect x="985.81" width="0.01"/><rect x="986.73" width="0.01"/><rect x="987.65" width="0.01"/><rect x="988.57" width="0.01"/><rect x="989.48" width="0.01"/><rect x="990.86" width="0.46"/><rect x="992.24" width="1.84"/><rect x="995.92" width="0.92"/><rect x="999.59" width="0.46"/><rect x="1007.86" width="0.01"/><rect x="1008.78" width="0.01"/><rect x="1009.70" width="0.01"/><rect x="1016.13" width="0.92"/><rect x="1017.97" width="0.46"/><rect x="1029.92" width="0.46"/><rect x="1034.51" width="0.46"/><rect x="1035.89" width="0.01"/><rect x="1038.19" width="0.46"/><rect x="1040.03" width="0.01"/><rect x="1040.95" width="4.14"/><rect x="1072.19" width="4.14"/><rect x="1077.24" width="0.01"/><rect x="1080.00" width="0.01"/><rect x="1082.76" width="0.92"/><rect x="1099.76" width="1.38"/><rect x="1105.73" width="2.30"/><rect x="1119.06" width="0.46"/><rect x="1120.89" width="0.01"/><rect x="1124.11" width="3.68"/><rect x="1134.68" width="0.46"/><rect x="1136.97" width="0.01"/><rect x="1137.89" width="0.01"/><rect x="1158.11" width="0.46"/><rect x="1159.49" width="0.01"/><rect x="1160.41" width="0.01"/><rect x="1169.14" width="1.38"/><rect x="1174.65" width="0.92"/><rect x="1176.95" width="0.01"/><rect x="1185.68" width="0.92"/><rect x="1189.35" width="0.92"/><rect x="1191.19" width="0.01"/><rect x="1195.33" width="0.01"/><rect x="1196.25" width="0.46"/><rect x="1198.08" width="2.30"/><rect x="1201.76" width="1.38"/><rect x="1204.98" width="0.01"/><rect x="1207.27" width="0.01"/><rect x="1208.65" width="0.46"/><rect x="1225.19" width="0.46"/><rect x="1227.03" width="0.01"/><rect x="1227.95" width="0.01"/><rect x="1232.08" width="0.01"/><rect x="1250.46" width="0.92"/><rect x="1252.76" width="0.01"/><rect x="1254.60" width="0.01"/><rect x="1256.90" width="0.92"/><rect x="1272.52" width="0.46"/><rect x="1275.27" width="0.01"/><rect x="1276.19" width="0.01"/><rect x="1277.11" width="0.01"/><rect x="1278.95" width="0.01"/><rect x="1279.87" width="0.46"/><rect x="1281.25" width="0.46"/><rect x="1284.46" width="0.01"/><rect x="1285.84" width="0.01"/><rect x="1286.76" width="0.01"/><rect x="1287.68" width="0.01"/><rect x="1291.36" width="0.92"/><rect x="1299.17" width="3.22"/><rect x="1303.30" width="0.46"/><rect x="1306.52" width="0.92"/><rect x="1309.28" width="0.46"/><rect x="1310.65" width="0.46"/><rect x="1312.49" width="0.01"/><rect x="1313.87" width="1.38"/><rect x="1317.55" width="0.01"/><rect x="1320.76" width="0.46"/><rect x="1324.44" width="0.01"/><rect x="1334.55" width="0.01"/><rect x="1335.47" width="2.76"/><rect x="1340.06" width="0.01"/><rect x="1343.28" width="0.01"/><rect x="1346.49" width="2.30"/><rect x="1351.55" width="0.01"/><rect x="1352.47" width="0.46"/><rect x="1355.22" width="0.46"/><rect x="1356.60" width="0.01"/><rect x="1357.52" width="0.46"/><rect x="1358.90" width="0.01"/><rect x="1360.28" width="0.46"/><rect x="1362.11" width="0.01"/><rect x="1363.03" width="0.01"/><rect x="1363.95" width="0.46"/><rect x="1365.79" width="0.01"/><rect x="1366.71" width="0.01"/><rect x="1367.63" width="1.38"/><rect x="1371.76" width="0.01"/><rect x="1378.20" width="2.76"/><rect x="1382.33" width="0.01"/><rect x="1385.55" width="0.01"/><rect x="1386.93" width="0.92"/><rect x="1390.14" width="0.01"/><rect x="1391.98" width="0.46"/><rect x="1393.36" width="0.01"/><rect x="1394.28" width="0.01"/><rect x="1396.12" width="0.01"/><rect x="1397.49" width="0.01"/><rect x="1403.47" width="0.01"/><rect x="1404.39" width="0.01"/><rect x="1405.76" width="0.46"/><rect x="1407.60" width="0.01"/><rect x="1408.52" width="0.46"/><rect x="1409.90" width="0.01"/><rect x="1411.28" width="0.01"/><rect x="1412.20" width="0.92"/><rect x="1414.95" width="0.01"/><rect x="1424.14" width="0.01"/><rect x="1425.06" width="0.01"/><rect x="1426.44" width="0.01"/><rect x="1432.41" width="0.01"/><rect x="1435.63" width="0.01"/><rect x="1436.55" width="0.01"/><rect x="1437.47" width="0.01"/><rect x="1438.39" width="0.01"/><rect x="1439.31" width="0.01"/><rect x="1440.22" width="0.46"/><rect x="1445.28" width="0.01"/><rect x="1446.66" width="0.46"/><rect x="1450.33" width="2.30"/><rect x="1453.55" width="2.30"/><rect x="1457.22" width="0.01"/><rect x="1474.22" width="0.46"/><rect x="1475.60" width="0.92"/><rect x="1480.20" width="0.01"/><rect x="1491.68" width="0.92"/><rect x="1494.90" width="0.46"/><rect x="1534.87" width="4.14"/><rect x="1541.77" width="0.01"/><rect x="1542.69" width="0.92"/><rect x="1544.52" width="0.46"/><rect x="1546.36" width="0.01"/><rect x="1553.71" width="0.46"/><rect x="1555.09" width="0.01"/><rect x="1569.34" width="0.01"/><rect x="1570.25" width="0.01"/><rect x="1580.36" width="5.97"/><rect x="1588.17" width="0.46"/><rect x="1589.55" width="0.46"/><rect x="1611.61" width="0.01"/><rect x="1612.53" width="0.92"/><rect x="1636.42" width="0.92"/><rect x="1641.93" width="0.01"/><rect x="1642.85" width="0.01"/><rect x="1644.23" width="0.46"/><rect x="1646.53" width="0.01"/><rect x="1647.90" width="0.01"/><rect x="1649.28" width="0.01"/><rect x="1650.20" width="0.01"/><rect x="1662.15" width="0.46"/><rect x="1671.80" width="0.46"/><rect x="1673.63" width="0.01"/><rect x="1680.07" width="6.43"/><rect x="1696.61" width="0.46"/><rect x="1698.91" width="0.46"/><rect x="1713.61" width="0.01"/><rect x="1714.99" width="0.01"/><rect x="1716.37" width="0.46"/><rect x="1718.20" width="1.84"/><rect x="1721.88" width="0.46"/><rect x="1723.72" width="0.46"/><rect x="1729.23" width="0.46"/><rect x="1732.91" width="1.84"/><rect x="1761.39" width="0.01"/><rect x="1762.31" width="0.46"/><rect x="1764.15" width="0.92"/><rect x="1767.37" width="0.46"/><rect x="1769.20" width="0.01"/><rect x="1770.58" width="0.46"/><rect x="1780.69" width="6.43"/><rect x="1788.04" width="1.38"/><rect x="1790.34" width="0.01"/><rect x="1791.26" width="0.92"/><rect x="1809.64" width="0.01"/><rect x="1810.56" width="0.01"/><rect x="1811.48" width="0.01"/><rect x="1824.34" width="0.01"/><rect x="1825.26" width="0.01"/><rect x="1826.64" width="0.01"/><rect x="1827.56" width="0.01"/><rect x="1828.48" width="0.01"/><rect x="1830.31" width="0.01"/><rect x="1833.99" width="0.01"/><rect x="1848.23" width="0.46"/><rect x="1849.61" width="0.01"/><rect x="1850.53" width="0.01"/><rect x="1865.23" width="0.46"/><rect x="1867.99" width="0.92"/><rect x="1869.83" width="0.01"/><rect x="1873.50" width="1.84"/><rect x="1918.07" width="0.92"/><rect x="1920.83" width="0.01"/><rect x="1921.75" width="0.92"/><rect x="1935.53" width="0.01"/><rect x="1936.45" width="0.01"/><rect x="1964.48" width="0.01"/><rect x="1965.86" width="0.46"/><rect x="1967.70" width="0.01"/><rect x="1971.83" width="0.46"/><rect x="1979.18" width="0.46"/><rect x="2012.72" width="0.92"/><rect x="2014.56" width="1.38"/><rect x="2016.86" width="0.01"/><rect x="2017.78" width="0.01"/><rect x="2019.16" width="0.01"/><rect x="2020.07" width="0.01"/><rect x="2035.24" width="0.01"/><rect x="2037.08" width="0.01"/><rect x="2037.99" width="0.01"/><rect x="2038.91" width="0.46"/><rect x="2040.29" width="0.46"/><rect x="2041.67" width="0.46"/><rect x="2043.05" width="0.01"/><rect x="2044.43" width="0.01"/><rect x="2046.26" width="0.46"/><rect x="2047.64" width="0.01"/><rect x="2053.62" width="0.46"/><rect x="2054.99" width="1.38"/><rect x="2220.40" width="1.38"/><rect x="2227.76" width="2.30"/><rect x="2241.08" width="0.46"/><rect x="2249.81" width="0.92"/><rect x="2279.68" width="0.46"/><rect x="2282.89" width="0.01"/><rect x="2283.81" width="0.46"/><rect x="2285.65" width="0.01"/><rect x="2287.49" width="0.46"/><rect x="2341.24" width="0.01"/><rect x="2367.43" width="0.01"/><rect x="2369.27" width="0.01"/><rect x="2413.38" width="0.01"/><rect x="2415.22" width="0.01"/><rect x="2416.14" width="0.46"/><rect x="2525.95" width="0.01"/><rect x="2526.87" width="0.01"/>
</g>
<g class="rT">
<rect x="214.36" width="0.46"/><rect x="283.28" width="0.46"/><rect x="284.66" width="0.01"/><rect x="285.58" width="0.46"/><rect x="287.87" width="0.01"/><rect x="289.71" width="0.01"/><rect x="291.55" width="0.92"/><rect x="297.98" width="1.38"/><rect x="371.96" width="0.01"/><rect x="372.88" width="1.38"/><rect x="375.17" width="0.01"/><rect x="376.09" width="0.01"/><rect x="377.01" width="0.01"/><rect x="377.93" width="0.46"/><rect x="379.31" width="0.01"/><rect x="411.93" width="0.01"/><rect x="416.07" width="0.01"/><rect x="416.99" width="0.92"/><rect x="418.82" width="0.01"/><rect x="419.74" width="0.46"/><rect x="421.12" width="0.46"/><rect x="422.50" width="0.01"/><rect x="423.42" width="1.38"/><rect x="425.72" width="0.01"/><rect x="426.63" width="0.01"/><rect x="427.55" width="0.01"/><rect x="428.47" width="0.92"/><rect x="430.31" width="5.05"/><rect x="436.28" width="0.46"/><rect x="437.66" width="0.46"/><rect x="444.09" width="0.01"/><rect x="445.01" width="0.46"/><rect x="446.39" width="0.46"/><rect x="447.77" width="0.01"/><rect x="448.69" width="0.01"/><rect x="449.61" width="0.01"/><rect x="450.53" width="0.01"/><rect x="451.45" width="0.01"/><rect x="452.82" width="0.01"/><rect x="453.74" width="0.92"/><rect x="455.58" width="0.01"/><rect x="456.50" width="0.01"/><rect x="457.42" width="0.46"/><rect x="458.80" width="1.38"/><rect x="461.09" width="0.01"/><rect x="462.01" width="0.01"/><rect x="462.93" width="0.01"/><rect x="463.85" width="0.46"/><rect x="465.23" width="1.38"/><rect x="467.53" width="1.84"/><rect x="470.28" width="0.01"/><rect x="471.20" width="1.38"/><rect x="473.50" width="0.46"/><rect x="475.34" width="0.01"/><rect x="476.26" width="0.46"/><rect x="477.64" width="0.01"/><rect x="478.55" width="0.01"/><rect x="479.47" width="0.46"/><rect x="480.85" width="0.01"/><rect x="481.77" width="0.01"/><rect x="482.69" width="0.01"/><rect x="483.61" width="0.01"/><rect x="484.53" width="2.30"/><rect x="487.74" width="0.46"/><rect x="489.12" width="0.46"/><rect x="490.50" width="0.01"/><rect x="491.42" width="0.92"/><rect x="493.26" width="0.92"/><rect x="495.10" width="0.46"/><rect x="496.47" width="0.46"/><rect x="498.31" width="0.01"/><rect x="499.23" width="0.01"/><rect x="500.61" width="0.01"/><rect x="501.53" width="0.01"/><rect x="502.45" width="0.01"/><rect x="503.37" width="0.01"/><rect x="504.28" width="0.01"/><rect x="513.01" width="0.92"/><rect x="518.99" width="1.38"/><rect x="531.39" width="0.01"/><rect x="532.31" width="0.46"/><rect x="533.69" width="0.01"/><rect x="534.61" width="0.92"/><rect x="536.45" width="0.46"/><rect x="537.83" width="0.01"/><rect x="538.74" width="0.92"/><rect x="540.58" width="0.01"/><rect x="541.50" width="0.01"/><rect x="542.88" width="0.01"/><rect x="544.26" width="1.84"/><rect x="547.02" width="0.01"/><rect x="548.39" width="0.46"/><rect x="550.69" width="1.84"/><rect x="553.45" width="0.46"/><rect x="554.83" width="0.46"/><rect x="556.20" width="0.46"/><rect x="558.04" width="0.46"/><rect x="559.42" width="0.92"/><rect x="561.26" width="0.01"/><rect x="584.69" width="0.01"/><rect x="585.61" width="0.46"/><rect x="586.99" width="0.01"/><rect x="588.37" width="0.01"/><rect x="589.29" width="0.46"/><rect x="591.12" width="0.01"/><rect x="592.04" width="0.01"/><rect x="592.96" width="0.01"/><rect x="593.88" width="0.01"/><rect x="594.80" width="0.92"/><rect x="597.10" width="0.46"/><rect x="598.48" width="0.92"/><rect x="600.31" width="0.01"/><rect x="601.23" width="1.84"/><rect x="607.21" width="0.01"/><rect x="609.96" width="0.01"/><rect x="615.02" width="0.01"/><rect x="615.94" width="0.46"/><rect x="617.31" width="0.01"/><rect x="618.23" width="0.01"/><rect x="619.15" width="0.01"/><rect x="620.07" width="0.01"/><rect x="620.99" width="0.01"/><rect x="621.91" width="0.92"/><rect x="623.75" width="0.01"/><rect x="624.67" width="0.01"/><rect x="626.04" width="0.01"/><rect x="626.96" width="0.01"/><rect x="627.88" width="0.46"/><rect x="629.26" width="2.30"/><rect x="632.48" width="0.46"/><rect x="633.86" width="0.46"/><rect x="635.23" width="0.46"/><rect x="639.83" width="0.01"/><rect x="643.50" width="0.01"/><rect x="646.26" width="0.46"/><rect x="649.02" width="0.01"/><rect x="653.61" width="0.01"/><rect x="655.45" width="0.01"/><rect x="659.13" width="0.46"/><rect x="661.42" width="0.01"/><rect x="666.48" width="0.01"/><rect x="667.40" width="0.46"/><rect x="669.69" width="0.01"/><rect x="671.07" width="0.01"/><rect x="675.21" width="0.01"/><rect x="677.96" width="0.01"/><rect x="686.23" width="1.84"/><rect x="689.45" width="0.01"/><rect x="693.59" width="0.92"/><rect x="710.59" width="0.01"/><rect x="717.94" width="0.01"/><rect x="719.32" width="0.01"/><rect x="736.78" width="0.01"/><rect x="737.70" width="0.46"/><rect x="739.07" width="0.01"/><rect x="739.99" width="0.01"/><rect x="740.91" width="0.01"/><rect x="741.83" width="0.01"/><rect x="742.75" width="0.01"/><rect x="743.67" width="0.92"/><rect x="745.51" width="0.46"/><rect x="746.88" width="0.01"/><rect x="747.80" width="0.01"/><rect x="748.72" width="0.46"/><rect x="750.10" width="0.01"/><rect x="751.02" width="0.46"/><rect x="752.40" width="0.46"/><rect x="753.78" width="0.01"/><rect x="754.70" width="0.01"/><rect x="764.34" width="0.46"/><rect x="771.24" width="0.92"/><rect x="773.53" width="0.46"/><rect x="775.83" width="0.01"/><rect x="780.43" width="0.92"/><rect x="801.56" width="2.30"/><rect x="807.08" width="1.38"/><rect x="835.10" width="2.30"/><rect x="838.32" width="0.01"/><rect x="839.24" width="0.01"/><rect x="840.16" width="0.01"/><rect x="841.08" width="0.01"/><rect x="841.99" width="0.01"/><rect x="842.91" width="0.01"/><rect x="843.83" width="0.01"/><rect x="844.75" width="0.01"/><rect x="864.05" width="0.01"/><rect x="864.97" width="0.01"/><rect x="866.35" width="0.01"/><rect x="879.21" width="0.01"/><rect x="881.05" width="5.05"/><rect x="892.54" width="0.46"/><rect x="893.91" width="0.01"/><rect x="894.83" width="0.01"/><rect x="895.75" width="0.92"/><rect x="897.59" width="0.92"/><rect x="899.43" width="0.01"/><rect x="900.35" width="0.01"/><rect x="901.27" width="0.46"/><rect x="902.64" width="0.46"/><rect x="904.02" width="1.38"/><rect x="906.32" width="0.46"/><rect x="907.70" width="0.46"/><rect x="909.08" width="1.38"/><rect x="911.37" width="0.01"/><rect x="912.75" width="0.01"/><rect x="913.67" width="0.01"/><rect x="914.59" width="0.46"/><rect x="915.97" width="0.92"/><rect x="917.81" width="1.38"/><rect x="920.10" width="0.01"/><rect x="921.48" width="0.01"/><rect x="922.40" width="0.46"/><rect x="923.78" width="0.46"/><rect x="925.16" width="0.92"/><rect x="927.00" width="0.01"/><rect x="927.92" width="0.01"/><rect x="928.83" width="0.92"/><rect x="930.67" width="0.01"/><rect x="931.59" width="0.92"/><rect x="933.43" width="0.01"/><rect x="963.29" width="6.89"/><rect x="976.16" width="0.46"/><rect x="977.54" width="0.01"/><rect x="978.46" width="0.46"/><rect x="979.84" width="0.46"/><rect x="981.21" width="0.01"/><rect x="982.13" width="0.46"/><rect x="983.51" width="0.46"/><rect x="985.35" width="0.01"/><rect x="986.27" width="0.01"/><rect x="987.19" width="0.01"/><rect x="988.11" width="0.01"/><rect x="989.03" width="0.01"/><rect x="989.94" width="0.46"/><rect x="997.30" width="1.38"/><rect x="1020.73" width="0.46"/><rect x="1032.22" width="1.84"/><rect x="1045.54" width="3.68"/><rect x="1065.30" width="0.01"/><rect x="1086.43" width="0.01"/><rect x="1097.46" width="0.01"/><rect x="1099.30" width="0.01"/><rect x="1121.35" width="0.01"/><rect x="1145.70" width="0.46"/><rect x="1165.92" width="0.01"/><rect x="1168.68" width="0.01"/><rect x="1171.89" width="2.30"/><rect x="1187.52" width="1.38"/><rect x="1197.16" width="0.01"/><rect x="1201.30" width="0.01"/><rect x="1230.25" width="1.38"/><rect x="1258.27" width="0.01"/><rect x="1271.60" width="0.46"/><rect x="1273.44" width="1.38"/><rect x="1275.73" width="0.01"/><rect x="1276.65" width="0.01"/><rect x="1277.57" width="0.92"/><rect x="1279.41" width="0.01"/><rect x="1280.79" width="0.01"/><rect x="1282.17" width="1.84"/><rect x="1284.92" width="0.46"/><rect x="1286.30" width="0.01"/><rect x="1287.22" width="0.01"/><rect x="1288.14" width="2.76"/><rect x="1292.73" width="0.46"/><rect x="1304.22" width="1.38"/><rect x="1307.90" width="0.01"/><rect x="1312.95" width="0.46"/><rect x="1318.01" width="0.92"/><rect x="1324.90" width="0.92"/><rect x="1330.41" width="0.01"/><rect x="1338.68" width="0.92"/><rect x="1345.11" width="0.01"/><rect x="1351.09" width="0.01"/><rect x="1352.01" width="0.01"/><rect x="1356.14" width="0.01"/><rect x="1357.06" width="0.01"/><rect x="1358.44" width="0.01"/><rect x="1359.36" width="0.46"/><rect x="1361.20" width="0.46"/><rect x="1362.57" width="0.01"/><rect x="1363.49" width="0.01"/><rect x="1364.87" width="0.46"/><rect x="1366.25" width="0.01"/><rect x="1367.17" width="0.01"/><rect x="1385.09" width="0.01"/><rect x="1386.01" width="0.46"/><rect x="1388.30" width="1.38"/><rect x="1390.60" width="0.92"/><rect x="1392.90" width="0.01"/><rect x="1393.82" width="0.01"/><rect x="1394.74" width="0.92"/><rect x="1396.57" width="0.46"/><rect x="1397.95" width="0.46"/><rect x="1399.79" width="0.46"/><rect x="1401.63" width="0.01"/><rect x="1403.01" width="0.01"/><rect x="1403.93" width="0.01"/><rect x="1404.85" width="0.46"/><rect x="1406.68" width="0.46"/><rect x="1408.06" width="0.01"/><rect x="1409.44" width="0.01"/><rect x="1410.36" width="0.46"/><rect x="1411.74" width="0.01"/><rect x="1413.57" width="0.92"/><rect x="1415.41" width="2.30"/><rect x="1448.95" width="0.92"/><rect x="1475.14" width="0.01"/><rect x="1476.98" width="0.92"/><rect x="1480.66" width="0.46"/><rect x="1486.17" width="0.01"/><rect x="1488.47" width="0.46"/><rect x="1490.31" width="0.01"/><rect x="1641.47" width="0.01"/><rect x="1642.39" width="0.01"/><rect x="1643.31" width="0.46"/><rect x="1645.15" width="0.92"/><rect x="1646.99" width="0.46"/><rect x="1648.36" width="0.01"/><rect x="1655.72" width="3.68"/><rect x="1663.07" width="0.01"/><rect x="1665.36" width="0.92"/><rect x="1722.80" width="0.01"/><rect x="1724.64" width="0.92"/><rect x="1726.93" width="0.01"/><rect x="1742.56" width="1.38"/><rect x="1787.58" width="0.01"/><rect x="1789.88" width="0.01"/><rect x="1790.80" width="0.01"/><rect x="1812.39" width="7.35"/><rect x="1823.42" width="0.46"/><rect x="1824.80" width="0.01"/><rect x="1825.72" width="0.46"/><rect x="1827.10" width="0.01"/><rect x="1828.02" width="0.01"/><rect x="1828.94" width="0.92"/><rect x="1830.77" width="2.76"/><rect x="1866.15" width="1.38"/><rect x="1869.37" width="0.01"/><rect x="1907.05" width="0.01"/><rect x="1907.96" width="0.92"/><rect x="1912.56" width="0.46"/><rect x="1915.32" width="2.30"/><rect x="1919.45" width="0.92"/><rect x="1921.29" width="0.01"/><rect x="1924.05" width="1.84"/><rect x="1944.72" width="2.76"/><rect x="1948.40" width="0.46"/><rect x="1956.67" width="0.01"/><rect x="1958.97" width="0.46"/><rect x="1963.56" width="0.46"/><rect x="1964.94" width="0.01"/><rect x="1966.78" width="0.46"/><rect x="1970.45" width="0.92"/><rect x="1972.75" width="0.01"/><rect x="1973.67" width="0.01"/><rect x="1977.34" width="0.46"/><rect x="1980.56" width="0.46"/><rect x="1990.21" width="0.92"/><rect x="1992.51" width="0.92"/><rect x="1998.48" width="0.92"/><rect x="2003.99" width="0.01"/><rect x="2026.05" width="0.01"/><rect x="2027.89" width="0.46"/><rect x="2053.16" width="0.01"/><rect x="2054.54" width="0.01"/><rect x="2056.83" width="1.38"/><rect x="2083.94" width="0.01"/><rect x="2087.62" width="0.46"/><rect x="2089.00" width="1.84"/><rect x="2092.21" width="1.38"/><rect x="2170.78" width="1.38"/><rect x="2173.08" width="0.01"/><rect x="2174.46" width="0.92"/><rect x="2193.29" width="0.01"/><rect x="2194.67" width="0.92"/><rect x="2206.16" width="0.92"/><rect x="2208.00" width="0.01"/><rect x="2209.38" width="0.01"/><rect x="2210.30" width="2.76"/><rect x="2213.97" width="0.01"/><rect x="2219.03" width="0.92"/><rect x="2222.24" width="2.76"/><rect x="2227.30" width="0.01"/><rect x="2240.16" width="0.46"/><rect x="2242.00" width="0.01"/><rect x="2245.21" width="0.01"/><rect x="2247.05" width="0.46"/><rect x="2252.11" width="0.46"/><rect x="2253.49" width="0.01"/><rect x="2272.32" width="0.01"/><rect x="2273.24" width="0.01"/><rect x="2293.46" width="0.01"/><rect x="2295.30" width="0.01"/><rect x="2296.68" width="0.01"/><rect x="2297.59" width="1.38"/><rect x="2321.95" width="0.46"/><rect x="2332.05" width="0.01"/><rect x="2350.43" width="0.01"/><rect x="2351.81" width="0.46"/><rect x="2407.87" width="0.01"/><rect x="2449.68" width="0.01"/><rect x="2452.90" width="0.01"/><rect x="2487.36" width="1.38"/><rect x="2527.33" width="0.01"/><rect x="2528.71" width="0.46"/><rect x="2530.09" width="3.68"/><rect x="2536.52" width="1.84"/><rect x="2539.73" width="0.01"/><rect x="2543.87" width="0.01"/><rect x="2547.09" width="0.01"/>
</g>
<g class="rV">
<rect x="1651.58" width="2.76"/><rect x="1655.26" width="0.01"/><rect x="1659.85" width="1.84"/><rect x="1723.26" width="0.01"/><rect x="1726.01" width="0.46"/><rect x="1727.39" width="1.38"/><rect x="1730.61" width="1.84"/><rect x="1735.20" width="1.38"/><rect x="1744.39" width="8.73"/><rect x="1820.21" width="2.76"/><rect x="1895.10" width="2.30"/><rect x="1903.37" width="3.22"/><rect x="1907.50" width="0.01"/><rect x="1909.34" width="2.76"/><rect x="1913.48" width="0.92"/><rect x="1949.32" width="1.84"/><rect x="1957.13" width="0.92"/><rect x="1962.18" width="0.92"/><rect x="1984.24" width="0.01"/><rect x="1986.53" width="3.22"/><rect x="1991.59" width="0.01"/><rect x="1993.89" width="0.92"/><rect x="1995.72" width="2.30"/><rect x="1999.86" width="3.22"/><rect x="2064.18" width="6.43"/><rect x="2077.97" width="2.76"/><rect x="2082.10" width="0.92"/><rect x="2085.78" width="0.01"/><rect x="2100.02" width="2.76"/><rect x="2105.54" width="1.38"/><rect x="2107.83" width="0.01"/><rect x="2109.21" width="0.92"/><rect x="2112.43" width="0.46"/><rect x="2113.81" width="5.97"/><rect x="2132.64" width="0.46"/><rect x="2134.48" width="0.46"/><rect x="2135.86" width="3.22"/><rect x="2140.92" width="22.05"/><rect x="2183.65" width="9.19"/><rect x="2193.75" width="0.46"/><rect x="2196.05" width="0.92"/><rect x="2205.70" width="0.01"/><rect x="2207.54" width="0.01"/><rect x="2208.46" width="0.46"/><rect x="2209.84" width="0.01"/><rect x="2213.51" width="0.01"/><rect x="2214.43" width="4.14"/><rect x="2230.51" width="1.84"/><rect x="2233.27" width="4.59"/><rect x="2288.41" width="1.38"/><rect x="2290.70" width="0.46"/><rect x="2292.54" width="0.01"/><rect x="2293.92" width="0.92"/><rect x="2295.76" width="0.46"/><rect x="2297.13" width="0.01"/><rect x="2299.43" width="10.57"/><rect x="2358.70" width="8.27"/><rect x="2392.25" width="6.89"/><rect x="2402.81" width="4.59"/><rect x="2408.33" width="3.22"/><rect x="2417.98" width="2.76"/><rect x="2422.11" width="0.01"/><rect x="2442.33" width="6.89"/><rect x="2450.14" width="2.30"/><rect x="2462.08" width="3.68"/><rect x="2473.11" width="13.78"/><rect x="2492.87" width="0.01"/><rect x="2494.71" width="1.38"/><rect x="2540.19" width="3.22"/><rect x="2545.25" width="1.38"/><rect x="2547.55" width="5.05"/>
</g>
<g class="rR">
<rect x="1353.38" width="1.38"/><rect x="1398.87" width="0.46"/><rect x="1400.71" width="0.46"/><rect x="1402.09" width="0.46"/><rect x="1638.72" width="2.30"/><rect x="1654.80" width="0.01"/><rect x="1717.28" width="0.46"/><rect x="1720.50" width="0.92"/><rect x="1730.15" width="0.01"/><rect x="1737.04" width="5.05"/><rect x="1879.48" width="0.46"/><rect x="1890.96" width="0.01"/><rect x="1891.88" width="0.92"/><rect x="1893.72" width="0.01"/><rect x="1897.86" width="5.05"/><rect x="1914.86" width="0.01"/><rect x="1937.37" width="6.89"/><rect x="1947.94" width="0.01"/><rect x="1951.61" width="4.59"/><rect x="1958.51" width="0.01"/><rect x="1959.88" width="1.84"/><rect x="1984.70" width="1.38"/><rect x="1992.05" width="0.01"/><rect x="1995.26" width="0.01"/><rect x="2003.53" width="0.01"/><rect x="2004.45" width="0.01"/><rect x="2014.10" width="0.01"/><rect x="2016.40" width="0.01"/><rect x="2017.32" width="0.01"/><rect x="2018.24" width="0.01"/><rect x="2058.67" width="5.05"/><rect x="2077.51" width="0.01"/><rect x="2081.18" width="0.46"/><rect x="2083.48" width="0.01"/><rect x="2084.40" width="0.92"/><rect x="2086.24" width="0.92"/><rect x="2088.54" width="0.01"/><rect x="2091.29" width="0.46"/><rect x="2094.05" width="5.51"/><rect x="2103.24" width="1.84"/><rect x="2107.37" width="0.01"/><rect x="2108.29" width="0.46"/><rect x="2110.59" width="1.38"/><rect x="2113.35" width="0.01"/><rect x="2120.24" width="11.95"/><rect x="2133.56" width="0.46"/><rect x="2135.40" width="0.01"/><rect x="2139.54" width="0.92"/><rect x="2163.43" width="6.89"/><rect x="2172.62" width="0.01"/><rect x="2173.54" width="0.46"/><rect x="2175.83" width="7.35"/><rect x="2197.43" width="7.81"/><rect x="2225.46" width="1.38"/><rect x="2232.81" width="0.01"/><rect x="2275.08" width="4.14"/><rect x="2290.24" width="0.01"/><rect x="2291.62" width="0.46"/><rect x="2293.00" width="0.01"/><rect x="2349.97" width="0.01"/><rect x="2350.89" width="0.46"/><rect x="2352.73" width="5.51"/><rect x="2383.52" width="8.27"/><rect x="2399.60" width="2.76"/><rect x="2417.52" width="0.01"/><rect x="2421.19" width="0.46"/><rect x="2422.57" width="0.01"/><rect x="2431.76" width="10.11"/><rect x="2453.35" width="8.27"/><rect x="2466.68" width="0.01"/><rect x="2468.06" width="0.92"/><rect x="2470.35" width="0.92"/><rect x="2472.19" width="0.01"/><rect x="2489.19" width="3.22"/><rect x="2493.33" width="0.92"/><rect x="2503.90" width="1.38"/><rect x="2527.79" width="0.46"/><rect x="2529.63" width="0.01"/><rect x="2534.22" width="1.84"/><rect x="2538.82" width="0.46"/><rect x="2544.33" width="0.46"/>
</g>
<g class="rC">
<rect x="555.75" width="0.01"/><rect x="557.12" width="0.46"/><rect x="558.96" width="0.01"/><rect x="560.80" width="0.01"/><rect x="561.72" width="22.51"/><rect x="600.77" width="0.01"/><rect x="608.58" width="0.46"/><rect x="611.34" width="0.01"/><rect x="613.18" width="0.92"/><rect x="649.48" width="0.01"/><rect x="653.15" width="0.01"/><rect x="890.24" width="0.01"/><rect x="891.16" width="0.01"/><rect x="1875.80" width="3.22"/><rect x="1880.40" width="10.11"/><rect x="1891.42" width="0.01"/><rect x="1893.26" width="0.01"/><rect x="1894.18" width="0.46"/><rect x="2466.22" width="0.01"/><rect x="2467.14" width="0.46"/><rect x="2469.44" width="0.46"/><rect x="2471.73" width="0.01"/><rect x="2472.65" width="0.01"/>
</g>
</g>
<polyline points="214.6,1257.8 215.8,1257.1 217.0,1257.6 218.2,1257.0 219.1,1255.1 220.1,1255.7 221.0,1254.5 222.3,1253.1 223.7,1253.2 224.6,1253.0 225.6,1250.9 226.5,1250.4 227.8,1251.4 229.2,1251.1 230.1,1250.6 231.1,1251.2 232.0,1250.2 232.9,1250.2 234.7,1251.1 235.8,1251.8 236.8,1251.3 237.9,1252.3 239.0,1252.6 240.0,1249.1 241.1,1248.3 242.2,1248.9 243.4,1248.8 244.4,1248.8 245.3,1250.8 246.4,1251.1 247.5,1248.8 248.4,1248.6 249.4,1251.1 250.3,1251.1 251.2,1248.8 252.2,1250.1 253.1,1247.6 254.0,1248.3 255.2,1248.6 256.4,1248.0 257.6,1248.3 258.8,1249.2 259.9,1249.5 261.0,1247.5 262.2,1246.8 263.1,1247.7 264.0,1246.7 265.0,1247.8 265.9,1246.6 266.8,1247.4 268.0,1248.2 269.2,1247.3 270.4,1248.3 271.3,1248.0 272.3,1246.8 273.2,1246.5 274.5,1246.8 275.9,1246.5 277.0,1245.1 278.0,1246.2 279.1,1245.1 280.2,1245.5 281.2,1249.8 282.2,1248.2 283.3,1251.1 284.6,1250.6 286.0,1248.8 287.1,1248.5 288.3,1250.2 289.5,1253.4 290.6,1253.8 292.0,1252.7 293.3,1252.5 294.2,1252.6 295.2,1249.7 296.1,1249.7 297.9,1250.2 298.8,1252.7 299.8,1250.9 300.7,1253.2 301.8,1253.1 302.9,1249.5 304.1,1251.0 305.2,1249.5 306.2,1249.1 307.3,1250.7 308.3,1249.7 309.4,1250.2 311.2,1247.4 312.3,1247.8 313.3,1246.9 314.4,1247.0 315.3,1247.6 316.2,1246.4 317.2,1247.5 318.1,1247.0 319.2,1245.3 320.4,1246.7 321.5,1244.6 322.6,1245.1 323.7,1245.7 324.7,1242.7 325.8,1244.3 326.9,1241.1 327.9,1243.8 329.0,1241.5 329.9,1240.5 330.9,1241.7 331.8,1240.2 332.7,1240.1 333.6,1241.5 334.6,1240.2 335.5,1241.5 336.6,1242.4 337.8,1238.1 338.9,1239.5 340.0,1237.8 340.9,1237.7 341.9,1239.6 342.8,1239.2 344.0,1238.1 345.2,1238.5 346.4,1236.9 347.3,1236.6 348.2,1237.1 349.2,1236.7 350.1,1237.6 351.0,1236.9 351.9,1236.8 352.8,1237.9 353.8,1237.1 354.7,1239.1 355.6,1238.3 356.5,1236.9 357.5,1237.3 358.4,1235.5 359.5,1235.0 360.6,1236.6 361.8,1235.1 362.9,1236.0 363.8,1236.6 364.8,1234.2 365.7,1234.1 366.8,1234.5 367.9,1233.5 369.0,1234.7 370.1,1232.9 371.2,1233.7 372.4,1237.7 373.5,1240.1 374.6,1239.2 375.6,1239.6 376.7,1238.7 377.9,1237.0 379.1,1237.6 380.3,1235.5 381.2,1235.4 382.2,1236.9 383.4,1236.7 384.6,1235.1 385.8,1234.6 386.7,1234.6 387.6,1231.6 388.6,1232.8 389.5,1230.5 390.6,1228.8 391.7,1230.7 392.8,1228.5 393.9,1229.9 395.0,1228.6 396.2,1227.3 397.4,1228.0 398.6,1227.3 400.0,1227.7 401.8,1226.3 403.0,1226.5 404.1,1230.0 405.2,1230.4 406.2,1226.7 407.3,1227.2 408.2,1230.0 409.2,1228.7 410.1,1230.9 411.3,1230.6 412.5,1227.9 413.7,1227.2 414.8,1227.5 415.8,1225.7 416.9,1225.4 417.9,1226.4 418.8,1226.8 419.7,1232.7 420.6,1231.8 421.5,1232.2 422.5,1230.7 423.4,1230.9 424.8,1234.7 426.1,1237.3 427.2,1235.2 428.2,1234.7 429.3,1232.3 430.2,1231.5 431.2,1232.0 432.1,1230.9 433.2,1231.5 434.3,1232.7 435.2,1233.0 436.2,1227.4 437.1,1227.2 438.2,1227.7 439.4,1227.7 440.4,1226.2 441.4,1226.9 442.5,1224.5 443.5,1224.5 444.6,1226.8 445.6,1225.9 446.7,1229.5 447.8,1230.1 448.8,1225.7 449.9,1225.4 451.0,1229.1 452.0,1229.0 453.1,1231.8 454.1,1233.6 455.1,1232.9 456.2,1236.1 457.2,1234.2 458.2,1237.3 459.3,1235.3 460.4,1231.8 461.5,1229.5 462.7,1228.1 463.6,1231.9 464.6,1230.1 465.5,1233.2 466.6,1232.3 467.8,1230.4 468.9,1230.5 470.1,1235.0 471.2,1234.4 472.3,1238.2 473.2,1243.3 474.1,1239.6 475.1,1246.8 476.0,1246.5 477.0,1243.7 478.1,1244.4 479.1,1240.4 480.1,1239.6 481.0,1242.8 482.0,1241.4 482.9,1244.2 483.9,1245.0 484.9,1241.9 485.9,1242.7 486.9,1239.7 487.9,1240.5 488.8,1245.7 489.8,1241.9 490.7,1249.4 491.6,1248.8 492.8,1245.9 493.9,1248.2 495.1,1244.6 496.2,1244.2 497.4,1244.2 498.6,1241.6 499.8,1241.4 500.9,1242.8 501.9,1243.2 503.0,1244.6 504.1,1243.4 505.3,1240.5 506.2,1239.3 507.1,1240.4 508.1,1237.4 509.0,1238.2 509.9,1238.5 510.8,1235.9 511.8,1238.3 512.7,1235.0 513.6,1235.9 515.4,1240.5 516.6,1240.4 517.8,1238.4 519.0,1238.2 520.1,1240.5 521.2,1239.8 522.3,1243.0 523.4,1241.5 524.5,1244.6 525.4,1248.1 526.4,1245.3 527.3,1250.1 528.2,1250.1 529.1,1249.8 530.0,1254.5 531.0,1253.3 531.9,1255.2 533.1,1255.1 534.3,1249.7 535.5,1250.1 536.4,1250.8 537.3,1247.8 538.3,1249.4 539.2,1247.4 540.1,1247.4 541.2,1248.4 542.2,1247.2 543.3,1248.7 544.4,1247.0 545.4,1248.7 546.5,1248.3 547.4,1248.1 548.3,1252.1 549.3,1249.4 550.2,1252.7 551.1,1252.9 552.5,1258.8 553.6,1258.9 554.6,1260.1 555.7,1260.2 556.9,1264.9 558.1,1279.0 559.3,1284.0 560.2,1278.3 561.2,1274.8 562.4,1282.2 563.6,1280.2 564.8,1288.1 565.7,1286.2 566.7,1277.6 567.6,1274.8 569.0,1282.1 570.3,1284.9 571.5,1289.3 572.6,1295.9 573.8,1290.7 574.9,1284.0 575.9,1282.4 576.9,1284.3 577.9,1282.3 578.9,1284.0 579.9,1281.8 580.9,1282.2 582.0,1285.0 583.0,1283.0 584.1,1285.8 585.5,1283.9 586.8,1280.3 587.9,1281.6 588.9,1286.5 590.0,1287.7 591.8,1290.9 592.7,1288.3 593.7,1289.0 594.6,1285.8 596.4,1289.0 598.2,1285.8 599.4,1286.8 600.5,1292.5 601.6,1292.0 602.8,1295.5 603.7,1299.7 604.6,1297.6 605.6,1302.1 606.5,1302.3 607.9,1296.8 609.2,1295.0 610.3,1295.4 611.3,1290.8 612.4,1290.4 613.5,1292.5 614.7,1292.2 615.6,1289.0 616.6,1290.0 617.5,1286.8 618.9,1286.6 620.2,1287.7 621.3,1286.9 622.4,1283.4 623.5,1284.5 624.6,1281.6 625.7,1280.8 626.6,1283.3 627.6,1282.4 628.5,1284.0 629.5,1284.3 630.5,1280.3 631.5,1282.4 632.5,1279.0 633.5,1279.0 634.4,1279.5 635.4,1278.5 636.3,1279.7 637.2,1279.0 638.2,1279.5 639.2,1282.6 640.3,1281.6 641.3,1283.5 642.7,1281.3 643.8,1283.3 644.8,1282.2 645.9,1284.9 647.0,1284.7 648.1,1278.4 649.3,1281.0 650.4,1276.2 651.3,1274.2 652.2,1276.0 653.2,1273.5 654.1,1275.0 655.0,1273.5 656.1,1273.3 657.1,1275.7 658.2,1275.3 659.4,1272.2 660.5,1271.2 661.4,1273.3 662.4,1272.3 663.3,1274.4 664.4,1275.3 665.5,1269.2 666.7,1271.9 667.8,1268.0 668.7,1267.0 669.6,1270.2 670.6,1269.0 671.5,1272.6 672.4,1271.6 673.4,1268.3 674.4,1270.0 675.5,1267.3 676.5,1268.2 677.5,1265.7 678.5,1266.4 679.5,1269.1 680.6,1268.9 681.6,1270.7 682.7,1271.3 683.8,1266.0 684.9,1269.2 686.0,1264.7 687.1,1264.3 688.2,1265.3 689.4,1264.0 690.5,1265.3 691.6,1265.2 692.5,1264.1 693.4,1265.9 694.4,1264.3 695.3,1265.5 696.2,1264.3 697.1,1263.5 698.0,1264.5 699.0,1262.6 699.9,1263.4 700.8,1264.2 701.7,1262.0 702.7,1262.8 703.6,1260.7 704.5,1261.1 705.9,1261.5 707.2,1261.1 709.0,1265.7 710.0,1265.9 711.1,1268.1 712.2,1266.8 713.2,1268.9 714.2,1268.5 715.2,1266.0 716.2,1267.5 717.2,1265.2 718.2,1264.8 719.1,1264.7 720.0,1261.7 721.0,1263.1 721.9,1261.1 723.1,1260.3 724.3,1261.3 725.5,1259.7 726.4,1258.5 727.3,1260.3 728.3,1258.6 729.2,1259.1 730.1,1258.4 731.0,1257.5 731.9,1258.6 732.9,1256.1 733.8,1256.6 734.7,1255.6 736.0,1254.9 737.4,1255.2 738.3,1257.0 739.3,1255.3 740.2,1257.0 741.6,1263.9 742.9,1259.3 743.8,1263.1 744.8,1263.5 745.7,1267.1 746.9,1267.8 748.1,1265.7 749.3,1266.1 750.2,1268.7 751.2,1268.9 752.4,1266.4 753.6,1265.8 754.8,1263.4 755.7,1262.7 756.6,1268.6 757.6,1267.8 758.5,1273.4 759.4,1272.1 760.3,1269.1 761.2,1271.3 762.2,1267.4 763.1,1266.6 764.1,1267.7 765.2,1265.1 766.2,1266.7 767.3,1263.5 768.3,1264.9 769.4,1262.4 770.4,1263.0 771.3,1265.4 772.3,1264.2 773.2,1265.7 774.4,1267.3 775.6,1266.8 776.8,1268.9 778.6,1265.7 780.0,1265.4 780.9,1265.3 781.9,1263.3 782.8,1263.6 783.7,1262.2 784.7,1261.9 785.7,1262.4 786.7,1261.5 787.7,1262.3 788.7,1261.8 789.8,1259.3 790.8,1260.3 791.9,1258.5 793.0,1257.5 794.1,1258.4 795.2,1257.2 796.3,1257.7 797.4,1257.2 799.2,1254.0 800.1,1254.2 801.0,1256.2 802.0,1255.3 802.9,1257.6 803.9,1258.1 805.0,1257.1 806.0,1257.8 807.0,1257.2 808.1,1253.6 809.3,1253.5 810.2,1253.4 811.1,1251.5 812.1,1252.9 813.0,1251.7 814.1,1250.5 815.2,1252.1 816.3,1249.9 817.4,1251.0 818.5,1249.8 819.7,1248.2 820.9,1249.9 822.1,1248.0 823.0,1247.7 824.0,1249.4 824.9,1247.9 825.8,1248.9 826.9,1249.5 828.0,1245.7 829.1,1247.0 830.2,1244.4 831.3,1243.9 832.5,1244.9 833.7,1244.8 834.9,1245.7 835.8,1246.3 836.8,1245.1 837.7,1245.3 839.0,1248.5 840.4,1250.3 841.5,1248.5 842.6,1250.1 843.7,1244.6 844.8,1247.4 845.9,1244.4 846.9,1244.2 847.9,1245.6 849.0,1244.9 850.0,1246.6 851.0,1246.2 852.0,1244.4 853.0,1245.1 854.1,1241.9 855.1,1241.6 856.0,1243.3 857.0,1241.2 857.9,1243.8 858.8,1243.4 860.0,1243.5 861.2,1246.0 862.4,1245.3 863.5,1243.8 864.7,1243.4 865.8,1246.4 866.8,1246.6 867.9,1248.9 868.8,1249.9 869.8,1248.9 870.7,1250.7 871.6,1250.3 873.4,1247.1 874.5,1245.0 875.5,1245.5 876.6,1243.0 877.8,1244.3 878.9,1246.2 880.2,1245.5 881.6,1243.4 882.7,1245.1 883.8,1249.8 884.9,1250.8 886.7,1263.6 888.5,1256.7 890.3,1263.1 891.2,1260.3 892.1,1259.7 893.1,1255.6 894.0,1254.9 894.9,1257.2 895.9,1256.6 896.8,1259.5 897.9,1258.8 899.0,1255.8 900.0,1257.1 900.9,1262.7 902.0,1264.7 903.0,1263.3 904.1,1265.4 905.5,1263.9 906.8,1256.3 907.8,1253.4 908.8,1254.7 909.9,1249.0 910.9,1251.3 911.9,1248.9 913.7,1252.6 914.6,1251.3 915.5,1252.8 916.5,1251.3 917.4,1251.2 918.5,1256.7 919.5,1253.9 920.6,1259.5 921.6,1259.6 922.7,1252.6 923.7,1255.7 924.7,1250.8 925.6,1251.4 926.5,1254.7 927.5,1253.2 928.4,1255.8 929.5,1256.8 930.6,1251.1 931.6,1254.2 932.7,1249.0 933.8,1249.4 934.7,1250.6 935.7,1246.8 936.6,1249.1 937.5,1246.3 938.4,1246.9 939.4,1245.3 940.3,1245.3 941.4,1245.5 942.5,1244.0 943.7,1245.0 944.8,1243.4 945.9,1241.9 946.9,1243.6 948.0,1241.0 949.1,1242.8 950.1,1240.2 951.2,1240.7 952.4,1242.1 953.5,1243.0 954.6,1238.9 955.8,1238.4 956.9,1239.1 958.0,1237.4 959.1,1238.5 960.2,1236.9 961.3,1237.5 962.2,1239.4 963.2,1238.7 964.1,1241.6 965.1,1241.8 966.1,1240.2 967.0,1240.8 968.0,1238.3 969.0,1239.7 970.0,1238.6 971.4,1238.6 972.7,1240.9 973.6,1245.0 974.5,1242.6 975.5,1247.0 976.4,1247.3 977.5,1245.5 978.5,1246.7 979.6,1244.6 981.4,1249.2 982.5,1245.5 983.7,1245.0 984.8,1245.2 985.8,1242.1 986.9,1242.3 987.8,1244.9 988.8,1246.4 990.0,1243.2 991.1,1241.4 992.5,1243.4 993.8,1244.1 994.7,1242.0 995.7,1243.0 996.6,1241.4 997.9,1243.7 999.0,1240.6 1000.2,1240.0 1001.2,1239.6 1002.2,1238.1 1003.3,1238.5 1004.3,1235.7 1005.3,1236.3 1006.3,1237.7 1007.3,1236.1 1008.3,1238.0 1009.3,1237.0 1010.3,1238.2 1011.3,1238.1 1012.3,1233.8 1013.4,1234.4 1014.4,1232.2 1015.5,1231.7 1016.5,1234.9 1017.6,1235.4 1018.7,1233.2 1019.7,1235.2 1020.8,1233.1 1022.0,1233.9 1023.1,1235.4 1024.9,1233.1 1026.1,1236.6 1027.2,1237.7 1028.1,1236.3 1029.1,1238.2 1030.0,1236.0 1030.9,1236.3 1032.2,1240.3 1033.6,1242.3 1034.7,1239.8 1035.7,1241.0 1036.8,1237.2 1037.7,1236.5 1038.6,1237.5 1039.6,1236.1 1040.5,1236.9 1041.4,1235.9 1042.5,1233.7 1043.5,1234.8 1044.6,1233.6 1045.5,1233.4 1046.5,1238.3 1047.4,1238.6 1048.6,1233.7 1049.7,1233.1 1050.9,1233.6 1052.1,1231.8 1053.3,1231.8 1054.2,1232.6 1055.2,1229.8 1056.1,1230.4 1057.0,1229.5 1058.1,1228.8 1059.1,1229.6 1060.2,1227.5 1061.3,1228.6 1062.3,1227.1 1063.4,1227.2 1064.3,1229.1 1065.3,1228.6 1066.2,1230.4 1067.3,1231.1 1068.5,1226.7 1069.6,1227.7 1070.7,1224.0 1071.6,1223.3 1072.6,1225.0 1073.5,1223.9 1074.4,1225.3 1075.3,1225.9 1076.2,1223.2 1077.2,1224.5 1078.1,1223.5 1079.2,1221.6 1080.3,1221.2 1081.2,1224.6 1082.2,1225.8 1083.3,1222.5 1084.3,1224.4 1085.4,1221.7 1086.6,1219.6 1087.8,1220.2 1089.0,1218.0 1090.1,1216.0 1091.1,1216.0 1092.2,1214.4 1093.3,1214.6 1094.4,1216.7 1095.5,1216.2 1096.6,1216.9 1097.7,1218.9 1098.8,1219.7 1099.8,1216.9 1100.9,1217.5 1101.9,1216.2 1103.7,1223.1 1104.6,1220.8 1105.6,1221.7 1106.5,1219.0 1107.4,1218.9 1108.8,1218.6 1110.1,1214.4 1111.0,1212.6 1112.0,1214.3 1112.9,1212.5 1114.1,1211.2 1115.3,1212.7 1116.5,1211.2 1117.4,1210.4 1118.3,1214.5 1119.3,1212.8 1120.2,1215.3 1121.3,1216.2 1122.5,1215.3 1123.7,1217.8 1124.8,1217.6 1125.9,1213.9 1126.9,1217.1 1128.0,1212.4 1129.1,1213.1 1130.1,1208.3 1131.2,1209.8 1132.4,1211.4 1133.6,1211.0 1134.8,1213.0 1135.7,1214.6 1136.7,1214.1 1137.6,1215.7 1138.8,1215.5 1140.0,1207.6 1141.2,1207.9 1142.3,1208.1 1143.4,1206.2 1144.5,1207.4 1145.6,1205.6 1146.7,1206.1 1147.6,1206.2 1148.6,1203.9 1149.5,1204.3 1150.4,1202.9 1151.5,1202.2 1152.6,1203.4 1153.7,1201.3 1154.8,1202.2 1155.9,1201.5 1157.2,1201.4 1158.6,1204.3 1160.0,1201.4 1160.9,1202.3 1161.8,1199.4 1162.8,1200.1 1163.7,1199.1 1164.9,1199.1 1166.1,1200.4 1167.3,1200.5 1168.2,1199.7 1169.2,1200.3 1170.1,1199.3 1171.0,1199.5 1172.8,1204.1 1173.8,1206.7 1174.7,1207.8 1175.9,1203.0 1177.1,1205.1 1178.3,1199.5 1179.2,1198.1 1180.1,1199.5 1181.1,1197.7 1182.0,1198.9 1182.9,1197.7 1184.1,1195.8 1185.2,1195.4 1186.3,1197.2 1187.5,1197.7 1189.3,1196.3 1190.4,1197.1 1191.6,1198.6 1193.0,1195.9 1194.1,1198.7 1195.1,1197.3 1196.2,1201.4 1197.3,1200.4 1198.3,1196.7 1199.4,1196.3 1200.6,1196.8 1201.7,1194.6 1202.8,1195.8 1204.0,1195.0 1205.2,1194.9 1206.4,1196.3 1207.6,1196.3 1208.7,1193.7 1209.8,1195.2 1210.9,1190.0 1212.0,1193.5 1213.1,1189.9 1214.0,1189.2 1214.9,1190.1 1215.9,1189.7 1216.8,1189.9 1217.9,1190.6 1219.0,1187.4 1220.1,1189.2 1221.2,1186.7 1222.3,1187.2 1223.4,1187.3 1224.4,1186.6 1225.5,1187.8 1226.6,1186.1 1227.6,1187.6 1228.7,1186.7 1229.8,1185.8 1231.0,1190.9 1232.2,1190.8 1233.3,1193.1 1234.4,1192.2 1235.5,1187.7 1236.7,1189.7 1237.8,1185.8 1238.7,1184.3 1239.7,1186.0 1240.6,1183.9 1241.5,1184.4 1242.7,1185.0 1243.8,1183.9 1244.9,1184.9 1246.1,1184.4 1247.2,1185.4 1248.4,1187.2 1249.4,1188.7 1250.5,1187.6 1251.5,1189.8 1252.5,1189.0 1253.8,1190.9 1255.2,1197.2 1256.3,1196.1 1257.4,1190.9 1258.5,1190.7 1259.6,1184.2 1260.7,1184.0 1261.8,1184.5 1263.0,1181.6 1264.2,1181.7 1265.3,1180.3 1266.2,1179.1 1267.1,1180.4 1268.1,1178.6 1269.0,1179.4 1269.9,1178.5 1271.7,1178.9 1272.6,1179.4 1273.6,1184.4 1274.5,1186.3 1275.8,1179.8 1276.9,1178.4 1277.9,1179.1 1279.0,1177.6 1280.2,1178.6 1281.3,1185.3 1282.2,1184.5 1283.2,1180.8 1284.5,1185.8 1285.7,1180.6 1286.8,1179.8 1287.9,1183.9 1289.1,1185.3 1290.0,1182.8 1291.0,1182.8 1291.9,1180.3 1293.2,1176.4 1294.6,1176.2 1295.5,1176.8 1296.4,1175.1 1297.4,1175.6 1298.3,1174.4 1299.2,1174.8 1300.6,1179.3 1301.9,1180.3 1302.8,1177.9 1303.8,1178.4 1304.7,1176.2 1306.1,1176.7 1307.4,1179.8 1308.6,1180.6 1309.7,1177.6 1310.8,1177.8 1312.0,1176.6 1313.1,1175.9 1314.2,1176.8 1315.3,1175.3 1316.4,1176.3 1317.5,1175.7 1318.6,1174.3 1319.6,1176.1 1320.7,1174.0 1321.8,1175.0 1322.8,1172.9 1323.9,1173.9 1325.0,1175.3 1326.1,1173.7 1327.2,1176.5 1328.3,1175.8 1329.4,1177.1 1330.3,1177.7 1331.2,1175.1 1332.2,1176.6 1333.1,1174.4 1334.0,1174.1 1334.9,1177.6 1335.9,1177.0 1336.8,1180.4 1337.7,1180.3 1338.7,1177.1 1339.7,1180.2 1340.7,1175.6 1341.7,1176.5 1342.7,1173.9 1343.8,1175.4 1345.0,1178.5 1346.2,1179.1 1347.4,1176.5 1348.6,1176.2 1350.0,1176.5 1351.2,1176.7 1352.3,1176.5 1353.4,1185.7 1354.6,1196.6 1356.0,1186.6 1357.3,1192.0 1358.2,1191.1 1359.2,1188.4 1360.3,1185.5 1361.4,1185.6 1362.5,1191.3 1363.5,1187.9 1364.5,1196.7 1365.6,1195.7 1366.9,1187.3 1368.3,1185.6 1369.3,1185.5 1370.3,1182.1 1371.4,1184.2 1372.4,1178.4 1373.4,1179.2 1374.6,1178.4 1375.8,1175.5 1377.0,1175.6 1378.1,1179.2 1379.1,1178.8 1380.2,1182.4 1382.0,1177.4 1382.9,1177.7 1383.8,1176.6 1384.8,1176.9 1385.7,1176.5 1386.6,1177.5 1387.6,1182.0 1388.5,1182.9 1389.8,1182.5 1391.2,1184.7 1392.3,1183.5 1393.3,1178.4 1394.4,1178.8 1395.5,1184.2 1396.5,1185.3 1397.6,1191.1 1398.5,1194.9 1399.4,1192.1 1400.4,1197.3 1401.3,1197.5 1402.5,1194.7 1403.7,1194.7 1404.9,1191.1 1405.8,1191.7 1406.8,1198.9 1407.7,1196.8 1408.6,1200.3 1409.5,1199.7 1410.4,1192.6 1411.4,1194.2 1412.3,1191.1 1413.5,1187.6 1414.7,1189.0 1415.9,1184.7 1417.0,1182.5 1418.1,1183.7 1419.2,1182.1 1420.3,1182.3 1421.4,1181.1 1422.5,1180.4 1423.6,1181.4 1424.7,1180.5 1425.8,1181.8 1426.9,1181.1 1427.8,1179.0 1428.8,1179.7 1429.7,1175.6 1430.6,1176.5 1431.5,1178.1 1432.4,1176.9 1433.4,1179.3 1434.3,1178.0 1435.2,1179.2 1436.3,1180.4 1437.5,1180.1 1438.6,1182.1 1439.7,1181.5 1440.8,1176.6 1442.0,1176.0 1443.0,1176.5 1444.1,1173.9 1445.2,1174.9 1446.2,1174.2 1447.3,1174.8 1448.3,1178.1 1449.4,1178.3 1450.5,1179.1 1451.6,1185.2 1452.5,1185.4 1453.5,1177.8 1454.4,1176.5 1455.3,1175.9 1456.2,1171.9 1457.2,1173.2 1458.1,1170.1 1459.2,1168.9 1460.3,1170.1 1461.4,1168.7 1462.5,1170.2 1463.6,1169.2 1464.7,1168.0 1465.8,1169.6 1467.0,1167.7 1468.1,1168.2 1469.2,1168.6 1470.2,1167.8 1471.3,1168.6 1472.4,1167.5 1473.4,1168.4 1474.5,1168.2 1475.5,1170.0 1476.4,1173.3 1477.6,1173.6 1478.8,1170.8 1480.0,1170.5 1481.1,1171.1 1482.2,1170.8 1483.3,1172.1 1484.4,1171.1 1485.5,1171.9 1486.4,1172.7 1487.3,1171.2 1488.3,1172.7 1489.2,1171.9 1490.1,1172.3 1491.1,1175.3 1492.0,1175.4 1492.9,1177.4 1494.2,1175.8 1495.6,1171.0 1496.5,1168.5 1497.4,1170.3 1498.4,1167.4 1499.3,1168.4 1500.2,1166.4 1502.0,1167.3 1502.9,1163.9 1503.8,1166.0 1504.8,1160.4 1505.7,1160.9 1506.8,1162.9 1507.9,1160.9 1509.0,1163.1 1510.1,1161.8 1511.2,1163.7 1512.4,1163.6 1513.6,1161.2 1514.8,1161.4 1515.7,1161.7 1516.6,1159.6 1517.6,1160.7 1518.5,1159.3 1519.4,1159.5 1520.3,1159.8 1521.2,1159.0 1522.2,1160.0 1523.1,1159.1 1524.3,1155.2 1525.5,1156.0 1526.7,1152.7 1527.6,1151.4 1528.6,1153.0 1529.5,1150.1 1530.4,1150.4 1531.3,1151.2 1532.2,1150.1 1533.2,1152.3 1534.1,1151.8 1535.4,1151.7 1536.8,1155.0 1537.9,1154.9 1538.9,1153.4 1540.0,1153.6 1541.0,1155.2 1542.0,1153.4 1543.1,1156.2 1544.1,1155.4 1545.2,1153.6 1546.2,1153.5 1547.3,1151.3 1548.2,1150.6 1549.1,1151.0 1550.1,1148.9 1551.0,1150.7 1551.9,1149.5 1552.8,1149.0 1553.8,1152.5 1554.7,1152.7 1555.7,1148.9 1556.7,1151.5 1557.7,1147.4 1558.7,1149.4 1559.7,1145.8 1560.7,1145.0 1561.7,1146.0 1562.7,1145.3 1563.7,1146.4 1564.7,1145.8 1565.8,1145.8 1566.9,1147.7 1568.0,1146.9 1569.1,1148.5 1570.2,1148.5 1571.1,1146.4 1572.1,1147.5 1573.0,1143.2 1573.9,1143.5 1575.0,1143.7 1576.0,1143.0 1577.1,1143.5 1578.2,1142.1 1579.2,1143.1 1580.3,1142.6 1581.2,1142.7 1582.2,1145.4 1583.1,1144.0 1584.0,1146.7 1585.2,1146.8 1586.4,1144.5 1587.6,1144.0 1588.5,1143.8 1589.4,1141.8 1590.4,1143.2 1591.3,1140.2 1592.2,1140.8 1593.1,1141.1 1594.1,1140.7 1595.0,1141.8 1595.9,1141.2 1597.1,1138.6 1598.3,1139.0 1599.5,1136.6 1600.6,1135.7 1601.7,1137.1 1602.8,1134.9 1603.9,1136.0 1605.0,1134.8 1606.2,1133.5 1607.3,1134.4 1608.4,1131.8 1609.6,1132.5 1610.9,1134.8 1612.3,1134.4 1613.2,1131.7 1614.1,1132.6 1615.1,1128.1 1616.0,1129.9 1616.9,1127.5 1618.0,1126.6 1619.1,1127.8 1620.2,1125.0 1621.3,1126.6 1622.4,1124.7 1623.4,1124.3 1624.5,1125.8 1625.5,1124.5 1626.5,1125.2 1627.7,1123.0 1628.8,1119.2 1629.9,1116.7 1630.9,1117.9 1632.0,1111.5 1633.1,1115.4 1634.1,1109.5 1635.2,1108.7 1636.2,1111.8 1637.1,1112.4 1638.9,1133.4 1640.2,1125.3 1641.6,1120.6 1642.5,1120.3 1643.5,1116.6 1644.4,1115.6 1645.8,1124.7 1647.2,1121.4 1648.5,1115.1 1649.4,1115.2 1650.3,1121.8 1651.3,1120.1 1652.2,1122.9 1653.1,1133.4 1654.4,1133.9 1655.8,1133.4 1657.2,1127.9 1658.1,1124.8 1659.1,1127.5 1660.0,1123.4 1660.9,1122.9 1662.7,1127.9 1663.6,1128.7 1664.6,1127.7 1665.5,1129.3 1666.6,1129.6 1667.6,1121.6 1668.7,1120.6 1669.8,1120.7 1670.8,1119.5 1671.9,1120.2 1673.7,1122.9 1674.8,1122.5 1676.0,1116.2 1677.2,1119.1 1678.3,1115.1 1679.2,1114.1 1680.1,1119.2 1681.1,1117.3 1682.0,1122.5 1682.9,1122.9 1684.1,1118.7 1685.3,1120.3 1686.5,1115.1 1687.7,1113.3 1688.8,1114.5 1689.9,1112.8 1691.1,1112.8 1692.0,1113.0 1692.9,1110.8 1693.9,1111.8 1694.8,1110.5 1696.0,1110.7 1697.2,1112.3 1698.4,1112.4 1699.6,1107.7 1700.7,1111.0 1701.8,1105.1 1703.0,1103.7 1704.1,1105.9 1705.1,1104.5 1706.2,1106.9 1707.2,1106.2 1708.2,1102.8 1709.3,1104.1 1710.3,1102.3 1711.2,1101.9 1712.2,1104.0 1713.1,1102.7 1714.0,1104.1 1715.2,1106.8 1716.3,1107.8 1716.7,1120.2 1718.1,1113.3 1719.1,1115.1 1720.2,1122.9 1721.2,1122.4 1722.2,1127.9 1723.3,1125.6 1724.3,1116.2 1725.4,1113.3 1726.6,1119.0 1727.7,1120.0 1728.8,1126.9 1730.0,1128.2 1731.8,1119.1 1732.8,1115.6 1733.7,1114.5 1735.0,1128.2 1736.4,1127.3 1737.3,1135.3 1738.2,1137.8 1739.2,1150.1 1740.1,1153.9 1741.9,1142.0 1743.7,1145.6 1744.8,1137.5 1746.0,1133.3 1747.2,1130.8 1748.3,1126.4 1749.4,1126.2 1750.4,1128.0 1751.5,1128.2 1752.5,1123.5 1753.4,1120.5 1754.5,1122.1 1755.6,1122.3 1756.5,1118.6 1757.5,1116.3 1758.7,1116.3 1759.9,1113.6 1761.1,1113.6 1762.2,1116.6 1763.4,1118.6 1764.4,1114.1 1765.5,1115.1 1766.5,1109.5 1767.5,1109.9 1768.5,1113.9 1769.4,1114.5 1770.6,1109.9 1771.8,1109.8 1773.0,1106.3 1774.2,1104.9 1775.3,1105.9 1776.4,1103.2 1777.6,1104.0 1778.7,1103.6 1779.7,1100.7 1780.8,1101.2 1781.7,1107.6 1782.7,1104.2 1783.6,1112.8 1784.5,1112.7 1785.7,1109.9 1786.8,1108.5 1787.8,1114.5 1788.8,1111.5 1789.9,1119.5 1790.9,1118.6 1792.7,1106.3 1793.7,1102.7 1794.8,1104.3 1795.8,1100.2 1796.8,1100.8 1798.2,1104.4 1799.1,1104.7 1800.1,1098.8 1801.0,1097.1 1802.1,1097.1 1803.1,1094.9 1804.2,1095.3 1806.0,1098.0 1807.2,1096.8 1808.3,1094.4 1809.4,1099.2 1810.6,1110.4 1811.8,1107.8 1812.9,1102.6 1814.7,1110.4 1816.5,1103.1 1817.7,1102.8 1818.8,1104.4 1819.9,1102.0 1821.1,1098.0 1822.2,1095.7 1823.4,1095.3 1824.3,1097.1 1825.3,1096.0 1826.2,1097.1 1827.3,1099.3 1828.3,1098.7 1829.4,1101.2 1830.7,1106.3 1831.7,1103.9 1832.6,1098.9 1833.8,1097.6 1835.0,1097.6 1836.2,1096.2 1837.3,1093.4 1838.5,1095.2 1839.7,1088.6 1840.8,1088.9 1841.9,1090.2 1842.9,1086.1 1844.0,1088.0 1845.1,1084.2 1846.1,1085.4 1847.2,1082.9 1848.3,1083.6 1849.5,1087.0 1850.5,1086.4 1851.5,1079.4 1852.6,1082.3 1853.6,1077.9 1854.7,1076.3 1855.8,1078.2 1856.9,1075.8 1858.0,1077.2 1859.1,1075.1 1860.0,1071.6 1860.9,1073.6 1861.9,1068.3 1862.8,1070.4 1863.7,1067.8 1864.6,1066.8 1865.6,1073.7 1866.5,1072.2 1867.4,1075.6 1868.8,1073.6 1870.1,1066.0 1871.0,1064.1 1871.9,1064.8 1872.9,1061.8 1873.8,1062.3 1874.7,1063.2 1876.5,1098.9 1877.9,1085.2 1879.1,1102.5 1880.2,1118.2 1882.0,1141.1 1882.9,1145.7 1883.9,1157.8 1884.8,1164.0 1885.7,1131.0 1887.5,1143.8 1888.7,1127.1 1889.8,1115.4 1890.9,1114.8 1892.1,1109.0 1893.9,1119.1 1895.1,1108.5 1896.2,1102.6 1897.3,1107.1 1898.5,1108.1 1900.3,1111.8 1901.2,1104.2 1902.2,1099.8 1903.4,1098.2 1904.6,1094.9 1905.8,1093.4 1906.7,1088.7 1907.7,1079.4 1908.6,1076.0 1909.9,1095.3 1911.1,1092.2 1912.2,1085.2 1913.3,1088.1 1914.5,1095.3 1915.6,1094.2 1916.6,1085.7 1917.7,1082.5 1918.7,1081.8 1919.7,1075.9 1920.7,1077.1 1921.7,1073.6 1922.7,1072.2 1923.8,1071.8 1925.0,1068.0 1926.2,1068.4 1927.3,1065.3 1928.2,1063.6 1929.1,1064.9 1930.1,1061.1 1931.0,1062.4 1931.9,1060.7 1932.8,1055.1 1933.8,1056.3 1934.7,1051.1 1936.0,1044.7 1937.4,1065.8 1938.6,1062.6 1939.7,1060.7 1941.1,1069.8 1942.4,1072.2 1943.5,1068.6 1944.5,1068.7 1945.5,1064.4 1946.6,1063.0 1948.4,1049.3 1949.3,1053.5 1950.2,1050.6 1951.2,1058.0 1952.1,1057.5 1953.9,1072.2 1955.2,1059.4 1956.6,1050.2 1957.7,1048.5 1958.7,1043.4 1959.8,1041.1 1960.8,1045.5 1961.7,1046.6 1962.7,1041.1 1963.8,1041.8 1964.8,1034.4 1965.8,1033.7 1967.2,1037.2 1968.5,1038.3 1969.6,1033.7 1970.6,1036.1 1971.7,1031.9 1972.8,1032.0 1973.8,1034.3 1974.9,1033.7 1975.8,1028.4 1976.8,1024.6 1978.2,1026.9 1979.5,1027.3 1980.5,1023.3 1981.4,1021.8 1983.2,1032.8 1984.4,1027.8 1985.6,1019.1 1986.8,1013.6 1987.7,1014.8 1988.7,1014.0 1989.6,1014.5 1990.9,1021.3 1992.3,1023.7 1993.2,1023.8 1994.2,1027.3 1995.4,1022.6 1996.6,1014.4 1997.8,1009.9 1998.9,1015.5 2000.1,1017.2 2001.2,1012.4 2002.4,1010.8 2004.2,1001.7 2005.1,1001.9 2006.1,994.9 2007.0,996.5 2007.9,993.4 2008.8,992.0 2009.8,992.7 2010.7,991.0 2011.6,990.7 2012.9,990.7 2014.3,987.9 2015.7,1001.7 2017.1,995.0 2018.4,993.4 2019.5,993.6 2020.5,990.6 2021.6,989.8 2022.5,990.7 2023.4,986.0 2024.4,988.0 2025.3,984.0 2026.2,984.7 2027.6,993.4 2028.7,992.0 2029.7,985.4 2030.8,983.4 2031.7,982.6 2032.6,978.7 2033.6,978.9 2034.5,974.9 2035.4,974.7 2037.2,984.3 2039.0,971.0 2039.9,972.3 2040.8,970.8 2041.8,973.1 2042.7,972.4 2043.7,968.6 2044.8,970.1 2045.8,965.5 2046.8,965.5 2047.3,971.5 2048.2,971.0 2049.1,963.8 2050.1,966.5 2051.0,960.5 2051.9,959.6 2053.2,963.3 2054.6,964.1 2055.5,963.2 2056.4,967.2 2057.4,965.7 2058.3,968.7 2059.7,975.6 2061.0,981.1 2062.1,978.5 2063.1,978.6 2064.2,976.0 2065.3,965.9 2066.5,961.4 2067.4,961.9 2068.4,956.7 2069.3,956.8 2070.7,952.9 2072.0,945.8 2072.9,944.8 2073.9,946.0 2074.8,945.4 2075.8,945.2 2076.9,946.5 2077.9,945.8 2078.9,951.1 2079.8,961.4 2080.9,958.4 2081.9,947.5 2083.0,944.4 2083.9,952.1 2084.9,951.0 2085.8,957.3 2086.9,953.9 2087.9,941.8 2089.0,938.0 2090.2,939.1 2091.3,938.5 2093.1,946.7 2094.2,952.8 2095.4,965.5 2096.5,968.5 2097.7,978.8 2098.8,972.9 2099.8,962.6 2100.9,956.4 2102.2,963.2 2103.1,970.4 2104.0,971.8 2105.0,980.7 2105.9,981.1 2106.8,987.0 2108.6,973.3 2110.0,990.1 2110.9,986.6 2111.9,981.6 2112.9,973.5 2113.8,967.4 2114.8,966.9 2115.7,958.2 2116.7,957.2 2117.6,952.3 2119.4,958.0 2120.4,961.3 2121.3,967.0 2122.3,970.3 2123.2,967.6 2124.2,967.4 2125.6,982.5 2126.8,991.1 2127.9,994.8 2128.9,981.6 2130.1,994.5 2131.2,1012.8 2132.7,1000.5 2134.1,1015.6 2135.2,1010.5 2136.3,999.0 2137.4,992.0 2138.4,995.2 2139.3,995.8 2140.4,1011.3 2141.5,1030.3 2142.7,1037.4 2144.1,1029.7 2145.2,1016.2 2146.7,1026.8 2147.9,1023.6 2149.2,1016.8 2150.2,1024.6 2151.3,1026.5 2152.4,1021.0 2153.9,1009.0 2155.1,999.9 2156.3,996.7 2157.2,997.3 2158.2,995.1 2159.1,994.8 2160.3,990.8 2161.5,980.6 2162.6,980.8 2163.7,990.9 2164.8,991.0 2165.8,1000.9 2166.7,1012.8 2167.8,1009.0 2168.9,1001.7 2170.0,997.6 2171.7,1016.2 2172.3,1019.4 2173.9,1035.4 2175.4,1033.5 2176.2,1044.7 2177.4,1026.5 2178.6,1036.6 2179.7,1045.1 2181.3,1032.9 2182.2,1037.4 2183.2,1027.5 2184.1,1026.6 2185.1,1016.8 2186.7,1032.2 2187.7,1024.8 2188.7,1022.3 2189.3,1029.7 2190.2,1026.6 2191.2,1015.0 2192.2,1012.8 2193.1,1005.2 2194.3,1002.3 2195.5,1000.5 2196.6,1005.2 2197.7,1005.2 2198.8,1011.8 2199.9,1019.2 2201.1,1024.1 2202.2,1024.3 2203.3,1026.8 2204.4,1026.9 2205.6,1024.6 2206.8,1023.1 2207.7,1019.8 2208.7,1012.2 2209.6,1009.0 2210.6,1015.0 2211.5,1016.5 2212.7,1008.2 2213.9,1003.3 2214.9,999.5 2215.8,992.5 2216.7,991.7 2217.7,994.5 2218.6,993.0 2219.5,994.8 2220.7,1003.4 2221.9,1007.1 2223.0,1005.4 2224.1,1005.6 2225.2,1003.3 2226.4,1009.4 2227.6,1019.4 2228.7,1018.8 2229.8,1010.8 2230.9,1009.0 2232.0,1007.9 2233.1,999.2 2234.2,997.6 2235.1,997.6 2236.1,995.5 2237.1,996.6 2238.0,995.8 2238.9,995.2 2239.8,999.4 2240.8,999.5 2241.7,1001.4 2243.1,993.9 2244.1,994.8 2245.0,993.6 2246.0,996.3 2246.9,995.1 2247.9,995.8 2248.8,995.3 2249.8,990.6 2250.7,990.1 2251.8,990.0 2252.9,984.0 2254.0,982.5 2254.9,981.3 2255.9,974.2 2256.9,975.6 2257.8,969.3 2258.9,970.8 2260.0,978.0 2261.1,977.8 2262.1,970.7 2263.0,966.5 2264.2,969.6 2265.3,971.2 2266.5,963.3 2267.7,960.8 2268.6,961.1 2269.6,958.3 2270.5,959.5 2271.5,956.5 2272.4,956.1 2273.8,962.7 2274.9,965.5 2276.0,963.8 2277.1,966.5 2278.1,972.7 2279.0,974.0 2280.0,967.5 2280.9,967.6 2281.9,961.8 2282.8,961.6 2283.8,963.4 2284.7,962.0 2285.6,963.7 2286.6,968.4 2287.5,968.1 2288.4,975.8 2289.4,978.8 2290.5,980.2 2291.6,985.0 2292.7,986.3 2293.6,979.3 2294.6,980.9 2295.5,975.0 2296.5,977.6 2297.4,986.9 2298.4,986.7 2299.3,994.4 2300.3,996.7 2301.1,980.9 2302.1,976.1 2303.2,974.5 2304.8,971.3 2306.4,961.7 2307.4,961.3 2308.5,958.0 2309.6,955.9 2310.6,957.4 2311.7,955.4 2313.3,957.5 2314.6,947.9 2315.9,941.6 2317.0,941.4 2318.0,939.3 2319.1,938.9 2320.2,943.9 2321.2,941.7 2322.3,946.3 2323.4,944.9 2324.4,938.9 2326.0,942.1 2326.9,937.3 2327.8,936.8 2328.8,928.4 2329.7,927.7 2330.8,933.0 2332.2,927.4 2333.5,917.1 2334.4,917.4 2335.3,919.7 2336.3,918.0 2337.2,920.3 2338.2,916.9 2339.3,910.7 2340.7,907.9 2342.0,906.5 2343.3,908.2 2344.6,908.6 2345.7,903.2 2346.8,906.1 2347.8,899.1 2348.9,897.5 2350.0,901.1 2351.0,901.6 2352.1,905.4 2353.1,912.5 2354.2,914.2 2355.2,921.9 2356.1,920.1 2357.1,914.4 2358.1,914.4 2359.0,910.2 2359.5,917.6 2360.6,907.7 2361.6,907.3 2362.6,897.1 2363.7,891.6 2364.8,895.1 2365.8,893.6 2366.9,896.7 2368.0,896.9 2369.1,889.2 2370.1,891.3 2371.2,881.4 2372.2,881.9 2373.3,875.7 2374.4,875.7 2375.4,877.7 2376.5,876.9 2377.6,877.8 2378.6,876.2 2379.5,870.3 2380.5,870.1 2381.5,864.6 2382.4,866.5 2383.4,860.8 2385.0,872.5 2386.6,883.1 2387.6,877.2 2388.7,875.7 2390.3,902.2 2391.4,893.0 2392.4,877.1 2393.5,868.2 2394.4,868.1 2395.3,864.2 2396.3,865.2 2397.2,861.9 2398.6,869.9 2399.9,881.5 2400.8,878.3 2401.8,866.3 2402.7,865.5 2403.6,857.6 2404.6,855.8 2405.5,857.7 2406.5,854.8 2407.4,855.7 2408.4,854.4 2409.4,857.1 2410.3,850.8 2411.2,853.1 2412.2,843.4 2413.1,842.7 2414.1,844.8 2415.0,842.8 2415.9,846.4 2416.9,845.9 2417.9,855.5 2419.2,840.5 2420.6,830.5 2421.6,837.8 2422.7,841.2 2423.7,836.4 2424.7,837.3 2425.6,830.6 2426.6,830.3 2427.6,822.3 2428.6,822.0 2429.6,823.5 2430.7,822.2 2431.7,823.6 2432.8,840.6 2433.9,835.7 2434.9,827.9 2436.2,832.9 2437.6,841.7 2438.9,844.6 2440.2,845.4 2441.1,836.7 2442.1,834.7 2443.1,824.1 2444.0,820.4 2444.9,826.1 2445.8,824.0 2446.8,830.1 2447.7,830.0 2448.8,824.3 2449.8,823.1 2451.0,821.4 2452.2,817.1 2453.9,830.6 2455.6,836.2 2457.3,845.1 2458.4,855.9 2459.5,870.9 2461.2,859.7 2462.3,858.5 2463.5,850.8 2464.6,867.6 2466.3,860.8 2467.4,920.3 2468.5,874.9 2469.6,883.3 2470.8,893.1 2471.9,904.6 2473.6,872.1 2474.7,867.6 2475.8,858.6 2476.9,864.2 2477.8,852.9 2478.8,846.9 2479.7,833.9 2480.8,837.0 2482.0,846.8 2483.6,838.4 2484.6,838.1 2485.6,832.5 2486.7,833.3 2487.7,826.3 2488.7,826.1 2489.8,831.5 2490.9,832.8 2492.0,823.2 2493.2,820.4 2494.3,810.4 2495.2,808.4 2496.2,809.8 2497.1,808.1 2498.2,803.2 2499.3,805.3 2500.5,797.6 2501.6,795.8 2502.5,802.9 2503.5,803.0 2504.4,809.3 2505.4,807.1 2506.4,798.2 2507.3,797.6 2508.3,789.1 2509.4,791.6 2510.6,796.9 2511.6,795.0 2512.6,789.8 2513.5,790.3 2514.5,785.7 2515.4,782.5 2516.4,782.1 2517.3,777.9 2518.4,776.1 2519.6,777.5 2520.7,774.5 2521.8,774.5 2522.8,773.4 2523.8,768.1 2524.7,769.7 2525.7,764.4 2526.8,781.2 2528.5,770.0 2529.5,761.9 2530.4,762.6 2531.4,754.4 2532.4,750.9 2533.3,756.7 2534.3,755.2 2535.2,759.9 2536.9,753.7 2538.1,768.7 2539.2,781.2 2540.1,771.5 2541.1,766.9 2542.0,755.4 2543.1,751.5 2544.2,753.9 2545.3,748.8 2546.4,748.7 2548.1,764.4 2549.2,758.3 2550.4,747.6 2551.5,749.5 2552.6,753.2" fill="none" stroke="#262626" stroke-opacity="0.9" stroke-width="1.15" stroke-linejoin="round"/>
<rect x="106.10" y="729.10" width="597.30" height="57.60" rx="3.5" ry="3.5" fill="#fff" fill-opacity="0.8" stroke="#ccc" stroke-width="1.6"/>
<rect class="rS" x="113.10" y="737.70" width="34" height="13.2"/>
<text x="158.60" y="749.10" font-size="18.2" textLength="122.4" lengthAdjust="spacingAndGlyphs">0 - Steady Bull</text>
<rect class="rA" x="113.10" y="763.90" width="34" height="13.2"/>
<text x="157.00" y="775.80" font-size="18.2" textLength="143.1" lengthAdjust="spacingAndGlyphs">1 - Accumulation</text>
<rect class="rT" x="332.90" y="737.70" width="34" height="13.2"/>
<text x="378.40" y="749.10" font-size="18.2" textLength="110.4" lengthAdjust="spacingAndGlyphs">2 - Transition</text>
<rect class="rV" x="332.90" y="763.90" width="34" height="13.2"/>
<text x="378.40" y="775.80" font-size="18.2" textLength="126.8" lengthAdjust="spacingAndGlyphs">3 - Volatile Bull</text>
<rect class="rR" x="537.70" y="737.70" width="34" height="13.2"/>
<text x="584.20" y="749.10" font-size="18.2" textLength="113.6" lengthAdjust="spacingAndGlyphs">4 - Correction</text>
<rect class="rC" x="537.70" y="763.90" width="34" height="13.2"/>
<text x="583.20" y="775.80" font-size="18.2" textLength="73.4" lengthAdjust="spacingAndGlyphs">5 - Crisis</text>
<rect x="98.20" y="721.00" width="2570.80" height="610.00" fill="none" stroke="#000" stroke-width="1.67"/>
<line x1="90.90" y1="1274.80" x2="98.20" y2="1274.80" stroke="#000" stroke-width="1.67"/>
<text x="82.9" y="1282.40" font-size="21.8" text-anchor="end" textLength="39.4" lengthAdjust="spacingAndGlyphs">100</text>
<line x1="90.90" y1="1185.65" x2="98.20" y2="1185.65" stroke="#000" stroke-width="1.67"/>
<text x="82.9" y="1193.25" font-size="21.8" text-anchor="end" textLength="39.4" lengthAdjust="spacingAndGlyphs">200</text>
<line x1="90.90" y1="1096.50" x2="98.20" y2="1096.50" stroke="#000" stroke-width="1.67"/>
<text x="82.9" y="1104.10" font-size="21.8" text-anchor="end" textLength="39.4" lengthAdjust="spacingAndGlyphs">300</text>
<line x1="90.90" y1="1007.35" x2="98.20" y2="1007.35" stroke="#000" stroke-width="1.67"/>
<text x="82.9" y="1014.95" font-size="21.8" text-anchor="end" textLength="39.4" lengthAdjust="spacingAndGlyphs">400</text>
<line x1="90.90" y1="918.20" x2="98.20" y2="918.20" stroke="#000" stroke-width="1.67"/>
<text x="82.9" y="925.80" font-size="21.8" text-anchor="end" textLength="39.4" lengthAdjust="spacingAndGlyphs">500</text>
<line x1="90.90" y1="829.05" x2="98.20" y2="829.05" stroke="#000" stroke-width="1.67"/>
<text x="82.9" y="836.65" font-size="21.8" text-anchor="end" textLength="39.4" lengthAdjust="spacingAndGlyphs">600</text>
<line x1="90.90" y1="739.90" x2="98.20" y2="739.90" stroke="#000" stroke-width="1.67"/>
<text x="82.9" y="747.50" font-size="21.8" text-anchor="end" textLength="39.4" lengthAdjust="spacingAndGlyphs">700</text>
<line x1="239.10" y1="1331.00" x2="239.10" y2="1338.30" stroke="#000" stroke-width="1.67"/>
<line x1="470.31" y1="1331.00" x2="470.31" y2="1338.30" stroke="#000" stroke-width="1.67"/>
<line x1="701.84" y1="1331.00" x2="701.84" y2="1338.30" stroke="#000" stroke-width="1.67"/>
<line x1="933.05" y1="1331.00" x2="933.05" y2="1338.30" stroke="#000" stroke-width="1.67"/>
<line x1="1164.58" y1="1331.00" x2="1164.58" y2="1338.30" stroke="#000" stroke-width="1.67"/>
<line x1="1395.79" y1="1331.00" x2="1395.79" y2="1338.30" stroke="#000" stroke-width="1.67"/>
<line x1="1627.32" y1="1331.00" x2="1627.32" y2="1338.30" stroke="#000" stroke-width="1.67"/>
<line x1="1858.53" y1="1331.00" x2="1858.53" y2="1338.30" stroke="#000" stroke-width="1.67"/>
<line x1="2090.06" y1="1331.00" x2="2090.06" y2="1338.30" stroke="#000" stroke-width="1.67"/>
<line x1="2321.27" y1="1331.00" x2="2321.27" y2="1338.30" stroke="#000" stroke-width="1.67"/>
<line x1="2552.80" y1="1331.00" x2="2552.80" y2="1338.30" stroke="#000" stroke-width="1.67"/>
<text transform="translate(29.9,1026.00) rotate(-90)" font-size="21.3" text-anchor="middle" textLength="102.4" lengthAdjust="spacingAndGlyphs">SPY Close</text>
<text x="1383.65" y="708.30" font-size="28" font-weight="bold" text-anchor="middle" textLength="369.0" lengthAdjust="spacingAndGlyphs">K-Means Risk Ranks (7f)</text>
<g class="b2">
<g class="rS">
<rect x="224.93" width="10.57"/><rect x="238.71" width="4.14"/><rect x="247.44" width="0.46"/><rect x="251.58" width="5.97"/><rect x="258.93" width="1.38"/><rect x="261.23" width="7.35"/><rect x="274.09" width="4.59"/><rect x="311.77" width="28.95"/><rect x="344.39" width="26.19"/><rect x="384.82" width="17.00"/><rect x="726.21" width="6.43"/><rect x="811.67" width="0.01"/><rect x="812.59" width="0.46"/><rect x="813.97" width="9.65"/><rect x="824.54" width="7.81"/><rect x="833.72" width="0.46"/><rect x="851.18" width="0.01"/><rect x="852.10" width="1.84"/><rect x="856.24" width="0.01"/><rect x="955.48" width="0.46"/><rect x="1011.54" width="0.92"/><rect x="1014.30" width="1.84"/><rect x="1051.05" width="11.49"/><rect x="1070.35" width="0.01"/><rect x="1072.19" width="0.46"/><rect x="1073.57" width="0.92"/><rect x="1077.24" width="3.68"/><rect x="1109.87" width="8.73"/><rect x="1131.00" width="1.84"/><rect x="1144.33" width="2.76"/><rect x="1148.46" width="7.81"/><rect x="1160.41" width="5.51"/><rect x="1183.38" width="0.46"/><rect x="1204.98" width="1.38"/><rect x="1207.73" width="0.46"/><rect x="1209.57" width="15.62"/><rect x="1226.11" width="0.01"/><rect x="1227.03" width="1.84"/><rect x="1237.14" width="9.65"/><rect x="1265.63" width="5.97"/><rect x="1316.17" width="0.46"/><rect x="1318.01" width="0.92"/><rect x="1319.84" width="1.38"/><rect x="1322.14" width="0.92"/><rect x="1423.68" width="5.05"/><rect x="1429.66" width="1.84"/><rect x="1442.98" width="1.84"/><rect x="1461.82" width="11.49"/><rect x="1499.50" width="34.92"/><rect x="1539.93" width="1.84"/><rect x="1547.28" width="5.97"/><rect x="1555.55" width="13.32"/><rect x="1571.63" width="8.27"/><rect x="1587.25" width="1.38"/><rect x="1589.55" width="20.68"/><rect x="1613.90" width="21.60"/><rect x="1691.09" width="5.97"/><rect x="1700.28" width="13.32"/><rect x="1773.34" width="6.89"/><rect x="1803.66" width="5.51"/><rect x="1842.26" width="5.05"/><rect x="1850.99" width="14.24"/>
</g>
<g class="rA">
<rect x="217.58" width="6.89"/><rect x="235.95" width="2.30"/><rect x="243.31" width="3.68"/><rect x="248.36" width="2.76"/><rect x="258.01" width="0.46"/><rect x="260.77" width="0.01"/><rect x="269.04" width="4.59"/><rect x="279.14" width="3.68"/><rect x="287.87" width="1.38"/><rect x="292.01" width="1.84"/><rect x="296.15" width="3.68"/><rect x="302.58" width="8.73"/><rect x="341.17" width="2.76"/><rect x="372.88" width="0.01"/><rect x="373.80" width="0.92"/><rect x="375.63" width="0.01"/><rect x="376.55" width="0.92"/><rect x="378.39" width="5.97"/><rect x="402.28" width="6.43"/><rect x="411.47" width="1.84"/><rect x="416.07" width="2.76"/><rect x="439.04" width="7.35"/><rect x="507.50" width="5.97"/><rect x="517.61" width="0.92"/><rect x="666.48" width="3.22"/><rect x="675.67" width="3.22"/><rect x="690.83" width="0.46"/><rect x="692.21" width="1.38"/><rect x="695.42" width="0.46"/><rect x="696.80" width="11.03"/><rect x="717.94" width="7.81"/><rect x="733.10" width="3.68"/><rect x="787.78" width="11.95"/><rect x="803.86" width="0.01"/><rect x="804.78" width="0.01"/><rect x="806.62" width="0.01"/><rect x="808.91" width="2.30"/><rect x="812.13" width="0.01"/><rect x="813.51" width="0.01"/><rect x="824.08" width="0.01"/><rect x="832.81" width="0.46"/><rect x="846.13" width="4.59"/><rect x="851.64" width="0.01"/><rect x="854.40" width="1.38"/><rect x="856.70" width="0.46"/><rect x="858.08" width="0.46"/><rect x="859.45" width="0.01"/><rect x="860.37" width="1.38"/><rect x="863.13" width="9.65"/><rect x="875.54" width="0.01"/><rect x="876.91" width="4.14"/><rect x="934.35" width="20.68"/><rect x="956.40" width="8.27"/><rect x="965.59" width="1.38"/><rect x="967.89" width="0.01"/><rect x="968.81" width="6.89"/><rect x="991.32" width="0.46"/><rect x="992.70" width="1.84"/><rect x="995.46" width="0.01"/><rect x="999.59" width="1.84"/><rect x="1003.27" width="7.81"/><rect x="1012.92" width="0.92"/><rect x="1016.59" width="10.57"/><rect x="1032.22" width="13.32"/><rect x="1050.13" width="0.46"/><rect x="1063.00" width="0.01"/><rect x="1066.68" width="0.01"/><rect x="1067.59" width="0.01"/><rect x="1069.43" width="0.46"/><rect x="1070.81" width="0.92"/><rect x="1073.11" width="0.01"/><rect x="1074.95" width="1.84"/><rect x="1081.38" width="6.43"/><rect x="1089.19" width="0.46"/><rect x="1091.49" width="4.59"/><rect x="1097.92" width="2.76"/><rect x="1106.19" width="3.22"/><rect x="1119.06" width="1.84"/><rect x="1124.57" width="0.46"/><rect x="1125.95" width="0.46"/><rect x="1127.33" width="2.30"/><rect x="1130.54" width="0.01"/><rect x="1133.76" width="0.92"/><rect x="1136.97" width="6.43"/><rect x="1156.73" width="3.22"/><rect x="1168.22" width="3.68"/><rect x="1172.81" width="0.92"/><rect x="1174.65" width="0.01"/><rect x="1175.57" width="7.35"/><rect x="1184.30" width="12.41"/><rect x="1198.08" width="3.68"/><rect x="1202.68" width="0.01"/><rect x="1204.06" width="0.46"/><rect x="1206.81" width="0.46"/><rect x="1208.65" width="0.46"/><rect x="1225.65" width="0.01"/><rect x="1226.57" width="0.01"/><rect x="1229.33" width="0.01"/><rect x="1230.71" width="1.38"/><rect x="1233.46" width="0.01"/><rect x="1234.38" width="0.01"/><rect x="1235.76" width="0.46"/><rect x="1247.25" width="5.05"/><rect x="1272.06" width="5.05"/><rect x="1298.25" width="0.01"/><rect x="1299.17" width="4.59"/><rect x="1306.98" width="4.14"/><rect x="1312.03" width="1.84"/><rect x="1314.79" width="0.92"/><rect x="1317.09" width="0.46"/><rect x="1319.38" width="0.01"/><rect x="1321.68" width="0.01"/><rect x="1325.36" width="0.46"/><rect x="1326.74" width="7.35"/><rect x="1338.22" width="1.38"/><rect x="1340.98" width="9.65"/><rect x="1352.01" width="0.46"/><rect x="1378.20" width="0.92"/><rect x="1380.95" width="4.59"/><rect x="1429.20" width="0.01"/><rect x="1431.95" width="5.97"/><rect x="1438.85" width="0.92"/><rect x="1440.68" width="1.84"/><rect x="1445.28" width="5.97"/><rect x="1474.22" width="10.57"/><rect x="1488.01" width="4.14"/><rect x="1534.87" width="4.59"/><rect x="1542.23" width="4.59"/><rect x="1553.71" width="1.38"/><rect x="1569.34" width="1.84"/><rect x="1580.36" width="6.43"/><rect x="1589.09" width="0.01"/><rect x="1610.69" width="2.76"/><rect x="1635.96" width="1.38"/><rect x="1679.15" width="2.76"/><rect x="1697.53" width="2.30"/><rect x="1714.07" width="1.84"/><rect x="1780.69" width="1.38"/><rect x="1847.77" width="2.76"/><rect x="1869.37" width="0.01"/>
</g>
<g class="rT">
<rect x="213.90" width="3.22"/><rect x="283.28" width="4.14"/><rect x="289.71" width="1.84"/><rect x="294.31" width="1.38"/><rect x="300.28" width="1.84"/><rect x="371.04" width="1.38"/><rect x="373.34" width="0.01"/><rect x="375.17" width="0.01"/><rect x="376.09" width="0.01"/><rect x="377.93" width="0.01"/><rect x="409.17" width="1.84"/><rect x="413.77" width="1.84"/><rect x="446.85" width="3.22"/><rect x="513.93" width="3.22"/><rect x="518.99" width="0.01"/><rect x="691.75" width="0.01"/><rect x="694.05" width="0.92"/><rect x="696.34" width="0.01"/><rect x="737.24" width="2.30"/><rect x="783.64" width="3.68"/><rect x="800.18" width="3.22"/><rect x="804.32" width="0.01"/><rect x="805.24" width="0.92"/><rect x="807.08" width="1.38"/><rect x="834.64" width="5.05"/><rect x="842.45" width="3.22"/><rect x="857.62" width="0.01"/><rect x="859.00" width="0.01"/><rect x="859.91" width="0.01"/><rect x="862.21" width="0.46"/><rect x="873.24" width="1.84"/><rect x="876.00" width="0.46"/><rect x="881.51" width="0.92"/><rect x="965.13" width="0.01"/><rect x="967.43" width="0.01"/><rect x="968.35" width="0.01"/><rect x="976.16" width="2.76"/><rect x="990.40" width="0.46"/><rect x="992.24" width="0.01"/><rect x="995.00" width="0.01"/><rect x="995.92" width="3.22"/><rect x="1001.89" width="0.92"/><rect x="1027.62" width="4.14"/><rect x="1046.00" width="3.68"/><rect x="1063.46" width="2.76"/><rect x="1067.13" width="0.01"/><rect x="1068.05" width="0.92"/><rect x="1088.27" width="0.46"/><rect x="1090.11" width="0.92"/><rect x="1096.54" width="0.92"/><rect x="1101.14" width="0.46"/><rect x="1104.81" width="0.92"/><rect x="1121.35" width="2.76"/><rect x="1125.49" width="0.01"/><rect x="1126.87" width="0.01"/><rect x="1130.08" width="0.01"/><rect x="1133.30" width="0.01"/><rect x="1135.14" width="1.38"/><rect x="1143.87" width="0.01"/><rect x="1147.54" width="0.46"/><rect x="1166.38" width="1.38"/><rect x="1172.35" width="0.01"/><rect x="1174.19" width="0.01"/><rect x="1175.11" width="0.01"/><rect x="1197.16" width="0.46"/><rect x="1202.22" width="0.01"/><rect x="1203.14" width="0.46"/><rect x="1229.79" width="0.46"/><rect x="1232.54" width="0.46"/><rect x="1233.92" width="0.01"/><rect x="1234.84" width="0.46"/><rect x="1236.68" width="0.01"/><rect x="1257.36" width="7.81"/><rect x="1292.28" width="5.51"/><rect x="1298.71" width="0.01"/><rect x="1304.22" width="2.30"/><rect x="1311.57" width="0.01"/><rect x="1314.33" width="0.01"/><rect x="1323.52" width="1.38"/><rect x="1326.28" width="0.01"/><rect x="1334.55" width="3.22"/><rect x="1340.06" width="0.46"/><rect x="1351.09" width="0.46"/><rect x="1368.09" width="9.65"/><rect x="1379.57" width="0.92"/><rect x="1386.01" width="1.38"/><rect x="1414.95" width="8.27"/><rect x="1438.39" width="0.01"/><rect x="1440.22" width="0.01"/><rect x="1454.93" width="6.43"/><rect x="1473.77" width="0.01"/><rect x="1485.25" width="2.30"/><rect x="1492.60" width="6.43"/><rect x="1647.44" width="3.68"/><rect x="1663.99" width="14.70"/><rect x="1684.66" width="5.97"/><rect x="1752.20" width="20.68"/><rect x="1792.18" width="11.03"/><rect x="1821.58" width="6.89"/><rect x="1831.69" width="10.11"/><rect x="1868.45" width="0.46"/><rect x="1869.83" width="4.59"/><rect x="2004.91" width="8.73"/><rect x="2019.62" width="7.81"/><rect x="2028.35" width="6.89"/><rect x="2037.99" width="8.73"/><rect x="2048.10" width="5.05"/><rect x="2070.16" width="7.35"/><rect x="2237.40" width="0.92"/><rect x="2241.54" width="0.01"/><rect x="2242.92" width="0.46"/><rect x="2244.76" width="0.01"/><rect x="2245.67" width="0.01"/><rect x="2247.05" width="0.92"/><rect x="2248.89" width="0.01"/><rect x="2250.27" width="22.05"/><rect x="2280.13" width="7.81"/><rect x="2309.54" width="42.73"/><rect x="2366.51" width="17.00"/><rect x="2384.43" width="1.38"/><rect x="2386.73" width="0.01"/><rect x="2412.00" width="2.76"/><rect x="2422.11" width="9.65"/><rect x="2448.76" width="0.92"/><rect x="2451.06" width="0.01"/><rect x="2452.44" width="0.01"/><rect x="2497.00" width="5.51"/><rect x="2506.19" width="3.22"/><rect x="2511.71" width="13.32"/>
</g>
<g class="rV">
<rect x="419.28" width="19.30"/><rect x="450.53" width="56.51"/><rect x="519.45" width="31.70"/><rect x="619.61" width="46.41"/><rect x="670.15" width="5.05"/><rect x="679.34" width="11.03"/><rect x="708.29" width="9.19"/><rect x="739.99" width="4.14"/><rect x="747.80" width="35.38"/><rect x="840.16" width="1.84"/><rect x="882.89" width="1.38"/><rect x="905.40" width="28.49"/><rect x="979.38" width="10.57"/><rect x="1102.05" width="2.30"/><rect x="1252.76" width="4.14"/><rect x="1277.57" width="14.24"/><rect x="1357.52" width="10.11"/><rect x="1387.84" width="10.11"/><rect x="1451.71" width="2.76"/><rect x="2002.61" width="1.84"/><rect x="2064.18" width="5.51"/><rect x="2306.78" width="2.30"/><rect x="2359.62" width="6.43"/><rect x="2403.73" width="4.14"/><rect x="2418.43" width="3.22"/><rect x="2450.14" width="0.46"/><rect x="2451.52" width="0.46"/><rect x="2491.49" width="5.05"/><rect x="2549.38" width="3.22"/>
</g>
<g class="rR">
<rect x="897.13" width="3.22"/><rect x="1398.41" width="16.08"/><rect x="1640.55" width="6.43"/><rect x="1651.58" width="11.95"/><rect x="1682.36" width="1.84"/><rect x="1716.37" width="21.60"/><rect x="1742.10" width="9.65"/><rect x="1782.53" width="9.19"/><rect x="1809.64" width="11.49"/><rect x="1828.94" width="2.30"/><rect x="1865.69" width="2.30"/><rect x="1901.07" width="7.81"/><rect x="1916.23" width="36.30"/><rect x="1956.67" width="45.49"/><rect x="2014.10" width="5.05"/><rect x="2027.89" width="0.01"/><rect x="2035.70" width="1.84"/><rect x="2047.18" width="0.46"/><rect x="2053.62" width="10.11"/><rect x="2077.97" width="16.54"/><rect x="2099.10" width="6.43"/><rect x="2113.35" width="11.49"/><rect x="2149.65" width="22.51"/><rect x="2185.48" width="1.84"/><rect x="2190.08" width="46.87"/><rect x="2238.78" width="2.30"/><rect x="2242.00" width="0.46"/><rect x="2243.84" width="0.46"/><rect x="2245.21" width="0.01"/><rect x="2246.13" width="0.46"/><rect x="2248.43" width="0.01"/><rect x="2249.35" width="0.46"/><rect x="2272.78" width="6.89"/><rect x="2288.41" width="17.92"/><rect x="2352.73" width="6.43"/><rect x="2383.97" width="0.01"/><rect x="2386.27" width="0.01"/><rect x="2387.19" width="0.46"/><rect x="2391.33" width="11.95"/><rect x="2408.33" width="3.22"/><rect x="2415.22" width="2.76"/><rect x="2432.22" width="16.08"/><rect x="2452.90" width="4.14"/><rect x="2460.71" width="4.59"/><rect x="2478.63" width="12.41"/><rect x="2502.98" width="2.76"/><rect x="2509.87" width="1.38"/><rect x="2525.49" width="23.43"/>
</g>
<g class="rC">
<rect x="551.61" width="67.54"/><rect x="744.59" width="2.76"/><rect x="884.73" width="11.95"/><rect x="900.81" width="4.14"/><rect x="1352.93" width="4.14"/><rect x="1637.80" width="2.30"/><rect x="1738.42" width="3.22"/><rect x="1874.88" width="25.73"/><rect x="1909.34" width="6.43"/><rect x="1952.99" width="3.22"/><rect x="2094.97" width="3.68"/><rect x="2106.00" width="6.89"/><rect x="2125.29" width="23.89"/><rect x="2172.62" width="12.41"/><rect x="2187.78" width="1.84"/><rect x="2388.11" width="2.76"/><rect x="2457.49" width="2.76"/><rect x="2465.76" width="12.41"/>
</g>
</g>
<polyline points="214.6,1930.8 215.8,1930.1 217.0,1930.6 218.2,1930.0 219.1,1928.1 220.1,1928.7 221.0,1927.5 222.3,1926.1 223.7,1926.2 224.6,1926.0 225.6,1923.9 226.5,1923.4 227.8,1924.4 229.2,1924.1 230.1,1923.6 231.1,1924.2 232.0,1923.2 232.9,1923.2 234.7,1924.1 235.8,1924.8 236.8,1924.3 237.9,1925.3 239.0,1925.6 240.0,1922.1 241.1,1921.3 242.2,1921.9 243.4,1921.8 244.4,1921.8 245.3,1923.8 246.4,1924.1 247.5,1921.8 248.4,1921.6 249.4,1924.1 250.3,1924.1 251.2,1921.8 252.2,1923.1 253.1,1920.6 254.0,1921.3 255.2,1921.6 256.4,1921.0 257.6,1921.3 258.8,1922.2 259.9,1922.5 261.0,1920.5 262.2,1919.8 263.1,1920.7 264.0,1919.7 265.0,1920.8 265.9,1919.6 266.8,1920.4 268.0,1921.2 269.2,1920.3 270.4,1921.3 271.3,1921.0 272.3,1919.8 273.2,1919.5 274.5,1919.8 275.9,1919.5 277.0,1918.1 278.0,1919.2 279.1,1918.1 280.2,1918.5 281.2,1922.8 282.2,1921.2 283.3,1924.1 284.6,1923.6 286.0,1921.8 287.1,1921.5 288.3,1923.2 289.5,1926.4 290.6,1926.8 292.0,1925.7 293.3,1925.5 294.2,1925.6 295.2,1922.7 296.1,1922.7 297.9,1923.2 298.8,1925.7 299.8,1923.9 300.7,1926.2 301.8,1926.1 302.9,1922.5 304.1,1924.0 305.2,1922.5 306.2,1922.1 307.3,1923.7 308.3,1922.7 309.4,1923.2 311.2,1920.4 312.3,1920.8 313.3,1919.9 314.4,1920.0 315.3,1920.6 316.2,1919.4 317.2,1920.5 318.1,1920.0 319.2,1918.3 320.4,1919.7 321.5,1917.6 322.6,1918.1 323.7,1918.7 324.7,1915.7 325.8,1917.3 326.9,1914.1 327.9,1916.8 329.0,1914.5 329.9,1913.5 330.9,1914.7 331.8,1913.2 332.7,1913.1 333.6,1914.5 334.6,1913.2 335.5,1914.5 336.6,1915.4 337.8,1911.1 338.9,1912.5 340.0,1910.8 340.9,1910.7 341.9,1912.6 342.8,1912.2 344.0,1911.1 345.2,1911.5 346.4,1909.9 347.3,1909.6 348.2,1910.1 349.2,1909.7 350.1,1910.6 351.0,1909.9 351.9,1909.8 352.8,1910.9 353.8,1910.1 354.7,1912.1 355.6,1911.3 356.5,1909.9 357.5,1910.3 358.4,1908.5 359.5,1908.0 360.6,1909.6 361.8,1908.1 362.9,1909.0 363.8,1909.6 364.8,1907.2 365.7,1907.1 366.8,1907.5 367.9,1906.5 369.0,1907.7 370.1,1905.9 371.2,1906.7 372.4,1910.7 373.5,1913.1 374.6,1912.2 375.6,1912.6 376.7,1911.7 377.9,1910.0 379.1,1910.6 380.3,1908.5 381.2,1908.4 382.2,1909.9 383.4,1909.7 384.6,1908.1 385.8,1907.6 386.7,1907.6 387.6,1904.6 388.6,1905.8 389.5,1903.5 390.6,1901.8 391.7,1903.7 392.8,1901.5 393.9,1902.9 395.0,1901.6 396.2,1900.3 397.4,1901.0 398.6,1900.3 400.0,1900.7 401.8,1899.3 403.0,1899.5 404.1,1903.0 405.2,1903.4 406.2,1899.7 407.3,1900.2 408.2,1903.0 409.2,1901.7 410.1,1903.9 411.3,1903.6 412.5,1900.9 413.7,1900.2 414.8,1900.5 415.8,1898.7 416.9,1898.4 417.9,1899.4 418.8,1899.8 419.7,1905.7 420.6,1904.8 421.5,1905.2 422.5,1903.7 423.4,1903.9 424.8,1907.7 426.1,1910.3 427.2,1908.2 428.2,1907.7 429.3,1905.3 430.2,1904.5 431.2,1905.0 432.1,1903.9 433.2,1904.5 434.3,1905.7 435.2,1906.0 436.2,1900.4 437.1,1900.2 438.2,1900.7 439.4,1900.7 440.4,1899.2 441.4,1899.9 442.5,1897.5 443.5,1897.5 444.6,1899.8 445.6,1898.9 446.7,1902.5 447.8,1903.1 448.8,1898.7 449.9,1898.4 451.0,1902.1 452.0,1902.0 453.1,1904.8 454.1,1906.6 455.1,1905.9 456.2,1909.1 457.2,1907.2 458.2,1910.3 459.3,1908.3 460.4,1904.8 461.5,1902.5 462.7,1901.1 463.6,1904.9 464.6,1903.1 465.5,1906.2 466.6,1905.3 467.8,1903.4 468.9,1903.5 470.1,1908.0 471.2,1907.4 472.3,1911.2 473.2,1916.3 474.1,1912.6 475.1,1919.8 476.0,1919.5 477.0,1916.7 478.1,1917.4 479.1,1913.4 480.1,1912.6 481.0,1915.8 482.0,1914.4 482.9,1917.2 483.9,1918.0 484.9,1914.9 485.9,1915.7 486.9,1912.7 487.9,1913.5 488.8,1918.7 489.8,1914.9 490.7,1922.4 491.6,1921.8 492.8,1918.9 493.9,1921.2 495.1,1917.6 496.2,1917.2 497.4,1917.2 498.6,1914.6 499.8,1914.4 500.9,1915.8 501.9,1916.2 503.0,1917.6 504.1,1916.4 505.3,1913.5 506.2,1912.3 507.1,1913.4 508.1,1910.4 509.0,1911.2 509.9,1911.5 510.8,1908.9 511.8,1911.3 512.7,1908.0 513.6,1908.9 515.4,1913.5 516.6,1913.4 517.8,1911.4 519.0,1911.2 520.1,1913.5 521.2,1912.8 522.3,1916.0 523.4,1914.5 524.5,1917.6 525.4,1921.1 526.4,1918.3 527.3,1923.1 528.2,1923.1 529.1,1922.8 530.0,1927.5 531.0,1926.3 531.9,1928.2 533.1,1928.1 534.3,1922.7 535.5,1923.1 536.4,1923.8 537.3,1920.8 538.3,1922.4 539.2,1920.4 540.1,1920.4 541.2,1921.4 542.2,1920.2 543.3,1921.7 544.4,1920.0 545.4,1921.7 546.5,1921.3 547.4,1921.1 548.3,1925.1 549.3,1922.4 550.2,1925.7 551.1,1925.9 552.5,1931.8 553.6,1931.9 554.6,1933.1 555.7,1933.2 556.9,1937.9 558.1,1952.0 559.3,1957.0 560.2,1951.3 561.2,1947.8 562.4,1955.2 563.6,1953.2 564.8,1961.1 565.7,1959.2 566.7,1950.6 567.6,1947.8 569.0,1955.1 570.3,1957.9 571.5,1962.3 572.6,1968.9 573.8,1963.7 574.9,1957.0 575.9,1955.4 576.9,1957.3 577.9,1955.3 578.9,1957.0 579.9,1954.8 580.9,1955.2 582.0,1958.0 583.0,1956.0 584.1,1958.8 585.5,1956.9 586.8,1953.3 587.9,1954.6 588.9,1959.5 590.0,1960.7 591.8,1963.9 592.7,1961.3 593.7,1962.0 594.6,1958.8 596.4,1962.0 598.2,1958.8 599.4,1959.8 600.5,1965.5 601.6,1965.0 602.8,1968.5 603.7,1972.7 604.6,1970.6 605.6,1975.1 606.5,1975.3 607.9,1969.8 609.2,1968.0 610.3,1968.4 611.3,1963.8 612.4,1963.4 613.5,1965.5 614.7,1965.2 615.6,1962.0 616.6,1963.0 617.5,1959.8 618.9,1959.6 620.2,1960.7 621.3,1959.9 622.4,1956.4 623.5,1957.5 624.6,1954.6 625.7,1953.8 626.6,1956.3 627.6,1955.4 628.5,1957.0 629.5,1957.3 630.5,1953.3 631.5,1955.4 632.5,1952.0 633.5,1952.0 634.4,1952.5 635.4,1951.5 636.3,1952.7 637.2,1952.0 638.2,1952.5 639.2,1955.6 640.3,1954.6 641.3,1956.5 642.7,1954.3 643.8,1956.3 644.8,1955.2 645.9,1957.9 647.0,1957.7 648.1,1951.4 649.3,1954.0 650.4,1949.2 651.3,1947.2 652.2,1949.0 653.2,1946.5 654.1,1948.0 655.0,1946.5 656.1,1946.3 657.1,1948.7 658.2,1948.3 659.4,1945.2 660.5,1944.2 661.4,1946.3 662.4,1945.3 663.3,1947.4 664.4,1948.3 665.5,1942.2 666.7,1944.9 667.8,1941.0 668.7,1940.0 669.6,1943.2 670.6,1942.0 671.5,1945.6 672.4,1944.6 673.4,1941.3 674.4,1943.0 675.5,1940.3 676.5,1941.2 677.5,1938.7 678.5,1939.4 679.5,1942.1 680.6,1941.9 681.6,1943.7 682.7,1944.3 683.8,1939.0 684.9,1942.2 686.0,1937.7 687.1,1937.3 688.2,1938.3 689.4,1937.0 690.5,1938.3 691.6,1938.2 692.5,1937.1 693.4,1938.9 694.4,1937.3 695.3,1938.5 696.2,1937.3 697.1,1936.5 698.0,1937.5 699.0,1935.6 699.9,1936.4 700.8,1937.2 701.7,1935.0 702.7,1935.8 703.6,1933.7 704.5,1934.1 705.9,1934.5 707.2,1934.1 709.0,1938.7 710.0,1938.9 711.1,1941.1 712.2,1939.8 713.2,1941.9 714.2,1941.5 715.2,1939.0 716.2,1940.5 717.2,1938.2 718.2,1937.8 719.1,1937.7 720.0,1934.7 721.0,1936.1 721.9,1934.1 723.1,1933.3 724.3,1934.3 725.5,1932.7 726.4,1931.5 727.3,1933.3 728.3,1931.6 729.2,1932.1 730.1,1931.4 731.0,1930.5 731.9,1931.6 732.9,1929.1 733.8,1929.6 734.7,1928.6 736.0,1927.9 737.4,1928.2 738.3,1930.0 739.3,1928.3 740.2,1930.0 741.6,1936.9 742.9,1932.3 743.8,1936.1 744.8,1936.5 745.7,1940.1 746.9,1940.8 748.1,1938.7 749.3,1939.1 750.2,1941.7 751.2,1941.9 752.4,1939.4 753.6,1938.8 754.8,1936.4 755.7,1935.7 756.6,1941.6 757.6,1940.8 758.5,1946.4 759.4,1945.1 760.3,1942.1 761.2,1944.3 762.2,1940.4 763.1,1939.6 764.1,1940.7 765.2,1938.1 766.2,1939.7 767.3,1936.5 768.3,1937.9 769.4,1935.4 770.4,1936.0 771.3,1938.4 772.3,1937.2 773.2,1938.7 774.4,1940.3 775.6,1939.8 776.8,1941.9 778.6,1938.7 780.0,1938.4 780.9,1938.3 781.9,1936.3 782.8,1936.6 783.7,1935.2 784.7,1934.9 785.7,1935.4 786.7,1934.5 787.7,1935.3 788.7,1934.8 789.8,1932.3 790.8,1933.3 791.9,1931.5 793.0,1930.5 794.1,1931.4 795.2,1930.2 796.3,1930.7 797.4,1930.2 799.2,1927.0 800.1,1927.2 801.0,1929.2 802.0,1928.3 802.9,1930.6 803.9,1931.1 805.0,1930.1 806.0,1930.8 807.0,1930.2 808.1,1926.6 809.3,1926.5 810.2,1926.4 811.1,1924.5 812.1,1925.9 813.0,1924.7 814.1,1923.5 815.2,1925.1 816.3,1922.9 817.4,1924.0 818.5,1922.8 819.7,1921.2 820.9,1922.9 822.1,1921.0 823.0,1920.7 824.0,1922.4 824.9,1920.9 825.8,1921.9 826.9,1922.5 828.0,1918.7 829.1,1920.0 830.2,1917.4 831.3,1916.9 832.5,1917.9 833.7,1917.8 834.9,1918.7 835.8,1919.3 836.8,1918.1 837.7,1918.3 839.0,1921.5 840.4,1923.3 841.5,1921.5 842.6,1923.1 843.7,1917.6 844.8,1920.4 845.9,1917.4 846.9,1917.2 847.9,1918.6 849.0,1917.9 850.0,1919.6 851.0,1919.2 852.0,1917.4 853.0,1918.1 854.1,1914.9 855.1,1914.6 856.0,1916.3 857.0,1914.2 857.9,1916.8 858.8,1916.4 860.0,1916.5 861.2,1919.0 862.4,1918.3 863.5,1916.8 864.7,1916.4 865.8,1919.4 866.8,1919.6 867.9,1921.9 868.8,1922.9 869.8,1921.9 870.7,1923.7 871.6,1923.3 873.4,1920.1 874.5,1918.0 875.5,1918.5 876.6,1916.0 877.8,1917.3 878.9,1919.2 880.2,1918.5 881.6,1916.4 882.7,1918.1 883.8,1922.8 884.9,1923.8 886.7,1936.6 888.5,1929.7 890.3,1936.1 891.2,1933.3 892.1,1932.7 893.1,1928.6 894.0,1927.9 894.9,1930.2 895.9,1929.6 896.8,1932.5 897.9,1931.8 899.0,1928.8 900.0,1930.1 900.9,1935.7 902.0,1937.7 903.0,1936.3 904.1,1938.4 905.5,1936.9 906.8,1929.3 907.8,1926.4 908.8,1927.7 909.9,1922.0 910.9,1924.3 911.9,1921.9 913.7,1925.6 914.6,1924.3 915.5,1925.8 916.5,1924.3 917.4,1924.2 918.5,1929.7 919.5,1926.9 920.6,1932.5 921.6,1932.6 922.7,1925.6 923.7,1928.7 924.7,1923.8 925.6,1924.4 926.5,1927.7 927.5,1926.2 928.4,1928.8 929.5,1929.8 930.6,1924.1 931.6,1927.2 932.7,1922.0 933.8,1922.4 934.7,1923.6 935.7,1919.8 936.6,1922.1 937.5,1919.3 938.4,1919.9 939.4,1918.3 940.3,1918.3 941.4,1918.5 942.5,1917.0 943.7,1918.0 944.8,1916.4 945.9,1914.9 946.9,1916.6 948.0,1914.0 949.1,1915.8 950.1,1913.2 951.2,1913.7 952.4,1915.1 953.5,1916.0 954.6,1911.9 955.8,1911.4 956.9,1912.1 958.0,1910.4 959.1,1911.5 960.2,1909.9 961.3,1910.5 962.2,1912.4 963.2,1911.7 964.1,1914.6 965.1,1914.8 966.1,1913.2 967.0,1913.8 968.0,1911.3 969.0,1912.7 970.0,1911.6 971.4,1911.6 972.7,1913.9 973.6,1918.0 974.5,1915.6 975.5,1920.0 976.4,1920.3 977.5,1918.5 978.5,1919.7 979.6,1917.6 981.4,1922.2 982.5,1918.5 983.7,1918.0 984.8,1918.2 985.8,1915.1 986.9,1915.3 987.8,1917.9 988.8,1919.4 990.0,1916.2 991.1,1914.4 992.5,1916.4 993.8,1917.1 994.7,1915.0 995.7,1916.0 996.6,1914.4 997.9,1916.7 999.0,1913.6 1000.2,1913.0 1001.2,1912.6 1002.2,1911.1 1003.3,1911.5 1004.3,1908.7 1005.3,1909.3 1006.3,1910.7 1007.3,1909.1 1008.3,1911.0 1009.3,1910.0 1010.3,1911.2 1011.3,1911.1 1012.3,1906.8 1013.4,1907.4 1014.4,1905.2 1015.5,1904.7 1016.5,1907.9 1017.6,1908.4 1018.7,1906.2 1019.7,1908.2 1020.8,1906.1 1022.0,1906.9 1023.1,1908.4 1024.9,1906.1 1026.1,1909.6 1027.2,1910.7 1028.1,1909.3 1029.1,1911.2 1030.0,1909.0 1030.9,1909.3 1032.2,1913.3 1033.6,1915.3 1034.7,1912.8 1035.7,1914.0 1036.8,1910.2 1037.7,1909.5 1038.6,1910.5 1039.6,1909.1 1040.5,1909.9 1041.4,1908.9 1042.5,1906.7 1043.5,1907.8 1044.6,1906.6 1045.5,1906.4 1046.5,1911.3 1047.4,1911.6 1048.6,1906.7 1049.7,1906.1 1050.9,1906.6 1052.1,1904.8 1053.3,1904.8 1054.2,1905.6 1055.2,1902.8 1056.1,1903.4 1057.0,1902.5 1058.1,1901.8 1059.1,1902.6 1060.2,1900.5 1061.3,1901.6 1062.3,1900.1 1063.4,1900.2 1064.3,1902.1 1065.3,1901.6 1066.2,1903.4 1067.3,1904.1 1068.5,1899.7 1069.6,1900.7 1070.7,1897.0 1071.6,1896.3 1072.6,1898.0 1073.5,1896.9 1074.4,1898.3 1075.3,1898.9 1076.2,1896.2 1077.2,1897.5 1078.1,1896.5 1079.2,1894.6 1080.3,1894.2 1081.2,1897.6 1082.2,1898.8 1083.3,1895.5 1084.3,1897.4 1085.4,1894.7 1086.6,1892.6 1087.8,1893.2 1089.0,1891.0 1090.1,1889.0 1091.1,1889.0 1092.2,1887.4 1093.3,1887.6 1094.4,1889.7 1095.5,1889.2 1096.6,1889.9 1097.7,1891.9 1098.8,1892.7 1099.8,1889.9 1100.9,1890.5 1101.9,1889.2 1103.7,1896.1 1104.6,1893.8 1105.6,1894.7 1106.5,1892.0 1107.4,1891.9 1108.8,1891.6 1110.1,1887.4 1111.0,1885.6 1112.0,1887.3 1112.9,1885.5 1114.1,1884.2 1115.3,1885.7 1116.5,1884.2 1117.4,1883.4 1118.3,1887.5 1119.3,1885.8 1120.2,1888.3 1121.3,1889.2 1122.5,1888.3 1123.7,1890.8 1124.8,1890.6 1125.9,1886.9 1126.9,1890.1 1128.0,1885.4 1129.1,1886.1 1130.1,1881.3 1131.2,1882.8 1132.4,1884.4 1133.6,1884.0 1134.8,1886.0 1135.7,1887.6 1136.7,1887.1 1137.6,1888.7 1138.8,1888.5 1140.0,1880.6 1141.2,1880.9 1142.3,1881.1 1143.4,1879.2 1144.5,1880.4 1145.6,1878.6 1146.7,1879.1 1147.6,1879.2 1148.6,1876.9 1149.5,1877.3 1150.4,1875.9 1151.5,1875.2 1152.6,1876.4 1153.7,1874.3 1154.8,1875.2 1155.9,1874.5 1157.2,1874.4 1158.6,1877.3 1160.0,1874.4 1160.9,1875.3 1161.8,1872.4 1162.8,1873.1 1163.7,1872.1 1164.9,1872.1 1166.1,1873.4 1167.3,1873.5 1168.2,1872.7 1169.2,1873.3 1170.1,1872.3 1171.0,1872.5 1172.8,1877.1 1173.8,1879.7 1174.7,1880.8 1175.9,1876.0 1177.1,1878.1 1178.3,1872.5 1179.2,1871.1 1180.1,1872.5 1181.1,1870.7 1182.0,1871.9 1182.9,1870.7 1184.1,1868.8 1185.2,1868.4 1186.3,1870.2 1187.5,1870.7 1189.3,1869.3 1190.4,1870.1 1191.6,1871.6 1193.0,1868.9 1194.1,1871.7 1195.1,1870.3 1196.2,1874.4 1197.3,1873.4 1198.3,1869.7 1199.4,1869.3 1200.6,1869.8 1201.7,1867.6 1202.8,1868.8 1204.0,1868.0 1205.2,1867.9 1206.4,1869.3 1207.6,1869.3 1208.7,1866.7 1209.8,1868.2 1210.9,1863.0 1212.0,1866.5 1213.1,1862.9 1214.0,1862.2 1214.9,1863.1 1215.9,1862.7 1216.8,1862.9 1217.9,1863.6 1219.0,1860.4 1220.1,1862.2 1221.2,1859.7 1222.3,1860.2 1223.4,1860.3 1224.4,1859.6 1225.5,1860.8 1226.6,1859.1 1227.6,1860.6 1228.7,1859.7 1229.8,1858.8 1231.0,1863.9 1232.2,1863.8 1233.3,1866.1 1234.4,1865.2 1235.5,1860.7 1236.7,1862.7 1237.8,1858.8 1238.7,1857.3 1239.7,1859.0 1240.6,1856.9 1241.5,1857.4 1242.7,1858.0 1243.8,1856.9 1244.9,1857.9 1246.1,1857.4 1247.2,1858.4 1248.4,1860.2 1249.4,1861.7 1250.5,1860.6 1251.5,1862.8 1252.5,1862.0 1253.8,1863.9 1255.2,1870.2 1256.3,1869.1 1257.4,1863.9 1258.5,1863.7 1259.6,1857.2 1260.7,1857.0 1261.8,1857.5 1263.0,1854.6 1264.2,1854.7 1265.3,1853.3 1266.2,1852.1 1267.1,1853.4 1268.1,1851.6 1269.0,1852.4 1269.9,1851.5 1271.7,1851.9 1272.6,1852.4 1273.6,1857.4 1274.5,1859.3 1275.8,1852.8 1276.9,1851.4 1277.9,1852.1 1279.0,1850.6 1280.2,1851.6 1281.3,1858.3 1282.2,1857.5 1283.2,1853.8 1284.5,1858.8 1285.7,1853.6 1286.8,1852.8 1287.9,1856.9 1289.1,1858.3 1290.0,1855.8 1291.0,1855.8 1291.9,1853.3 1293.2,1849.4 1294.6,1849.2 1295.5,1849.8 1296.4,1848.1 1297.4,1848.6 1298.3,1847.4 1299.2,1847.8 1300.6,1852.3 1301.9,1853.3 1302.8,1850.9 1303.8,1851.4 1304.7,1849.2 1306.1,1849.7 1307.4,1852.8 1308.6,1853.6 1309.7,1850.6 1310.8,1850.8 1312.0,1849.6 1313.1,1848.9 1314.2,1849.8 1315.3,1848.3 1316.4,1849.3 1317.5,1848.7 1318.6,1847.3 1319.6,1849.1 1320.7,1847.0 1321.8,1848.0 1322.8,1845.9 1323.9,1846.9 1325.0,1848.3 1326.1,1846.7 1327.2,1849.5 1328.3,1848.8 1329.4,1850.1 1330.3,1850.7 1331.2,1848.1 1332.2,1849.6 1333.1,1847.4 1334.0,1847.1 1334.9,1850.6 1335.9,1850.0 1336.8,1853.4 1337.7,1853.3 1338.7,1850.1 1339.7,1853.2 1340.7,1848.6 1341.7,1849.5 1342.7,1846.9 1343.8,1848.4 1345.0,1851.5 1346.2,1852.1 1347.4,1849.5 1348.6,1849.2 1350.0,1849.5 1351.2,1849.7 1352.3,1849.5 1353.4,1858.7 1354.6,1869.6 1356.0,1859.6 1357.3,1865.0 1358.2,1864.1 1359.2,1861.4 1360.3,1858.5 1361.4,1858.6 1362.5,1864.3 1363.5,1860.9 1364.5,1869.7 1365.6,1868.7 1366.9,1860.3 1368.3,1858.6 1369.3,1858.5 1370.3,1855.1 1371.4,1857.2 1372.4,1851.4 1373.4,1852.2 1374.6,1851.4 1375.8,1848.5 1377.0,1848.6 1378.1,1852.2 1379.1,1851.8 1380.2,1855.4 1382.0,1850.4 1382.9,1850.7 1383.8,1849.6 1384.8,1849.9 1385.7,1849.5 1386.6,1850.5 1387.6,1855.0 1388.5,1855.9 1389.8,1855.5 1391.2,1857.7 1392.3,1856.5 1393.3,1851.4 1394.4,1851.8 1395.5,1857.2 1396.5,1858.3 1397.6,1864.1 1398.5,1867.9 1399.4,1865.1 1400.4,1870.3 1401.3,1870.5 1402.5,1867.7 1403.7,1867.7 1404.9,1864.1 1405.8,1864.7 1406.8,1871.9 1407.7,1869.8 1408.6,1873.3 1409.5,1872.7 1410.4,1865.6 1411.4,1867.2 1412.3,1864.1 1413.5,1860.6 1414.7,1862.0 1415.9,1857.7 1417.0,1855.5 1418.1,1856.7 1419.2,1855.1 1420.3,1855.3 1421.4,1854.1 1422.5,1853.4 1423.6,1854.4 1424.7,1853.5 1425.8,1854.8 1426.9,1854.1 1427.8,1852.0 1428.8,1852.7 1429.7,1848.6 1430.6,1849.5 1431.5,1851.1 1432.4,1849.9 1433.4,1852.3 1434.3,1851.0 1435.2,1852.2 1436.3,1853.4 1437.5,1853.1 1438.6,1855.1 1439.7,1854.5 1440.8,1849.6 1442.0,1849.0 1443.0,1849.5 1444.1,1846.9 1445.2,1847.9 1446.2,1847.2 1447.3,1847.8 1448.3,1851.1 1449.4,1851.3 1450.5,1852.1 1451.6,1858.2 1452.5,1858.4 1453.5,1850.8 1454.4,1849.5 1455.3,1848.9 1456.2,1844.9 1457.2,1846.2 1458.1,1843.1 1459.2,1841.9 1460.3,1843.1 1461.4,1841.7 1462.5,1843.2 1463.6,1842.2 1464.7,1841.0 1465.8,1842.6 1467.0,1840.7 1468.1,1841.2 1469.2,1841.6 1470.2,1840.8 1471.3,1841.6 1472.4,1840.5 1473.4,1841.4 1474.5,1841.2 1475.5,1843.0 1476.4,1846.3 1477.6,1846.6 1478.8,1843.8 1480.0,1843.5 1481.1,1844.1 1482.2,1843.8 1483.3,1845.1 1484.4,1844.1 1485.5,1844.9 1486.4,1845.7 1487.3,1844.2 1488.3,1845.7 1489.2,1844.9 1490.1,1845.3 1491.1,1848.3 1492.0,1848.4 1492.9,1850.4 1494.2,1848.8 1495.6,1844.0 1496.5,1841.5 1497.4,1843.3 1498.4,1840.4 1499.3,1841.4 1500.2,1839.4 1502.0,1840.3 1502.9,1836.9 1503.8,1839.0 1504.8,1833.4 1505.7,1833.9 1506.8,1835.9 1507.9,1833.9 1509.0,1836.1 1510.1,1834.8 1511.2,1836.7 1512.4,1836.6 1513.6,1834.2 1514.8,1834.4 1515.7,1834.7 1516.6,1832.6 1517.6,1833.7 1518.5,1832.3 1519.4,1832.5 1520.3,1832.8 1521.2,1832.0 1522.2,1833.0 1523.1,1832.1 1524.3,1828.2 1525.5,1829.0 1526.7,1825.7 1527.6,1824.4 1528.6,1826.0 1529.5,1823.1 1530.4,1823.4 1531.3,1824.2 1532.2,1823.1 1533.2,1825.3 1534.1,1824.8 1535.4,1824.7 1536.8,1828.0 1537.9,1827.9 1538.9,1826.4 1540.0,1826.6 1541.0,1828.2 1542.0,1826.4 1543.1,1829.2 1544.1,1828.4 1545.2,1826.6 1546.2,1826.5 1547.3,1824.3 1548.2,1823.6 1549.1,1824.0 1550.1,1821.9 1551.0,1823.7 1551.9,1822.5 1552.8,1822.0 1553.8,1825.5 1554.7,1825.7 1555.7,1821.9 1556.7,1824.5 1557.7,1820.4 1558.7,1822.4 1559.7,1818.8 1560.7,1818.0 1561.7,1819.0 1562.7,1818.3 1563.7,1819.4 1564.7,1818.8 1565.8,1818.8 1566.9,1820.7 1568.0,1819.9 1569.1,1821.5 1570.2,1821.5 1571.1,1819.4 1572.1,1820.5 1573.0,1816.2 1573.9,1816.5 1575.0,1816.7 1576.0,1816.0 1577.1,1816.5 1578.2,1815.1 1579.2,1816.1 1580.3,1815.6 1581.2,1815.7 1582.2,1818.4 1583.1,1817.0 1584.0,1819.7 1585.2,1819.8 1586.4,1817.5 1587.6,1817.0 1588.5,1816.8 1589.4,1814.8 1590.4,1816.2 1591.3,1813.2 1592.2,1813.8 1593.1,1814.1 1594.1,1813.7 1595.0,1814.8 1595.9,1814.2 1597.1,1811.6 1598.3,1812.0 1599.5,1809.6 1600.6,1808.7 1601.7,1810.1 1602.8,1807.9 1603.9,1809.0 1605.0,1807.8 1606.2,1806.5 1607.3,1807.4 1608.4,1804.8 1609.6,1805.5 1610.9,1807.8 1612.3,1807.4 1613.2,1804.7 1614.1,1805.6 1615.1,1801.1 1616.0,1802.9 1616.9,1800.5 1618.0,1799.6 1619.1,1800.8 1620.2,1798.0 1621.3,1799.6 1622.4,1797.7 1623.4,1797.3 1624.5,1798.8 1625.5,1797.5 1626.5,1798.2 1627.7,1796.0 1628.8,1792.2 1629.9,1789.7 1630.9,1790.9 1632.0,1784.5 1633.1,1788.4 1634.1,1782.5 1635.2,1781.7 1636.2,1784.8 1637.1,1785.4 1638.9,1806.4 1640.2,1798.3 1641.6,1793.6 1642.5,1793.3 1643.5,1789.6 1644.4,1788.6 1645.8,1797.7 1647.2,1794.4 1648.5,1788.1 1649.4,1788.2 1650.3,1794.8 1651.3,1793.1 1652.2,1795.9 1653.1,1806.4 1654.4,1806.9 1655.8,1806.4 1657.2,1800.9 1658.1,1797.8 1659.1,1800.5 1660.0,1796.4 1660.9,1795.9 1662.7,1800.9 1663.6,1801.7 1664.6,1800.7 1665.5,1802.3 1666.6,1802.6 1667.6,1794.6 1668.7,1793.6 1669.8,1793.7 1670.8,1792.5 1671.9,1793.2 1673.7,1795.9 1674.8,1795.5 1676.0,1789.2 1677.2,1792.1 1678.3,1788.1 1679.2,1787.1 1680.1,1792.2 1681.1,1790.3 1682.0,1795.5 1682.9,1795.9 1684.1,1791.7 1685.3,1793.3 1686.5,1788.1 1687.7,1786.3 1688.8,1787.5 1689.9,1785.8 1691.1,1785.8 1692.0,1786.0 1692.9,1783.8 1693.9,1784.8 1694.8,1783.5 1696.0,1783.7 1697.2,1785.3 1698.4,1785.4 1699.6,1780.7 1700.7,1784.0 1701.8,1778.1 1703.0,1776.7 1704.1,1778.9 1705.1,1777.5 1706.2,1779.9 1707.2,1779.2 1708.2,1775.8 1709.3,1777.1 1710.3,1775.3 1711.2,1774.9 1712.2,1777.0 1713.1,1775.7 1714.0,1777.1 1715.2,1779.8 1716.3,1780.8 1716.7,1793.2 1718.1,1786.3 1719.1,1788.1 1720.2,1795.9 1721.2,1795.4 1722.2,1800.9 1723.3,1798.6 1724.3,1789.2 1725.4,1786.3 1726.6,1792.0 1727.7,1793.0 1728.8,1799.9 1730.0,1801.2 1731.8,1792.1 1732.8,1788.6 1733.7,1787.5 1735.0,1801.2 1736.4,1800.3 1737.3,1808.3 1738.2,1810.8 1739.2,1823.1 1740.1,1826.9 1741.9,1815.0 1743.7,1818.6 1744.8,1810.5 1746.0,1806.3 1747.2,1803.8 1748.3,1799.4 1749.4,1799.2 1750.4,1801.0 1751.5,1801.2 1752.5,1796.5 1753.4,1793.5 1754.5,1795.1 1755.6,1795.3 1756.5,1791.6 1757.5,1789.3 1758.7,1789.3 1759.9,1786.6 1761.1,1786.6 1762.2,1789.6 1763.4,1791.6 1764.4,1787.1 1765.5,1788.1 1766.5,1782.5 1767.5,1782.9 1768.5,1786.9 1769.4,1787.5 1770.6,1782.9 1771.8,1782.8 1773.0,1779.3 1774.2,1777.9 1775.3,1778.9 1776.4,1776.2 1777.6,1777.0 1778.7,1776.6 1779.7,1773.7 1780.8,1774.2 1781.7,1780.6 1782.7,1777.2 1783.6,1785.8 1784.5,1785.7 1785.7,1782.9 1786.8,1781.5 1787.8,1787.5 1788.8,1784.5 1789.9,1792.5 1790.9,1791.6 1792.7,1779.3 1793.7,1775.7 1794.8,1777.3 1795.8,1773.2 1796.8,1773.8 1798.2,1777.4 1799.1,1777.7 1800.1,1771.8 1801.0,1770.1 1802.1,1770.1 1803.1,1767.9 1804.2,1768.3 1806.0,1771.0 1807.2,1769.8 1808.3,1767.4 1809.4,1772.2 1810.6,1783.4 1811.8,1780.8 1812.9,1775.6 1814.7,1783.4 1816.5,1776.1 1817.7,1775.8 1818.8,1777.4 1819.9,1775.0 1821.1,1771.0 1822.2,1768.7 1823.4,1768.3 1824.3,1770.1 1825.3,1769.0 1826.2,1770.1 1827.3,1772.3 1828.3,1771.7 1829.4,1774.2 1830.7,1779.3 1831.7,1776.9 1832.6,1771.9 1833.8,1770.6 1835.0,1770.6 1836.2,1769.2 1837.3,1766.4 1838.5,1768.2 1839.7,1761.6 1840.8,1761.9 1841.9,1763.2 1842.9,1759.1 1844.0,1761.0 1845.1,1757.2 1846.1,1758.4 1847.2,1755.9 1848.3,1756.6 1849.5,1760.0 1850.5,1759.4 1851.5,1752.4 1852.6,1755.3 1853.6,1750.9 1854.7,1749.3 1855.8,1751.2 1856.9,1748.8 1858.0,1750.2 1859.1,1748.1 1860.0,1744.6 1860.9,1746.6 1861.9,1741.3 1862.8,1743.4 1863.7,1740.8 1864.6,1739.8 1865.6,1746.7 1866.5,1745.2 1867.4,1748.6 1868.8,1746.6 1870.1,1739.0 1871.0,1737.1 1871.9,1737.8 1872.9,1734.8 1873.8,1735.3 1874.7,1736.2 1876.5,1771.9 1877.9,1758.2 1879.1,1775.5 1880.2,1791.2 1882.0,1814.1 1882.9,1818.7 1883.9,1830.8 1884.8,1837.0 1885.7,1804.0 1887.5,1816.8 1888.7,1800.1 1889.8,1788.4 1890.9,1787.8 1892.1,1782.0 1893.9,1792.1 1895.1,1781.5 1896.2,1775.6 1897.3,1780.1 1898.5,1781.1 1900.3,1784.8 1901.2,1777.2 1902.2,1772.8 1903.4,1771.2 1904.6,1767.9 1905.8,1766.4 1906.7,1761.7 1907.7,1752.4 1908.6,1749.0 1909.9,1768.3 1911.1,1765.2 1912.2,1758.2 1913.3,1761.1 1914.5,1768.3 1915.6,1767.2 1916.6,1758.7 1917.7,1755.5 1918.7,1754.8 1919.7,1748.9 1920.7,1750.1 1921.7,1746.6 1922.7,1745.2 1923.8,1744.8 1925.0,1741.0 1926.2,1741.4 1927.3,1738.3 1928.2,1736.6 1929.1,1737.9 1930.1,1734.1 1931.0,1735.4 1931.9,1733.7 1932.8,1728.1 1933.8,1729.3 1934.7,1724.1 1936.0,1717.7 1937.4,1738.8 1938.6,1735.6 1939.7,1733.7 1941.1,1742.8 1942.4,1745.2 1943.5,1741.6 1944.5,1741.7 1945.5,1737.4 1946.6,1736.0 1948.4,1722.3 1949.3,1726.5 1950.2,1723.6 1951.2,1731.0 1952.1,1730.5 1953.9,1745.2 1955.2,1732.4 1956.6,1723.2 1957.7,1721.5 1958.7,1716.4 1959.8,1714.1 1960.8,1718.5 1961.7,1719.6 1962.7,1714.1 1963.8,1714.8 1964.8,1707.4 1965.8,1706.7 1967.2,1710.2 1968.5,1711.3 1969.6,1706.7 1970.6,1709.1 1971.7,1704.9 1972.8,1705.0 1973.8,1707.3 1974.9,1706.7 1975.8,1701.4 1976.8,1697.6 1978.2,1699.9 1979.5,1700.3 1980.5,1696.3 1981.4,1694.8 1983.2,1705.8 1984.4,1700.8 1985.6,1692.1 1986.8,1686.6 1987.7,1687.8 1988.7,1687.0 1989.6,1687.5 1990.9,1694.3 1992.3,1696.7 1993.2,1696.8 1994.2,1700.3 1995.4,1695.6 1996.6,1687.4 1997.8,1682.9 1998.9,1688.5 2000.1,1690.2 2001.2,1685.4 2002.4,1683.8 2004.2,1674.7 2005.1,1674.9 2006.1,1667.9 2007.0,1669.5 2007.9,1666.4 2008.8,1665.0 2009.8,1665.7 2010.7,1664.0 2011.6,1663.7 2012.9,1663.7 2014.3,1660.9 2015.7,1674.7 2017.1,1668.0 2018.4,1666.4 2019.5,1666.6 2020.5,1663.6 2021.6,1662.8 2022.5,1663.7 2023.4,1659.0 2024.4,1661.0 2025.3,1657.0 2026.2,1657.7 2027.6,1666.4 2028.7,1665.0 2029.7,1658.4 2030.8,1656.4 2031.7,1655.6 2032.6,1651.7 2033.6,1651.9 2034.5,1647.9 2035.4,1647.7 2037.2,1657.3 2039.0,1644.0 2039.9,1645.3 2040.8,1643.8 2041.8,1646.1 2042.7,1645.4 2043.7,1641.6 2044.8,1643.1 2045.8,1638.5 2046.8,1638.5 2047.3,1644.5 2048.2,1644.0 2049.1,1636.8 2050.1,1639.5 2051.0,1633.5 2051.9,1632.6 2053.2,1636.3 2054.6,1637.1 2055.5,1636.2 2056.4,1640.2 2057.4,1638.7 2058.3,1641.7 2059.7,1648.6 2061.0,1654.1 2062.1,1651.5 2063.1,1651.6 2064.2,1649.0 2065.3,1638.9 2066.5,1634.4 2067.4,1634.9 2068.4,1629.7 2069.3,1629.8 2070.7,1625.9 2072.0,1618.8 2072.9,1617.8 2073.9,1619.0 2074.8,1618.4 2075.8,1618.2 2076.9,1619.5 2077.9,1618.8 2078.9,1624.1 2079.8,1634.4 2080.9,1631.4 2081.9,1620.5 2083.0,1617.4 2083.9,1625.1 2084.9,1624.0 2085.8,1630.3 2086.9,1626.9 2087.9,1614.8 2089.0,1611.0 2090.2,1612.1 2091.3,1611.5 2093.1,1619.7 2094.2,1625.8 2095.4,1638.5 2096.5,1641.5 2097.7,1651.8 2098.8,1645.9 2099.8,1635.6 2100.9,1629.4 2102.2,1636.2 2103.1,1643.4 2104.0,1644.8 2105.0,1653.7 2105.9,1654.1 2106.8,1660.0 2108.6,1646.3 2110.0,1663.1 2110.9,1659.6 2111.9,1654.6 2112.9,1646.5 2113.8,1640.4 2114.8,1639.9 2115.7,1631.2 2116.7,1630.2 2117.6,1625.3 2119.4,1631.0 2120.4,1634.3 2121.3,1640.0 2122.3,1643.3 2123.2,1640.6 2124.2,1640.4 2125.6,1655.5 2126.8,1664.1 2127.9,1667.8 2128.9,1654.6 2130.1,1667.5 2131.2,1685.8 2132.7,1673.5 2134.1,1688.6 2135.2,1683.5 2136.3,1672.0 2137.4,1665.0 2138.4,1668.2 2139.3,1668.8 2140.4,1684.3 2141.5,1703.3 2142.7,1710.4 2144.1,1702.7 2145.2,1689.2 2146.7,1699.8 2147.9,1696.6 2149.2,1689.8 2150.2,1697.6 2151.3,1699.5 2152.4,1694.0 2153.9,1682.0 2155.1,1672.9 2156.3,1669.7 2157.2,1670.3 2158.2,1668.1 2159.1,1667.8 2160.3,1663.8 2161.5,1653.6 2162.6,1653.8 2163.7,1663.9 2164.8,1664.0 2165.8,1673.9 2166.7,1685.8 2167.8,1682.0 2168.9,1674.7 2170.0,1670.6 2171.7,1689.2 2172.3,1692.4 2173.9,1708.4 2175.4,1706.5 2176.2,1717.7 2177.4,1699.5 2178.6,1709.6 2179.7,1718.1 2181.3,1705.9 2182.2,1710.4 2183.2,1700.5 2184.1,1699.6 2185.1,1689.8 2186.7,1705.2 2187.7,1697.8 2188.7,1695.3 2189.3,1702.7 2190.2,1699.6 2191.2,1688.0 2192.2,1685.8 2193.1,1678.2 2194.3,1675.3 2195.5,1673.5 2196.6,1678.2 2197.7,1678.2 2198.8,1684.8 2199.9,1692.2 2201.1,1697.1 2202.2,1697.3 2203.3,1699.8 2204.4,1699.9 2205.6,1697.6 2206.8,1696.1 2207.7,1692.8 2208.7,1685.2 2209.6,1682.0 2210.6,1688.0 2211.5,1689.5 2212.7,1681.2 2213.9,1676.3 2214.9,1672.5 2215.8,1665.5 2216.7,1664.7 2217.7,1667.5 2218.6,1666.0 2219.5,1667.8 2220.7,1676.4 2221.9,1680.1 2223.0,1678.4 2224.1,1678.6 2225.2,1676.3 2226.4,1682.4 2227.6,1692.4 2228.7,1691.8 2229.8,1683.8 2230.9,1682.0 2232.0,1680.9 2233.1,1672.2 2234.2,1670.6 2235.1,1670.6 2236.1,1668.5 2237.1,1669.6 2238.0,1668.8 2238.9,1668.2 2239.8,1672.4 2240.8,1672.5 2241.7,1674.4 2243.1,1666.9 2244.1,1667.8 2245.0,1666.6 2246.0,1669.3 2246.9,1668.1 2247.9,1668.8 2248.8,1668.3 2249.8,1663.6 2250.7,1663.1 2251.8,1663.0 2252.9,1657.0 2254.0,1655.5 2254.9,1654.3 2255.9,1647.2 2256.9,1648.6 2257.8,1642.3 2258.9,1643.8 2260.0,1651.0 2261.1,1650.8 2262.1,1643.7 2263.0,1639.5 2264.2,1642.6 2265.3,1644.2 2266.5,1636.3 2267.7,1633.8 2268.6,1634.1 2269.6,1631.3 2270.5,1632.5 2271.5,1629.5 2272.4,1629.1 2273.8,1635.7 2274.9,1638.5 2276.0,1636.8 2277.1,1639.5 2278.1,1645.7 2279.0,1647.0 2280.0,1640.5 2280.9,1640.6 2281.9,1634.8 2282.8,1634.6 2283.8,1636.4 2284.7,1635.0 2285.6,1636.7 2286.6,1641.4 2287.5,1641.1 2288.4,1648.8 2289.4,1651.8 2290.5,1653.2 2291.6,1658.0 2292.7,1659.3 2293.6,1652.3 2294.6,1653.9 2295.5,1648.0 2296.5,1650.6 2297.4,1659.9 2298.4,1659.7 2299.3,1667.4 2300.3,1669.7 2301.1,1653.9 2302.1,1649.1 2303.2,1647.5 2304.8,1644.3 2306.4,1634.7 2307.4,1634.3 2308.5,1631.0 2309.6,1628.9 2310.6,1630.4 2311.7,1628.4 2313.3,1630.5 2314.6,1620.9 2315.9,1614.6 2317.0,1614.4 2318.0,1612.3 2319.1,1611.9 2320.2,1616.9 2321.2,1614.7 2322.3,1619.3 2323.4,1617.9 2324.4,1611.9 2326.0,1615.1 2326.9,1610.3 2327.8,1609.8 2328.8,1601.4 2329.7,1600.7 2330.8,1606.0 2332.2,1600.4 2333.5,1590.1 2334.4,1590.4 2335.3,1592.7 2336.3,1591.0 2337.2,1593.3 2338.2,1589.9 2339.3,1583.7 2340.7,1580.9 2342.0,1579.5 2343.3,1581.2 2344.6,1581.6 2345.7,1576.2 2346.8,1579.1 2347.8,1572.1 2348.9,1570.5 2350.0,1574.1 2351.0,1574.6 2352.1,1578.4 2353.1,1585.5 2354.2,1587.2 2355.2,1594.9 2356.1,1593.1 2357.1,1587.4 2358.1,1587.4 2359.0,1583.2 2359.5,1590.6 2360.6,1580.7 2361.6,1580.3 2362.6,1570.1 2363.7,1564.6 2364.8,1568.1 2365.8,1566.6 2366.9,1569.7 2368.0,1569.9 2369.1,1562.2 2370.1,1564.3 2371.2,1554.4 2372.2,1554.9 2373.3,1548.7 2374.4,1548.7 2375.4,1550.7 2376.5,1549.9 2377.6,1550.8 2378.6,1549.2 2379.5,1543.3 2380.5,1543.1 2381.5,1537.6 2382.4,1539.5 2383.4,1533.8 2385.0,1545.5 2386.6,1556.1 2387.6,1550.2 2388.7,1548.7 2390.3,1575.2 2391.4,1566.0 2392.4,1550.1 2393.5,1541.2 2394.4,1541.1 2395.3,1537.2 2396.3,1538.2 2397.2,1534.9 2398.6,1542.9 2399.9,1554.5 2400.8,1551.3 2401.8,1539.3 2402.7,1538.5 2403.6,1530.6 2404.6,1528.8 2405.5,1530.7 2406.5,1527.8 2407.4,1528.7 2408.4,1527.4 2409.4,1530.1 2410.3,1523.8 2411.2,1526.1 2412.2,1516.4 2413.1,1515.7 2414.1,1517.8 2415.0,1515.8 2415.9,1519.4 2416.9,1518.9 2417.9,1528.5 2419.2,1513.5 2420.6,1503.5 2421.6,1510.8 2422.7,1514.2 2423.7,1509.4 2424.7,1510.3 2425.6,1503.6 2426.6,1503.3 2427.6,1495.3 2428.6,1495.0 2429.6,1496.5 2430.7,1495.2 2431.7,1496.6 2432.8,1513.6 2433.9,1508.7 2434.9,1500.9 2436.2,1505.9 2437.6,1514.7 2438.9,1517.6 2440.2,1518.4 2441.1,1509.7 2442.1,1507.7 2443.1,1497.1 2444.0,1493.4 2444.9,1499.1 2445.8,1497.0 2446.8,1503.1 2447.7,1503.0 2448.8,1497.3 2449.8,1496.1 2451.0,1494.4 2452.2,1490.1 2453.9,1503.6 2455.6,1509.2 2457.3,1518.1 2458.4,1528.9 2459.5,1543.9 2461.2,1532.7 2462.3,1531.5 2463.5,1523.8 2464.6,1540.6 2466.3,1533.8 2467.4,1593.3 2468.5,1547.9 2469.6,1556.3 2470.8,1566.1 2471.9,1577.6 2473.6,1545.1 2474.7,1540.6 2475.8,1531.6 2476.9,1537.2 2477.8,1525.9 2478.8,1519.9 2479.7,1506.9 2480.8,1510.0 2482.0,1519.8 2483.6,1511.4 2484.6,1511.1 2485.6,1505.5 2486.7,1506.3 2487.7,1499.3 2488.7,1499.1 2489.8,1504.5 2490.9,1505.8 2492.0,1496.2 2493.2,1493.4 2494.3,1483.4 2495.2,1481.4 2496.2,1482.8 2497.1,1481.1 2498.2,1476.2 2499.3,1478.3 2500.5,1470.6 2501.6,1468.8 2502.5,1475.9 2503.5,1476.0 2504.4,1482.3 2505.4,1480.1 2506.4,1471.2 2507.3,1470.6 2508.3,1462.1 2509.4,1464.6 2510.6,1469.9 2511.6,1468.0 2512.6,1462.8 2513.5,1463.3 2514.5,1458.7 2515.4,1455.5 2516.4,1455.1 2517.3,1450.9 2518.4,1449.1 2519.6,1450.5 2520.7,1447.5 2521.8,1447.5 2522.8,1446.4 2523.8,1441.1 2524.7,1442.7 2525.7,1437.4 2526.8,1454.2 2528.5,1443.0 2529.5,1434.9 2530.4,1435.6 2531.4,1427.4 2532.4,1423.9 2533.3,1429.7 2534.3,1428.2 2535.2,1432.9 2536.9,1426.7 2538.1,1441.7 2539.2,1454.2 2540.1,1444.5 2541.1,1439.9 2542.0,1428.4 2543.1,1424.5 2544.2,1426.9 2545.3,1421.8 2546.4,1421.7 2548.1,1437.4 2549.2,1431.3 2550.4,1420.6 2551.5,1422.5 2552.6,1426.2" fill="none" stroke="#262626" stroke-opacity="0.9" stroke-width="1.15" stroke-linejoin="round"/>
<rect x="106.10" y="1402.10" width="597.30" height="57.60" rx="3.5" ry="3.5" fill="#fff" fill-opacity="0.8" stroke="#ccc" stroke-width="1.6"/>
<rect class="rS" x="113.10" y="1410.70" width="34" height="13.2"/>
<text x="158.60" y="1422.10" font-size="18.2" textLength="122.4" lengthAdjust="spacingAndGlyphs">0 - Steady Bull</text>
<rect class="rA" x="113.10" y="1436.90" width="34" height="13.2"/>
<text x="157.00" y="1448.80" font-size="18.2" textLength="143.1" lengthAdjust="spacingAndGlyphs">1 - Accumulation</text>
<rect class="rT" x="332.90" y="1410.70" width="34" height="13.2"/>
<text x="378.40" y="1422.10" font-size="18.2" textLength="110.4" lengthAdjust="spacingAndGlyphs">2 - Transition</text>
<rect class="rV" x="332.90" y="1436.90" width="34" height="13.2"/>
<text x="378.40" y="1448.80" font-size="18.2" textLength="126.8" lengthAdjust="spacingAndGlyphs">3 - Volatile Bull</text>
<rect class="rR" x="537.70" y="1410.70" width="34" height="13.2"/>
<text x="584.20" y="1422.10" font-size="18.2" textLength="113.6" lengthAdjust="spacingAndGlyphs">4 - Correction</text>
<rect class="rC" x="537.70" y="1436.90" width="34" height="13.2"/>
<text x="583.20" y="1448.80" font-size="18.2" textLength="73.4" lengthAdjust="spacingAndGlyphs">5 - Crisis</text>
<rect x="98.20" y="1394.00" width="2570.80" height="610.00" fill="none" stroke="#000" stroke-width="1.67"/>
<line x1="90.90" y1="1947.80" x2="98.20" y2="1947.80" stroke="#000" stroke-width="1.67"/>
<text x="82.9" y="1955.40" font-size="21.8" text-anchor="end" textLength="39.4" lengthAdjust="spacingAndGlyphs">100</text>
<line x1="90.90" y1="1858.65" x2="98.20" y2="1858.65" stroke="#000" stroke-width="1.67"/>
<text x="82.9" y="1866.25" font-size="21.8" text-anchor="end" textLength="39.4" lengthAdjust="spacingAndGlyphs">200</text>
<line x1="90.90" y1="1769.50" x2="98.20" y2="1769.50" stroke="#000" stroke-width="1.67"/>
<text x="82.9" y="1777.10" font-size="21.8" text-anchor="end" textLength="39.4" lengthAdjust="spacingAndGlyphs">300</text>
<line x1="90.90" y1="1680.35" x2="98.20" y2="1680.35" stroke="#000" stroke-width="1.67"/>
<text x="82.9" y="1687.95" font-size="21.8" text-anchor="end" textLength="39.4" lengthAdjust="spacingAndGlyphs">400</text>
<line x1="90.90" y1="1591.20" x2="98.20" y2="1591.20" stroke="#000" stroke-width="1.67"/>
<text x="82.9" y="1598.80" font-size="21.8" text-anchor="end" textLength="39.4" lengthAdjust="spacingAndGlyphs">500</text>
<line x1="90.90" y1="1502.05" x2="98.20" y2="1502.05" stroke="#000" stroke-width="1.67"/>
<text x="82.9" y="1509.65" font-size="21.8" text-anchor="end" textLength="39.4" lengthAdjust="spacingAndGlyphs">600</text>
<line x1="90.90" y1="1412.90" x2="98.20" y2="1412.90" stroke="#000" stroke-width="1.67"/>
<text x="82.9" y="1420.50" font-size="21.8" text-anchor="end" textLength="39.4" lengthAdjust="spacingAndGlyphs">700</text>
<line x1="239.10" y1="2004.00" x2="239.10" y2="2011.30" stroke="#000" stroke-width="1.67"/>
<text x="238.60" y="2035.3" font-size="21.3" text-anchor="middle" textLength="52.8" lengthAdjust="spacingAndGlyphs">2006</text>
<line x1="470.31" y1="2004.00" x2="470.31" y2="2011.30" stroke="#000" stroke-width="1.67"/>
<text x="469.81" y="2035.3" font-size="21.3" text-anchor="middle" textLength="52.8" lengthAdjust="spacingAndGlyphs">2008</text>
<line x1="701.84" y1="2004.00" x2="701.84" y2="2011.30" stroke="#000" stroke-width="1.67"/>
<text x="701.34" y="2035.3" font-size="21.3" text-anchor="middle" textLength="52.8" lengthAdjust="spacingAndGlyphs">2010</text>
<line x1="933.05" y1="2004.00" x2="933.05" y2="2011.30" stroke="#000" stroke-width="1.67"/>
<text x="932.55" y="2035.3" font-size="21.3" text-anchor="middle" textLength="52.8" lengthAdjust="spacingAndGlyphs">2012</text>
<line x1="1164.58" y1="2004.00" x2="1164.58" y2="2011.30" stroke="#000" stroke-width="1.67"/>
<text x="1164.08" y="2035.3" font-size="21.3" text-anchor="middle" textLength="52.8" lengthAdjust="spacingAndGlyphs">2014</text>
<line x1="1395.79" y1="2004.00" x2="1395.79" y2="2011.30" stroke="#000" stroke-width="1.67"/>
<text x="1395.29" y="2035.3" font-size="21.3" text-anchor="middle" textLength="52.8" lengthAdjust="spacingAndGlyphs">2016</text>
<line x1="1627.32" y1="2004.00" x2="1627.32" y2="2011.30" stroke="#000" stroke-width="1.67"/>
<text x="1626.82" y="2035.3" font-size="21.3" text-anchor="middle" textLength="52.8" lengthAdjust="spacingAndGlyphs">2018</text>
<line x1="1858.53" y1="2004.00" x2="1858.53" y2="2011.30" stroke="#000" stroke-width="1.67"/>
<text x="1858.03" y="2035.3" font-size="21.3" text-anchor="middle" textLength="52.8" lengthAdjust="spacingAndGlyphs">2020</text>
<line x1="2090.06" y1="2004.00" x2="2090.06" y2="2011.30" stroke="#000" stroke-width="1.67"/>
<text x="2089.56" y="2035.3" font-size="21.3" text-anchor="middle" textLength="52.8" lengthAdjust="spacingAndGlyphs">2022</text>
<line x1="2321.27" y1="2004.00" x2="2321.27" y2="2011.30" stroke="#000" stroke-width="1.67"/>
<text x="2320.77" y="2035.3" font-size="21.3" text-anchor="middle" textLength="52.8" lengthAdjust="spacingAndGlyphs">2024</text>
<line x1="2552.80" y1="2004.00" x2="2552.80" y2="2011.30" stroke="#000" stroke-width="1.67"/>
<text x="2552.30" y="2035.3" font-size="21.3" text-anchor="middle" textLength="52.8" lengthAdjust="spacingAndGlyphs">2026</text>
<text transform="translate(29.9,1699.00) rotate(-90)" font-size="21.3" text-anchor="middle" textLength="102.4" lengthAdjust="spacingAndGlyphs">SPY Close</text>
<text x="1382.45" y="1381.30" font-size="28" font-weight="bold" text-anchor="middle" textLength="472.0" lengthAdjust="spacingAndGlyphs">Consensus Risk Ranks (y_final)</text>
<text x="1384.4" y="2062.9" font-size="21.3" text-anchor="middle" textLength="48.6" lengthAdjust="spacingAndGlyphs">Date</text>
</svg></body></html>
